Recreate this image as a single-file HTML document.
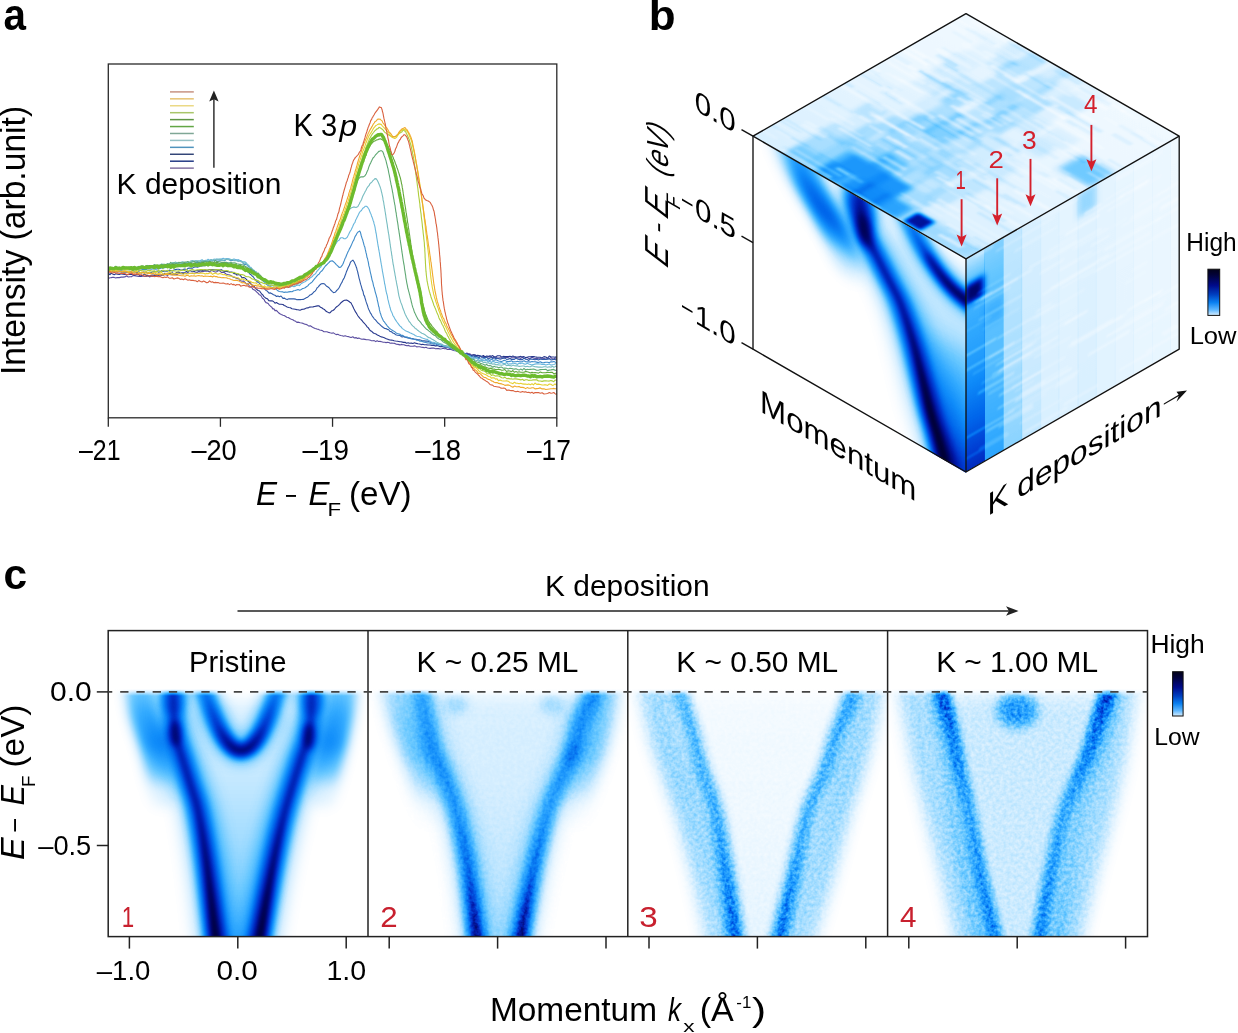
<!DOCTYPE html>
<html><head><meta charset="utf-8"><title>figure</title>
<style>
html,body{margin:0;padding:0;background:#fff;}
body{width:1238px;height:1033px;overflow:hidden;position:relative;}
svg{position:absolute;left:0;top:0;font-family:"Liberation Sans",sans-serif;}
text{opacity:.999}
</style></head><body>
<svg width="1238" height="1033" viewBox="0 0 1238 1033">
<text x="3.59" y="30.3" font-size="43.52" font-weight="bold" font-style="normal" fill="#000" textLength="22.45" lengthAdjust="spacingAndGlyphs" >a</text>
<text x="648.82" y="30" font-size="42.96" font-weight="bold" font-style="normal" fill="#000" textLength="26.87" lengthAdjust="spacingAndGlyphs" >b</text>
<text x="3.4" y="588.7" font-size="42.96" font-weight="bold" font-style="normal" fill="#000" textLength="23.61" lengthAdjust="spacingAndGlyphs" >c</text>
<clipPath id="clipA"><rect x="108.3" y="64" width="448.5" height="353.8"/></clipPath>
<g clip-path="url(#clipA)" fill="none" stroke-linejoin="round" stroke-linecap="round">
<path d="M108.0,277.9 108.9,278.2 110.0,277.8 111.2,277.6 112.7,277.2 114.2,277.4 115.8,277.9 117.6,277.5 119.3,277.6 121.2,277.1 123.0,277.1 124.8,276.9 126.6,275.9 128.3,277.0 130.0,276.7 131.5,276.7 132.9,275.6 134.4,275.6 135.8,275.9 137.3,276.1 138.7,276.5 140.1,276.3 141.6,276.5 143.1,276.0 144.6,276.4 146.2,276.4 147.8,275.9 149.5,276.9 151.2,276.3 153.0,276.5 154.3,275.6 155.7,275.5 157.1,275.6 158.5,275.6 160.0,275.8 161.5,275.5 163.0,275.1 164.5,274.7 166.0,274.8 167.6,275.4 169.2,274.4 170.7,274.7 172.3,274.7 173.9,273.7 175.5,274.2 177.1,274.7 178.7,273.1 180.3,273.7 181.9,273.7 183.4,273.2 185.0,273.7 186.5,273.4 188.0,272.6 189.5,273.5 191.1,273.3 192.6,273.2 194.2,273.3 195.7,272.7 197.3,272.4 198.9,271.6 200.4,272.3 202.0,271.6 203.6,271.5 205.1,271.0 206.6,271.1 208.1,271.2 209.6,272.0 211.1,270.4 212.5,270.7 213.9,271.5 215.3,272.1 216.7,271.8 218.0,270.8 219.7,270.8 221.3,272.4 222.9,272.3 224.4,272.6 226.0,274.0 227.5,274.5 228.9,274.7 230.4,275.3 231.8,276.0 233.1,277.1 234.5,277.3 235.8,278.0 237.1,278.6 238.4,278.3 239.6,280.3 240.8,280.8 242.0,281.2 243.5,281.0 245.0,282.4 246.4,284.0 247.8,283.8 249.1,285.5 250.4,287.0 251.6,286.9 252.8,289.2 253.9,289.7 255.0,290.3 256.1,291.4 257.1,292.5 258.0,293.1 259.4,294.8 260.5,295.2 261.5,296.5 262.4,298.2 263.3,298.8 264.1,299.5 265.0,301.4 266.0,302.7 267.1,302.9 268.2,303.5 269.3,305.1 270.5,306.2 271.7,307.1 272.8,308.9 273.9,308.7 275.0,310.6 276.3,310.4 277.5,311.5 278.6,312.8 279.9,313.8 281.3,314.5 283.0,315.2 284.1,315.6 285.4,316.3 286.8,317.2 288.3,317.5 289.8,318.5 291.3,319.3 292.8,319.7 294.3,320.7 295.7,321.3 296.9,322.4 298.0,322.1 300.2,322.7 301.7,323.0 303.1,323.4 305.0,324.2 306.2,324.4 307.5,325.1 308.9,326.1 310.3,325.7 311.8,326.7 313.5,327.7 315.2,328.5 317.0,329.1 318.3,329.3 319.6,330.0 321.0,330.3 322.4,330.6 323.9,331.7 325.4,331.7 327.0,331.8 328.6,332.4 330.1,332.8 331.8,333.2 333.4,332.9 335.0,333.9 336.4,334.6 337.8,334.3 339.2,334.9 340.7,335.5 342.2,335.7 343.6,336.2 345.1,335.7 346.6,336.3 348.2,336.6 349.7,337.1 351.2,337.5 352.8,336.8 354.4,338.0 356.0,337.6 357.4,338.4 358.9,338.1 360.4,338.7 361.9,339.2 363.4,339.1 365.0,339.4 366.5,339.8 368.1,339.8 369.6,340.0 371.2,340.6 372.7,340.7 374.2,340.6 375.7,341.6 377.2,340.8 378.6,341.5 380.0,341.4 381.6,341.8 383.2,342.2 384.7,342.3 386.1,342.6 387.5,342.3 388.9,342.5 390.3,343.3 391.8,343.1 393.2,343.3 394.8,343.4 396.4,344.3 398.1,344.4 400.0,344.9 401.3,344.4 402.6,344.8 404.1,344.7 405.5,345.4 407.0,345.8 408.6,345.4 410.2,346.2 411.8,346.2 413.4,346.1 415.0,345.9 416.6,346.9 418.2,346.7 419.8,346.8 421.4,347.2 423.0,347.4 424.5,347.8 425.9,347.3 427.4,348.0 428.7,348.2 430.0,348.4 431.9,348.1 433.7,348.1 435.4,348.7 437.1,348.6 438.6,348.6 440.2,349.0 441.7,348.7 443.1,348.3 444.5,348.8 445.9,348.6 447.3,349.4 448.7,349.4 450.0,349.3 451.7,349.8 453.4,350.4 455.0,350.6 456.6,351.3 458.1,351.5 459.6,352.2 461.0,353.0 462.4,353.5 463.7,352.9 465.0,353.9 466.9,353.1 468.5,353.9 470.0,353.8 471.5,355.4 473.1,354.7 475.0,355.5 476.3,355.6 477.6,355.9 479.0,355.8 480.4,356.4 481.9,357.2 483.4,356.6 485.0,357.0 486.6,357.3 488.3,356.9 490.0,356.6 491.4,357.0 492.8,357.8 494.2,356.7 495.6,357.2 497.1,358.0 498.6,358.0 500.1,357.7 501.7,358.1 503.3,357.9 504.9,357.4 506.6,357.2 508.3,357.7 510.0,358.4 511.4,357.8 512.9,357.7 514.4,357.8 516.0,357.5 517.5,358.1 519.1,357.7 520.8,358.4 522.4,357.2 524.0,358.4 525.6,358.0 527.2,357.4 528.8,358.6 530.4,358.2 532.0,357.3 533.5,358.0 535.0,358.5 536.7,358.2 538.5,358.8 540.3,358.7 542.1,358.7 544.0,358.6 545.8,359.0 547.6,358.7 549.3,358.6 550.9,357.5 552.4,358.9 553.8,359.0 555.0,358.3 556.1,358.2 557.0,359.3" stroke="#5b4ea0" stroke-width="1.1"/>
<path d="M108.0,272.7 108.9,273.8 110.0,274.7 111.2,273.2 112.7,274.0 114.2,274.7 115.8,273.8 117.6,274.2 119.3,274.5 121.2,273.7 123.0,274.2 124.8,274.4 126.6,274.7 128.3,274.4 130.0,274.4 131.5,274.1 132.9,274.5 134.4,275.1 135.8,274.8 137.3,274.4 138.7,274.5 140.1,276.2 141.6,275.5 143.1,275.4 144.6,273.9 146.2,275.4 147.8,275.3 149.5,275.9 151.2,275.3 153.0,275.0 154.3,275.2 155.7,274.0 157.1,275.2 158.5,274.8 160.0,274.2 161.5,275.0 163.0,275.0 164.5,273.4 166.0,273.6 167.6,273.9 169.2,273.7 170.7,273.2 172.3,272.8 173.9,274.0 175.5,273.4 177.1,272.2 178.7,272.0 180.3,273.2 181.9,272.7 183.4,272.9 185.0,272.4 186.5,271.5 188.0,271.9 189.5,270.6 191.1,271.1 192.6,271.3 194.2,271.4 195.7,270.7 197.3,270.8 198.9,270.9 200.4,270.7 202.0,270.7 203.6,270.3 205.1,270.0 206.6,270.4 208.1,270.0 209.6,269.5 211.1,269.5 212.5,269.8 213.9,269.8 215.3,269.9 216.7,269.9 218.0,270.1 219.8,270.1 221.5,269.8 223.2,270.9 224.8,271.5 226.4,271.5 228.0,271.6 229.6,272.3 231.1,272.1 232.5,272.2 234.0,273.6 235.4,273.6 236.8,275.0 238.1,274.7 239.4,274.6 240.7,275.9 242.0,277.7 243.5,277.6 245.0,278.1 246.4,279.3 247.8,281.0 249.1,282.0 250.4,283.0 251.6,284.7 252.8,285.4 253.9,286.2 255.0,287.5 256.1,289.0 257.1,289.6 258.0,290.5 259.6,291.0 260.8,292.7 261.9,294.3 262.9,295.0 263.9,296.6 264.9,297.4 266.0,298.4 267.5,298.8 269.0,300.8 270.5,300.9 272.0,300.8 273.5,301.5 275.0,303.2 276.6,302.5 277.9,303.6 279.3,304.2 281.0,304.3 283.0,304.5 284.2,305.5 285.6,306.1 287.1,307.0 288.7,307.5 290.4,307.7 292.0,308.7 293.6,309.0 295.2,309.3 296.7,309.6 298.0,309.7 300.0,310.2 301.7,309.4 303.3,309.2 304.9,308.9 306.4,308.0 308.0,307.9 309.7,307.1 311.4,307.0 313.0,306.9 314.6,306.5 316.2,306.1 317.5,305.9 319.1,305.9 320.5,307.3 321.7,307.8 323.0,308.8 324.4,309.4 325.8,311.1 327.3,311.9 329.0,312.9 330.2,312.6 331.5,311.1 332.9,310.5 334.3,309.5 335.7,307.7 337.0,306.5 338.3,305.6 339.6,304.3 341.0,302.7 342.2,301.8 343.5,300.8 344.6,300.3 346.6,300.1 348.4,301.0 350.0,302.3 350.9,302.7 351.7,304.3 352.5,305.7 353.2,307.2 354.0,309.0 354.8,310.4 355.5,311.9 356.2,312.8 357.0,314.3 358.0,316.0 358.9,317.1 359.9,318.3 361.0,319.5 362.1,320.6 363.2,322.2 364.4,323.4 365.4,324.5 366.3,325.6 367.2,327.0 368.2,327.6 369.3,329.4 370.5,330.8 372.0,331.6 373.1,332.8 374.3,333.5 375.6,333.8 377.0,334.7 378.4,335.4 379.9,336.3 381.4,336.9 382.9,337.3 384.3,337.7 385.7,338.4 387.0,338.9 388.6,339.6 390.0,340.0 391.3,340.1 392.6,340.2 394.0,340.8 395.6,341.0 397.6,341.2 400.0,341.8 401.1,341.8 402.4,342.1 403.7,342.4 405.1,342.3 406.5,343.2 408.1,342.7 409.6,343.2 411.3,343.1 412.9,343.5 414.6,342.8 416.2,343.4 417.9,343.8 419.6,344.0 421.2,344.6 422.8,344.3 424.4,344.7 425.9,344.7 427.3,344.9 428.7,345.0 430.0,345.0 431.9,345.4 433.7,345.2 435.4,345.9 437.1,345.6 438.6,346.1 440.2,346.8 441.7,346.4 443.1,346.7 444.5,347.2 445.9,347.1 447.3,347.2 448.7,347.7 450.0,348.1 451.7,348.7 453.4,348.9 455.0,350.1 456.6,350.7 458.1,351.0 459.6,351.7 461.0,352.1 462.4,353.5 463.7,353.0 465.0,354.1 466.9,354.0 468.5,354.2 470.0,355.0 471.5,355.4 473.1,354.9 475.0,354.8 476.3,355.6 477.6,355.3 479.0,355.6 480.4,356.2 481.9,356.2 483.4,355.5 485.0,356.9 486.6,356.0 488.3,356.4 490.0,355.8 491.4,356.2 492.8,355.5 494.2,357.1 495.6,357.0 497.1,355.9 498.6,355.8 500.1,355.8 501.7,357.1 503.3,356.4 504.9,356.6 506.6,356.5 508.3,356.6 510.0,356.2 511.4,356.7 512.9,356.1 514.4,356.7 516.0,356.9 517.5,357.0 519.1,356.7 520.8,356.4 522.4,356.9 524.0,356.6 525.6,357.6 527.2,357.2 528.8,356.8 530.4,356.7 532.0,356.6 533.5,356.5 535.0,356.8 536.7,357.1 538.5,357.2 540.3,357.2 542.1,357.9 544.0,356.6 545.8,357.0 547.6,358.2 549.3,356.1 550.9,356.7 552.4,357.0 553.8,357.0 555.0,357.2 556.1,356.9 557.0,357.1" stroke="#27378c" stroke-width="1.1"/>
<path d="M108.0,271.5 108.9,271.9 110.0,270.7 111.2,271.2 112.7,271.6 114.2,271.2 115.8,271.2 117.6,272.0 119.3,271.5 121.2,272.1 123.0,272.2 124.8,272.1 126.6,272.2 128.3,271.9 130.0,271.4 131.5,272.0 132.9,272.3 134.4,271.8 135.8,272.1 137.3,272.5 138.7,271.8 140.1,272.5 141.6,273.1 143.1,272.0 144.6,272.3 146.2,272.2 147.8,272.9 149.5,272.3 151.2,272.5 153.0,271.7 154.3,271.9 155.7,271.8 157.1,270.9 158.5,272.3 160.0,271.9 161.5,270.6 163.0,271.6 164.5,271.1 166.0,271.2 167.6,271.1 169.2,270.1 170.7,270.5 172.3,271.1 173.9,270.0 175.5,269.6 177.1,269.3 178.7,269.2 180.3,269.7 181.9,270.1 183.4,269.4 185.0,269.1 186.5,269.8 188.0,268.4 189.5,268.0 191.1,268.3 192.6,268.1 194.2,267.1 195.7,266.7 197.3,267.1 198.9,266.8 200.4,265.8 202.0,266.0 203.6,265.5 205.1,265.7 206.6,265.2 208.1,265.0 209.6,264.6 211.1,265.0 212.5,265.0 213.9,264.1 215.3,264.5 216.7,263.7 218.0,264.0 219.8,264.3 221.5,264.7 223.2,263.9 224.8,264.1 226.4,264.3 228.0,263.7 229.6,264.6 231.1,264.5 232.5,265.2 234.0,264.9 235.4,264.8 236.8,266.1 238.1,266.6 239.4,266.7 240.7,267.9 242.0,267.9 243.4,268.4 244.8,269.7 246.1,269.7 247.4,271.1 248.6,272.5 249.8,274.0 251.0,274.7 252.1,276.0 253.2,276.7 254.2,278.3 255.2,280.0 256.2,279.9 257.1,282.2 258.0,281.7 259.6,283.5 260.8,284.9 261.9,286.5 262.9,286.5 263.9,287.2 264.9,289.3 266.0,290.4 267.5,291.3 269.0,293.1 270.5,292.9 272.0,293.7 273.5,294.7 275.0,295.2 276.6,296.5 277.9,295.9 279.3,296.8 281.0,296.0 283.0,298.4 284.3,298.1 285.7,298.9 287.2,299.6 288.9,298.8 290.6,298.9 292.2,298.9 293.9,298.9 295.4,299.1 296.8,299.7 298.0,299.5 300.3,299.6 301.9,299.5 303.3,299.4 305.0,298.6 306.2,297.8 307.5,297.3 308.8,296.2 310.1,294.9 311.5,294.5 312.8,293.2 314.0,291.8 315.1,291.1 316.3,289.5 317.3,287.6 318.4,286.9 319.4,285.4 320.4,284.5 321.4,283.7 323.1,283.6 324.7,284.1 326.3,286.0 328.0,287.0 329.4,288.2 330.7,290.0 332.1,291.4 333.5,292.6 335.0,292.3 335.8,291.8 336.7,290.4 337.6,289.7 338.5,288.6 339.4,287.3 340.3,285.2 341.2,283.5 342.1,282.1 343.0,279.9 343.6,278.9 344.3,277.7 345.0,275.7 345.6,274.3 346.3,272.1 347.0,270.6 347.7,268.8 348.3,267.2 349.0,265.9 349.6,264.8 350.2,262.8 350.7,261.9 351.2,261.4 352.9,260.1 354.2,262.0 355.5,265.1 355.9,265.9 356.3,267.3 356.7,268.1 357.1,270.1 357.5,271.1 357.9,273.0 358.3,274.6 358.7,276.4 359.1,278.3 359.5,279.7 359.9,281.2 360.3,282.8 360.8,284.7 361.2,285.9 361.7,287.6 362.1,289.3 362.6,290.6 363.1,291.7 363.5,294.1 364.0,295.5 364.5,296.0 365.0,298.0 365.5,299.6 366.0,301.4 366.5,302.9 367.0,304.2 367.5,305.6 368.0,307.4 368.6,309.2 369.2,310.2 369.8,311.6 370.5,313.2 371.3,314.2 372.2,316.0 373.2,317.3 374.2,318.8 375.2,319.7 376.3,320.9 377.3,322.1 378.4,323.3 379.5,324.1 380.7,325.4 382.0,326.5 383.3,327.5 384.7,328.5 386.0,328.6 387.4,329.4 388.7,329.7 390.0,331.5 391.3,331.6 392.3,332.5 393.3,333.3 394.3,333.5 395.7,334.7 397.5,335.2 400.0,335.5 401.1,336.4 402.2,336.9 403.5,336.4 404.9,337.3 406.3,337.5 407.8,337.9 409.4,338.2 411.0,338.7 412.7,338.6 414.4,339.2 416.1,339.2 417.8,339.8 419.4,339.7 421.1,340.2 422.7,340.9 424.3,340.9 425.9,341.1 427.3,341.1 428.7,341.5 430.0,342.0 431.9,342.7 433.7,343.0 435.4,343.4 437.1,343.7 438.6,344.4 440.2,344.4 441.7,344.8 443.1,345.6 444.5,345.8 445.9,346.1 447.3,346.5 448.7,347.0 450.0,347.7 451.7,348.2 453.4,348.5 455.0,349.6 456.6,350.3 458.1,350.7 459.6,351.9 461.0,352.2 462.4,352.8 463.7,353.9 465.0,354.6 466.9,354.3 468.5,355.3 470.0,355.0 471.5,356.7 473.1,355.7 475.0,356.8 476.3,356.2 477.6,357.0 479.0,357.8 480.4,355.9 481.9,357.0 483.4,357.6 485.0,357.5 486.6,357.4 488.3,358.9 490.0,358.1 491.4,357.4 492.8,358.6 494.2,357.5 495.6,358.9 497.1,358.2 498.6,358.6 500.1,359.2 501.7,358.7 503.3,358.1 504.9,358.1 506.6,359.4 508.3,359.3 510.0,358.6 511.4,359.4 512.9,359.3 514.4,359.4 516.0,358.1 517.5,359.0 519.1,359.6 520.8,359.5 522.4,359.6 524.0,358.1 525.6,359.3 527.2,359.5 528.8,360.4 530.4,358.9 532.0,359.2 533.5,359.4 535.0,359.8 536.7,359.2 538.5,359.9 540.3,359.0 542.1,359.5 544.0,359.2 545.8,359.5 547.6,359.1 549.3,358.7 550.9,359.9 552.4,359.6 553.8,359.2 555.0,359.5 556.1,359.9 557.0,359.0" stroke="#2f5aa8" stroke-width="1.1"/>
<path d="M108.0,270.0 108.9,270.2 110.0,270.2 111.2,269.9 112.7,269.1 114.2,270.6 115.8,270.2 117.6,270.1 119.3,269.9 121.2,270.2 123.0,269.9 124.8,269.6 126.6,269.7 128.3,269.8 130.0,269.7 131.5,269.4 132.9,270.2 134.4,269.3 135.8,270.2 137.3,269.4 138.7,270.0 140.1,270.4 141.6,269.8 143.1,269.3 144.6,269.6 146.2,269.6 147.8,268.6 149.5,269.0 151.2,269.2 153.0,268.8 154.3,268.9 155.7,269.1 157.1,268.9 158.5,268.8 160.0,268.5 161.5,268.0 163.0,267.9 164.5,267.6 166.0,267.4 167.6,267.3 169.2,266.4 170.7,266.8 172.3,266.7 173.9,266.1 175.5,266.3 177.1,266.3 178.7,265.8 180.3,266.6 181.9,264.3 183.4,265.1 185.0,264.2 186.5,265.2 188.0,265.8 189.5,263.2 191.1,264.1 192.6,264.0 194.2,263.4 195.7,263.5 197.3,262.0 198.9,263.1 200.4,262.6 202.0,262.1 203.6,261.6 205.1,261.9 206.6,261.1 208.1,261.2 209.6,260.7 211.1,259.7 212.5,260.5 213.9,260.4 215.3,260.5 216.7,259.7 218.0,260.0 219.8,260.2 221.5,259.9 223.2,260.3 224.8,260.6 226.4,259.3 228.0,258.8 229.6,260.1 231.1,260.4 232.5,260.3 234.0,260.4 235.4,259.9 236.8,260.1 238.1,261.1 239.4,260.7 240.7,260.7 242.0,261.6 243.4,263.8 244.8,264.4 246.1,264.2 247.4,265.2 248.6,266.8 249.8,267.6 251.0,269.8 252.1,270.4 253.2,271.2 254.2,273.5 255.2,273.8 256.2,275.3 257.1,276.1 258.0,276.9 259.6,278.6 260.8,279.3 261.9,279.8 262.9,280.6 263.9,281.8 264.9,282.8 266.0,284.0 267.5,285.0 269.0,286.1 270.5,286.8 272.0,287.2 273.5,288.0 275.0,288.0 276.6,289.7 277.9,290.8 279.3,291.5 281.0,291.7 283.0,291.9 284.2,292.4 285.6,292.0 287.1,292.2 288.7,291.9 290.4,291.6 292.0,291.8 293.7,290.7 295.2,290.5 296.7,290.0 298.0,289.6 299.7,290.3 301.2,289.5 302.5,288.6 303.8,288.2 305.1,287.7 306.4,286.8 307.8,285.9 308.9,284.4 310.0,283.6 311.1,282.8 312.2,281.8 313.3,280.3 314.5,278.8 315.6,277.6 316.8,276.2 318.0,274.8 319.0,274.3 320.0,272.6 321.0,271.5 322.1,270.7 323.2,269.1 324.3,267.5 325.4,266.0 326.5,265.0 327.4,264.2 328.4,263.0 329.2,262.3 330.0,261.4 332.2,260.8 333.5,261.7 335.0,263.1 336.3,264.6 337.7,265.8 339.1,267.4 340.7,267.3 341.3,266.4 341.9,265.6 342.5,264.8 343.1,263.8 343.7,262.0 344.4,260.4 345.1,258.3 345.7,257.5 346.5,255.3 347.2,253.6 348.0,251.7 348.6,250.7 349.3,249.1 350.0,247.9 350.7,246.4 351.5,244.7 352.2,243.1 353.0,241.2 353.8,240.1 354.5,238.1 355.2,236.3 355.9,235.4 356.6,234.0 357.2,233.0 357.8,232.3 358.3,231.9 359.7,231.0 360.5,232.6 361.2,235.5 362.0,238.2 362.4,239.0 362.8,240.3 363.1,241.5 363.5,242.9 363.9,244.6 364.3,245.9 364.8,246.9 365.2,249.2 365.6,250.6 366.0,252.7 366.4,254.0 366.7,255.6 367.0,257.5 367.4,258.1 367.7,259.5 368.0,260.9 368.3,262.1 368.6,263.8 368.9,265.9 369.3,267.1 369.6,268.4 369.9,270.0 370.3,272.1 370.6,273.3 371.0,274.9 371.3,276.5 371.7,278.2 372.0,279.8 372.4,281.0 372.8,282.2 373.1,283.7 373.5,285.6 373.9,286.9 374.3,288.0 374.7,289.6 375.0,291.1 375.4,292.5 375.8,293.8 376.2,295.1 376.6,296.8 377.0,298.0 377.3,300.2 377.7,301.6 378.0,302.8 378.4,305.0 378.7,306.5 379.1,307.4 379.4,309.9 379.8,311.2 380.2,313.0 380.6,313.7 381.1,315.6 381.6,316.9 382.1,318.1 382.7,319.3 383.5,321.1 384.4,321.9 385.3,323.3 386.2,324.4 387.2,325.8 388.2,326.9 389.3,328.2 390.6,329.1 391.9,330.1 393.4,330.9 395.0,331.9 396.1,332.9 397.3,333.4 398.6,333.9 399.9,334.3 401.3,335.4 402.7,335.4 404.1,336.3 405.6,336.9 407.2,337.1 408.7,337.9 410.3,337.9 411.9,338.9 413.5,339.2 415.1,339.2 416.8,340.2 418.4,340.3 420.0,341.3 421.4,341.2 422.9,341.7 424.4,342.2 425.9,342.4 427.5,342.9 429.1,343.0 430.7,343.6 432.4,343.8 434.0,344.1 435.6,343.7 437.2,345.0 438.8,345.0 440.4,344.9 441.9,345.6 443.4,346.0 444.9,346.5 446.3,346.3 447.6,347.2 448.8,347.1 450.0,348.1 452.1,348.1 454.0,349.1 455.8,349.5 457.3,350.1 458.8,351.4 460.1,352.2 461.3,353.2 462.6,353.5 463.8,353.5 465.0,353.5 466.9,354.7 468.5,355.3 470.0,355.7 471.5,356.8 473.1,357.1 475.0,357.3 476.3,357.8 477.6,357.9 479.0,358.4 480.4,358.9 481.9,359.2 483.4,358.7 485.0,358.6 486.6,360.1 488.3,359.8 490.0,360.4 491.4,359.3 492.8,360.1 494.2,360.3 495.6,359.8 497.1,360.3 498.6,361.0 500.1,361.3 501.7,361.6 503.3,360.6 504.9,360.4 506.6,361.4 508.3,361.6 510.0,361.4 511.4,360.7 512.9,361.7 514.4,361.8 516.0,361.7 517.5,361.3 519.1,361.7 520.8,361.9 522.4,361.4 524.0,360.8 525.6,361.8 527.2,361.9 528.8,361.7 530.4,362.1 532.0,361.5 533.5,361.7 535.0,361.7 536.7,362.1 538.5,362.6 540.3,361.7 542.1,362.8 544.0,362.6 545.8,362.3 547.6,362.2 549.3,362.7 550.9,361.8 552.4,361.9 553.8,361.4 555.0,362.1 556.1,362.5 557.0,362.2" stroke="#3f8bc9" stroke-width="1.1"/>
<path d="M108.0,269.2 108.9,268.9 110.0,269.0 111.2,268.3 112.7,269.4 114.2,268.7 115.8,268.4 117.6,268.5 119.3,268.4 121.2,269.2 123.0,269.2 124.8,268.1 126.6,269.0 128.3,269.0 130.0,268.2 131.5,267.8 132.9,268.0 134.4,268.0 135.8,268.4 137.3,268.0 138.7,267.2 140.1,268.1 141.6,267.2 143.1,268.2 144.6,267.2 146.2,267.3 147.8,267.1 149.5,267.1 151.2,267.8 153.0,267.4 154.3,267.1 155.7,266.9 157.1,265.9 158.5,266.2 160.0,266.0 161.5,265.6 163.0,266.1 164.5,265.3 166.0,265.1 167.6,264.8 169.2,264.1 170.7,265.1 172.3,265.2 173.9,264.5 175.5,263.8 177.1,262.8 178.7,263.9 180.3,264.1 181.9,263.5 183.4,263.6 185.0,263.7 186.5,263.3 188.0,262.4 189.5,262.9 191.1,262.5 192.6,261.3 194.2,261.6 195.7,260.9 197.3,261.2 198.9,261.3 200.4,260.4 202.0,259.7 203.6,261.0 205.1,260.4 206.6,260.7 208.1,259.2 209.6,260.1 211.1,260.4 212.5,260.3 213.9,259.1 215.3,259.3 216.7,259.0 218.0,259.4 219.8,259.4 221.5,258.9 223.2,258.2 224.8,259.1 226.4,258.6 228.0,259.1 229.6,258.9 231.1,259.6 232.5,259.5 234.0,258.9 235.4,259.4 236.8,260.3 238.1,259.6 239.4,260.3 240.7,261.1 242.0,261.6 243.4,261.9 244.8,261.8 246.1,262.7 247.4,264.4 248.6,265.5 249.8,267.6 251.0,267.2 252.1,269.3 253.2,270.3 254.2,270.3 255.2,271.8 256.2,273.3 257.1,273.9 258.0,274.9 259.6,276.7 260.8,277.5 261.9,279.3 262.9,279.9 263.9,281.0 264.9,282.4 266.0,282.7 267.5,283.9 269.0,285.2 270.5,284.9 272.0,285.3 273.5,286.0 275.0,285.8 276.6,286.9 277.9,286.1 279.3,287.2 281.0,286.8 283.0,286.6 284.2,287.7 285.6,286.5 287.1,287.6 288.6,287.0 290.2,287.2 291.9,285.9 293.5,286.6 295.1,286.4 296.6,285.4 298.0,284.9 299.5,285.6 300.9,283.9 302.3,283.0 303.6,282.2 305.0,281.7 306.3,280.8 307.5,279.9 308.8,279.4 310.0,277.9 311.2,277.2 312.4,276.5 313.5,274.9 314.6,274.4 315.7,273.5 316.7,271.6 317.8,270.4 318.9,269.1 320.0,267.5 320.8,267.0 321.7,265.2 322.5,264.5 323.3,263.4 324.1,261.2 325.0,260.2 325.8,258.3 326.6,257.6 327.5,255.8 328.3,254.5 329.1,253.3 330.0,252.1 331.0,250.5 332.0,249.1 333.0,247.5 334.1,246.2 335.1,244.4 336.2,243.3 337.2,241.5 338.2,240.6 339.1,240.2 339.9,238.8 340.7,237.8 342.7,237.8 344.1,238.8 345.6,238.6 346.3,238.0 347.1,237.4 347.8,236.1 348.6,234.5 349.4,232.8 350.3,231.1 351.1,230.0 352.0,228.1 352.7,226.5 353.4,224.7 354.1,223.4 354.9,222.7 355.6,220.2 356.4,218.8 357.1,217.3 357.9,215.7 358.6,214.3 359.3,212.7 360.0,211.7 361.4,210.5 362.8,208.3 364.1,207.5 365.3,206.2 366.4,206.3 367.5,206.9 368.3,208.3 369.1,209.5 370.0,212.1 370.5,213.2 371.0,214.2 371.5,215.9 372.0,217.0 372.6,218.6 373.1,220.4 373.6,221.4 374.1,223.9 374.6,225.4 374.9,226.6 375.2,228.2 375.4,229.8 375.7,230.9 375.9,232.7 376.2,233.5 376.4,234.9 376.7,237.1 376.9,238.4 377.2,240.1 377.4,241.3 377.7,243.4 378.0,245.1 378.2,246.5 378.5,247.7 378.7,249.5 379.0,250.5 379.2,251.9 379.5,253.4 379.8,255.6 380.0,256.7 380.3,258.3 380.6,259.9 380.8,261.7 381.1,263.1 381.4,264.9 381.7,266.4 381.9,268.0 382.2,269.4 382.4,271.1 382.7,272.4 383.0,274.2 383.3,275.8 383.6,277.4 383.8,278.4 384.1,280.3 384.4,281.8 384.6,283.7 384.9,284.5 385.2,286.2 385.5,287.8 385.7,289.2 386.0,291.0 386.3,292.0 386.7,293.8 387.0,294.6 387.4,296.1 387.7,298.4 388.0,299.7 388.4,301.2 388.7,302.6 389.1,304.2 389.5,305.3 389.9,307.3 390.3,308.3 390.7,310.1 391.2,311.3 391.7,312.1 392.3,313.6 392.9,315.5 393.7,316.6 394.4,317.9 395.2,319.4 396.0,320.6 396.8,321.8 397.8,323.2 398.7,324.4 399.8,325.9 400.9,326.7 402.2,328.3 403.5,329.4 405.0,330.4 406.1,331.0 407.2,331.4 408.5,332.1 409.8,332.8 411.1,333.3 412.6,334.1 414.0,334.6 415.5,335.8 417.0,336.2 418.5,336.5 420.0,336.7 421.6,337.8 423.1,338.3 424.5,338.7 426.0,339.2 427.4,339.4 428.7,340.6 430.0,341.0 431.6,342.2 433.2,342.2 434.7,342.6 436.2,343.5 437.7,343.7 439.2,344.1 440.6,344.4 442.0,344.8 443.4,345.7 444.8,346.0 446.1,346.6 447.4,346.5 448.7,347.0 450.0,347.3 451.6,348.4 453.1,348.4 454.6,349.6 456.0,350.4 457.4,351.2 458.8,351.3 460.1,352.6 461.4,352.5 462.6,353.1 463.8,353.4 465.0,355.0 466.6,356.0 468.1,355.6 469.4,356.2 470.6,356.9 471.9,358.7 473.4,358.5 475.0,358.3 476.3,358.1 477.6,359.0 479.0,360.2 480.4,360.9 481.9,360.2 483.4,360.4 485.0,360.8 486.6,360.4 488.3,362.0 490.0,361.3 491.4,362.5 492.8,361.4 494.2,361.8 495.6,362.6 497.1,362.3 498.6,363.1 500.1,362.9 501.7,362.5 503.3,363.4 504.9,363.6 506.6,362.5 508.3,364.3 510.0,363.8 511.4,364.0 512.9,362.9 514.4,363.4 516.0,363.7 517.5,364.4 519.1,363.3 520.8,363.6 522.4,363.1 524.0,363.9 525.6,364.2 527.2,363.3 528.8,363.9 530.4,364.4 532.0,364.9 533.5,364.5 535.0,364.1 536.7,363.7 538.5,363.9 540.3,364.0 542.1,364.4 544.0,364.3 545.8,365.1 547.6,364.5 549.3,363.9 550.9,365.1 552.4,364.8 553.8,364.5 555.0,364.1 556.1,363.6 557.0,364.0" stroke="#68b6dc" stroke-width="1.1"/>
<path d="M108.0,268.9 108.9,268.1 110.0,267.9 111.2,268.5 112.7,268.5 114.2,268.7 115.8,268.7 117.6,269.0 119.3,268.0 121.2,268.8 123.0,267.8 124.8,268.5 126.6,268.2 128.3,268.2 130.0,268.4 131.5,267.9 132.9,268.3 134.4,268.1 135.8,267.7 137.3,267.3 138.7,267.1 140.1,267.0 141.6,267.1 143.1,267.0 144.6,268.2 146.2,267.0 147.8,266.9 149.5,266.0 151.2,265.9 153.0,265.9 154.3,265.9 155.7,265.2 157.1,266.2 158.5,265.1 160.0,265.6 161.5,263.9 163.0,264.7 164.5,264.7 166.0,264.4 167.6,264.4 169.2,264.0 170.7,263.8 172.3,262.6 173.9,262.9 175.5,262.0 177.1,263.1 178.7,262.8 180.3,262.4 181.9,261.9 183.4,261.9 185.0,262.8 186.5,262.6 188.0,261.7 189.5,262.2 191.1,260.7 192.6,260.5 194.2,261.0 195.7,260.7 197.3,260.7 198.9,260.9 200.4,262.1 202.0,260.3 203.6,260.5 205.1,260.6 206.6,260.3 208.1,260.7 209.6,261.0 211.1,259.6 212.5,260.2 213.9,259.9 215.3,260.2 216.7,259.3 218.0,259.2 219.8,259.0 221.5,260.2 223.2,260.1 224.8,260.0 226.4,258.9 228.0,259.8 229.6,259.7 231.1,259.5 232.5,259.8 234.0,260.7 235.4,260.7 236.8,260.7 238.1,261.2 239.4,261.0 240.7,261.6 242.0,262.0 243.5,262.9 245.0,263.3 246.4,264.1 247.8,265.1 249.1,265.8 250.4,268.2 251.6,268.5 252.8,269.5 253.9,271.4 255.0,272.0 256.1,271.6 257.1,273.5 258.0,274.4 259.6,276.1 260.8,277.1 261.9,277.9 262.9,278.0 263.9,279.0 264.9,280.4 266.0,281.2 267.5,281.3 269.0,282.2 270.5,282.7 272.0,283.3 273.5,283.8 275.0,283.9 276.6,283.9 277.9,285.5 279.3,286.0 281.0,285.4 283.0,286.0 284.2,285.7 285.5,285.8 286.8,285.7 288.3,285.1 289.8,285.6 291.3,285.6 292.9,284.5 294.6,285.3 296.3,284.8 298.0,283.8 299.1,283.3 300.3,281.8 301.5,280.6 302.8,279.6 304.1,278.5 305.4,277.7 306.7,276.5 308.1,275.5 309.4,273.7 310.7,273.6 312.0,272.4 313.2,270.7 314.4,269.9 315.5,268.8 316.5,267.9 317.5,266.9 319.2,265.7 320.6,264.5 321.9,264.0 323.0,263.3 324.0,262.7 325.0,261.5 326.1,260.6 327.2,259.0 327.8,258.1 328.5,256.6 329.2,255.8 329.8,254.6 330.5,253.2 331.2,251.5 331.8,250.1 332.5,248.6 333.1,247.4 333.8,246.0 334.4,244.0 335.1,242.4 335.7,241.1 336.3,239.5 336.9,237.8 337.5,236.4 338.0,235.1 338.5,233.8 339.1,231.7 339.6,230.2 340.1,229.0 340.6,226.9 341.1,225.7 341.6,224.2 342.1,222.6 342.6,220.9 343.1,219.7 343.6,218.3 344.0,217.2 344.5,215.8 345.0,215.3 346.3,212.4 347.5,211.1 348.7,209.9 349.9,209.1 351.1,208.0 352.2,207.5 354.2,206.9 356.0,207.5 358.0,206.4 358.6,205.0 359.3,204.0 360.0,202.3 360.7,201.3 361.5,199.7 362.2,197.8 363.0,195.8 363.7,194.5 364.5,193.1 365.2,191.6 366.0,190.2 367.0,188.0 368.0,186.7 369.0,185.7 370.0,183.6 371.0,182.8 372.0,181.8 373.0,180.5 373.8,179.8 374.6,178.9 376.0,178.6 377.1,180.0 378.0,181.7 379.0,184.0 379.4,185.2 379.8,186.0 380.2,187.1 380.6,188.4 381.0,189.6 381.4,191.6 381.8,193.0 382.2,194.9 382.7,197.2 382.9,198.2 383.1,199.9 383.3,200.8 383.6,201.8 383.8,203.3 384.0,204.8 384.3,206.2 384.5,208.1 384.8,209.0 385.0,211.0 385.3,212.5 385.5,213.8 385.8,215.7 386.0,217.3 386.3,219.1 386.5,220.5 386.8,222.3 387.0,223.4 387.3,225.1 387.5,227.2 387.8,228.8 388.0,230.0 388.2,231.4 388.5,233.4 388.7,234.2 389.0,236.1 389.2,238.1 389.5,239.7 389.7,240.9 389.9,242.3 390.2,244.7 390.4,246.0 390.6,247.3 390.9,249.2 391.1,250.9 391.3,251.6 391.6,254.1 391.8,255.5 392.0,256.2 392.2,258.4 392.5,259.2 392.7,261.3 392.9,262.4 393.2,264.7 393.5,265.7 393.8,267.5 394.1,269.4 394.3,270.6 394.6,272.1 394.9,273.7 395.1,275.3 395.4,276.4 395.7,278.3 395.9,279.7 396.2,280.9 396.5,282.7 396.7,283.6 397.0,285.3 397.3,286.5 397.6,288.4 397.8,289.3 398.1,291.2 398.3,292.6 398.6,293.9 398.8,295.3 399.2,296.8 399.5,298.1 399.9,299.3 400.4,301.2 401.0,302.9 401.5,304.1 402.0,305.3 402.5,306.9 403.0,308.6 403.5,309.7 404.1,311.1 404.7,313.0 405.3,314.4 406.0,315.8 406.7,317.3 407.4,318.4 408.2,319.8 409.1,321.5 410.0,322.4 411.0,323.8 412.0,325.1 413.0,326.1 414.1,327.0 415.2,328.4 416.5,329.1 417.7,330.3 419.1,331.4 420.4,332.3 421.8,333.2 423.2,333.7 424.7,334.5 426.1,335.6 427.5,336.7 428.9,337.8 430.2,337.9 431.5,339.0 432.7,339.5 433.9,340.2 435.0,340.9 436.8,342.2 438.5,342.9 440.1,343.9 441.6,344.0 443.0,345.0 444.4,345.5 445.8,345.8 447.1,346.4 448.5,346.7 450.0,347.2 451.4,348.0 452.8,348.6 454.2,350.2 455.7,350.1 457.1,351.3 458.5,351.6 459.9,352.3 461.3,353.2 462.6,353.2 463.8,354.6 465.0,354.9 466.6,354.9 468.1,356.6 469.4,357.4 470.6,358.0 471.9,359.2 473.4,358.9 475.0,360.0 476.3,360.5 477.6,360.2 479.0,361.6 480.4,360.9 481.9,361.3 483.4,362.5 485.0,362.2 486.6,363.0 488.3,362.7 490.0,363.7 491.4,363.4 492.8,364.3 494.2,363.7 495.6,364.8 497.1,364.6 498.6,364.9 500.1,365.0 501.7,365.3 503.3,364.8 504.9,364.3 506.6,365.6 508.3,365.3 510.0,365.6 511.4,366.1 512.9,365.1 514.4,365.8 516.0,365.9 517.5,365.8 519.1,366.4 520.8,366.3 522.4,366.0 524.0,366.0 525.6,366.8 527.2,366.2 528.8,366.8 530.4,366.8 532.0,365.8 533.5,366.2 535.0,366.7 536.7,366.9 538.5,367.1 540.3,367.1 542.1,367.3 544.0,366.7 545.8,366.7 547.6,367.2 549.3,366.7 550.9,367.3 552.4,366.2 553.8,367.2 555.0,366.8 556.1,366.0 557.0,367.3" stroke="#77bcc0" stroke-width="1.1"/>
<path d="M108.0,268.1 108.9,268.0 110.0,267.5 111.2,267.7 112.7,268.6 114.2,267.5 115.8,266.3 117.6,267.5 119.3,267.3 121.2,267.8 123.0,267.6 124.8,267.3 126.6,267.3 128.3,268.1 130.0,266.9 131.5,268.3 132.9,267.1 134.4,266.7 135.8,267.5 137.3,267.2 138.7,266.4 140.1,267.1 141.6,265.8 143.1,266.0 144.6,266.8 146.2,266.0 147.8,265.4 149.5,266.1 151.2,266.1 153.0,265.5 154.3,264.6 155.7,265.1 157.1,265.3 158.5,265.3 160.0,265.6 161.5,264.5 163.0,264.3 164.5,264.3 166.0,264.7 167.6,263.6 169.2,264.4 170.7,262.4 172.3,263.9 173.9,263.0 175.5,263.4 177.1,263.4 178.7,262.4 180.3,262.8 181.9,262.8 183.4,262.9 185.0,262.1 186.5,262.0 188.0,261.5 189.5,263.4 191.1,262.1 192.6,262.0 194.2,261.4 195.7,262.5 197.3,261.7 198.9,262.6 200.4,262.3 202.0,261.9 203.6,262.2 205.1,261.3 206.6,261.7 208.1,261.6 209.6,261.2 211.1,261.8 212.5,261.8 213.9,262.5 215.3,260.4 216.7,261.6 218.0,261.6 219.8,261.9 221.5,262.4 223.2,262.4 224.8,262.4 226.4,262.3 228.0,262.8 229.6,262.9 231.1,262.1 232.5,263.0 234.0,262.7 235.4,263.0 236.8,263.8 238.1,264.0 239.4,264.4 240.7,264.2 242.0,264.9 243.6,265.1 245.2,266.3 246.8,267.2 248.2,268.4 249.6,269.0 251.0,268.9 252.3,269.9 253.6,270.5 254.8,271.9 255.9,273.4 257.0,273.6 258.0,273.0 259.6,274.6 260.8,275.7 261.9,277.6 262.9,278.4 263.9,279.5 264.9,281.1 266.0,280.6 267.5,281.3 269.0,283.1 270.5,282.7 272.0,282.6 273.5,282.3 275.0,282.8 276.6,282.8 277.9,284.4 279.3,284.8 281.0,285.5 283.0,284.9 284.2,284.6 285.5,284.6 286.8,285.7 288.3,283.9 289.8,284.6 291.3,284.3 292.9,284.2 294.6,283.3 296.3,283.1 298.0,282.4 299.1,281.3 300.3,280.5 301.5,279.7 302.8,278.6 304.1,277.8 305.4,276.7 306.7,275.7 308.1,274.9 309.4,273.8 310.7,272.2 312.0,271.4 313.2,270.2 314.4,269.3 315.5,268.2 316.5,267.4 317.5,266.4 319.2,265.0 320.6,264.5 321.9,263.8 323.0,263.0 324.0,262.2 325.0,261.3 326.1,260.0 327.2,258.1 327.8,257.7 328.5,256.5 329.1,255.1 329.7,253.8 330.4,253.1 331.0,251.0 331.6,250.5 332.2,248.7 332.9,247.7 333.5,245.4 334.2,244.0 334.8,242.3 335.5,240.8 336.2,239.1 336.9,237.3 337.4,236.5 338.0,234.7 338.6,233.5 339.1,232.4 339.7,230.7 340.3,229.3 340.9,228.1 341.5,226.4 342.1,224.7 342.7,223.5 343.3,222.0 343.9,220.9 344.5,218.7 345.1,217.7 345.7,215.8 346.3,214.4 346.8,212.9 347.4,211.5 348.0,210.2 348.5,208.9 349.0,206.8 349.6,205.8 350.1,204.1 350.6,202.4 351.1,200.3 351.7,199.1 352.2,197.1 352.7,195.6 353.2,193.7 353.7,192.3 354.2,190.8 354.7,189.2 355.2,187.3 355.6,186.2 356.1,184.9 356.6,183.0 357.0,182.4 357.5,180.5 357.9,180.0 358.3,179.1 360.2,177.1 361.8,176.7 363.4,176.9 365.0,175.8 365.6,174.7 366.2,174.0 366.8,172.3 367.5,170.7 368.1,169.4 368.7,167.4 369.3,165.8 370.0,164.1 370.6,163.1 371.3,161.6 372.0,160.0 373.0,158.0 374.2,156.8 375.3,155.2 376.5,153.9 377.7,152.7 378.8,151.4 379.8,151.1 380.7,150.7 381.8,150.8 382.8,151.8 383.5,153.5 384.2,155.9 385.0,157.7 385.4,159.1 385.8,160.1 386.1,161.2 386.5,163.0 386.8,164.2 387.2,165.7 387.6,167.5 388.0,168.6 388.4,170.9 388.8,173.0 389.1,174.3 389.3,175.1 389.6,176.8 389.9,178.1 390.1,179.8 390.4,181.1 390.7,182.5 391.0,184.4 391.3,185.4 391.6,186.9 391.9,188.5 392.2,189.9 392.5,191.8 392.8,193.0 393.1,195.0 393.4,196.8 393.7,198.6 394.0,199.9 394.2,201.8 394.5,202.7 394.7,204.3 395.0,205.3 395.2,207.0 395.4,208.5 395.7,210.6 395.9,211.8 396.2,213.0 396.4,214.9 396.6,216.4 396.9,217.8 397.1,219.4 397.3,220.8 397.6,222.3 397.8,223.6 398.1,225.6 398.3,227.5 398.5,229.0 398.8,230.2 399.0,231.6 399.2,233.2 399.5,235.0 399.7,236.4 399.9,237.7 400.1,239.4 400.4,240.8 400.6,242.6 400.8,243.9 401.0,245.2 401.3,247.1 401.5,248.8 401.7,249.9 401.9,251.7 402.2,253.5 402.4,254.7 402.6,256.1 402.9,258.3 403.1,259.5 403.3,261.0 403.5,261.9 403.8,264.0 404.0,264.6 404.3,266.5 404.5,268.5 404.8,270.3 405.0,271.3 405.2,272.9 405.5,274.7 405.7,275.7 405.9,277.8 406.2,279.3 406.4,280.5 406.7,282.3 407.0,283.8 407.3,285.2 407.6,286.8 407.9,288.5 408.3,289.6 408.7,291.3 409.1,292.7 409.5,294.5 409.9,295.6 410.2,297.3 410.6,298.7 411.0,300.1 411.3,302.0 411.7,303.1 412.1,304.9 412.5,306.3 413.0,307.9 413.5,309.1 414.0,310.8 414.5,312.3 415.1,313.4 415.8,315.1 416.5,316.4 417.3,317.9 418.1,319.6 419.0,320.5 420.0,321.6 420.9,322.7 421.8,324.1 422.8,325.1 423.9,326.4 425.0,327.6 426.2,329.0 427.4,329.7 428.7,330.9 430.0,331.7 431.3,333.0 432.7,334.3 434.1,335.3 435.4,335.6 436.8,337.3 438.2,338.5 439.5,339.3 440.8,339.6 442.1,340.9 443.4,342.0 444.7,342.8 445.8,343.3 447.0,344.1 448.1,345.3 449.1,345.5 450.0,346.8 451.9,347.9 453.7,349.1 455.3,349.7 456.8,350.7 458.1,351.7 459.4,351.8 460.5,353.7 461.7,352.7 462.8,353.3 463.9,354.4 465.0,355.2 466.6,356.3 468.1,356.8 469.4,357.8 470.6,358.6 471.9,359.3 473.4,359.2 475.0,361.6 476.3,361.8 477.6,362.3 479.0,362.5 480.4,363.4 481.9,363.8 483.4,364.2 485.0,365.2 486.6,364.4 488.3,365.7 490.0,365.5 491.4,366.1 492.8,367.2 494.2,366.3 495.6,367.0 497.1,367.0 498.6,367.8 500.1,367.2 501.7,367.1 503.3,368.2 504.9,368.0 506.6,368.2 508.3,368.9 510.0,368.2 511.4,368.5 512.9,368.9 514.4,369.1 516.0,368.8 517.5,369.5 519.1,370.1 520.8,369.0 522.4,370.1 524.0,368.4 525.6,370.0 527.2,369.3 528.8,369.5 530.4,369.4 532.0,369.3 533.5,369.0 535.0,369.5 536.7,370.2 538.5,370.2 540.3,369.6 542.1,369.5 544.0,369.5 545.8,369.3 547.6,370.6 549.3,370.1 550.9,369.9 552.4,369.6 553.8,369.4 555.0,370.4 556.1,370.2 557.0,369.5" stroke="#5fa873" stroke-width="1.1"/>
<path d="M108.0,268.4 108.9,267.5 110.0,268.2 111.2,267.5 112.7,267.7 114.2,268.1 115.8,268.1 117.6,268.3 119.3,267.4 121.2,268.5 123.0,268.3 124.8,267.7 126.6,267.8 128.3,267.2 130.0,267.4 131.5,266.9 132.9,267.4 134.4,267.4 135.8,267.8 137.3,267.5 138.7,267.3 140.1,266.7 141.6,266.7 143.1,266.5 144.6,266.7 146.2,265.6 147.8,266.7 149.5,265.6 151.2,265.9 153.0,266.0 154.3,265.7 155.7,266.5 157.1,265.7 158.5,266.3 160.0,266.0 161.5,265.2 163.0,265.5 164.5,265.8 166.0,265.0 167.6,265.1 169.2,264.7 170.7,264.8 172.3,264.6 173.9,264.6 175.5,264.9 177.1,265.0 178.7,264.4 180.3,264.3 181.9,264.5 183.4,263.9 185.0,263.5 186.5,264.4 188.0,263.5 189.5,264.2 191.1,263.3 192.6,264.4 194.2,263.1 195.7,263.8 197.3,264.0 198.9,262.9 200.4,263.9 202.0,262.8 203.6,262.4 205.1,263.4 206.6,263.3 208.1,262.9 209.6,261.9 211.1,262.9 212.5,262.8 213.9,262.8 215.3,262.8 216.7,262.2 218.0,262.8 219.8,263.8 221.5,263.8 223.2,263.1 224.8,263.0 226.4,263.6 228.0,264.0 229.6,264.0 231.1,263.4 232.5,264.1 234.0,264.3 235.4,265.1 236.8,265.3 238.1,265.2 239.4,265.8 240.7,265.5 242.0,266.7 243.6,266.4 245.2,267.4 246.8,268.3 248.2,268.3 249.6,269.2 251.0,269.6 252.3,271.2 253.6,272.0 254.8,272.7 255.9,273.8 257.0,273.4 258.0,275.0 259.8,276.3 261.2,277.2 262.4,278.7 263.6,280.1 264.7,280.0 266.0,280.6 267.5,281.4 269.0,282.2 270.5,282.8 272.0,282.5 273.5,283.6 275.0,283.1 276.6,284.3 277.9,284.6 279.3,285.0 281.0,286.0 283.0,284.9 284.2,284.8 285.5,284.9 286.8,284.9 288.3,283.7 289.8,284.1 291.3,283.3 292.9,283.4 294.6,283.2 296.3,281.9 298.0,281.0 299.1,280.4 300.3,278.9 301.5,279.0 302.8,278.0 304.1,277.0 305.4,275.8 306.7,274.7 308.1,273.8 309.4,273.1 310.7,271.7 312.0,271.0 313.2,269.0 314.4,268.6 315.5,267.8 316.5,266.9 317.5,265.8 319.2,264.8 320.6,264.4 321.9,263.1 323.0,262.5 324.0,261.8 325.0,261.1 326.1,260.2 327.2,258.6 327.8,257.0 328.5,256.8 329.1,255.1 329.7,253.9 330.4,253.1 331.0,251.3 331.6,249.6 332.2,248.3 332.9,246.8 333.5,245.1 334.2,243.7 334.8,242.4 335.5,240.6 336.2,238.5 336.9,237.9 337.4,235.7 338.0,234.7 338.5,233.4 339.1,232.2 339.7,230.6 340.2,229.4 340.8,228.5 341.4,226.6 342.0,224.9 342.6,223.8 343.2,222.0 343.8,220.7 344.4,219.3 345.0,217.8 345.6,216.1 346.2,214.8 346.7,213.0 347.3,211.1 347.9,210.0 348.5,208.0 348.9,207.1 349.4,205.3 349.8,204.2 350.3,202.7 350.7,200.5 351.2,199.3 351.6,197.8 352.1,196.9 352.5,194.6 353.0,193.7 353.4,192.1 353.9,190.4 354.4,188.9 354.8,187.0 355.2,185.6 355.7,184.1 356.1,182.6 356.6,181.1 357.0,179.4 357.5,177.8 357.9,176.4 358.3,175.3 358.7,173.4 359.2,172.2 359.6,171.1 360.0,169.9 360.6,168.1 361.3,165.8 361.9,164.6 362.5,163.0 363.1,161.6 363.7,159.3 364.3,158.2 364.9,156.9 365.4,155.5 366.0,154.3 366.6,152.9 367.2,151.1 367.7,150.3 368.3,149.0 368.9,147.8 369.4,147.3 370.0,145.8 371.4,143.8 372.7,142.4 374.1,141.1 375.4,140.7 376.7,139.9 377.9,139.7 379.0,139.1 380.7,138.7 382.2,139.7 383.6,140.4 385.0,141.9 385.8,143.0 386.7,144.3 387.5,145.9 388.4,147.0 389.2,148.8 390.0,150.3 390.8,151.7 391.4,153.0 392.0,154.6 392.6,156.1 393.2,157.5 393.7,159.0 394.3,160.3 394.9,161.7 395.4,163.5 396.0,164.8 396.5,166.0 396.9,167.5 397.4,168.6 397.9,170.1 398.3,171.4 398.8,172.9 399.3,174.5 399.7,175.8 400.2,177.5 400.6,178.8 401.0,181.0 401.3,182.1 401.5,183.7 401.8,184.3 402.1,186.2 402.3,187.9 402.6,188.7 402.8,190.7 403.1,192.3 403.3,193.9 403.5,195.1 403.8,197.1 404.0,198.7 404.3,200.0 404.5,202.0 404.7,203.4 405.0,205.0 405.2,206.3 405.5,208.0 405.7,209.3 405.9,211.1 406.1,212.4 406.4,213.6 406.6,215.2 406.8,217.0 407.1,218.2 407.3,219.9 407.5,221.4 407.7,222.8 408.0,223.8 408.2,225.9 408.4,227.4 408.7,228.9 408.9,230.1 409.1,232.1 409.3,233.3 409.6,234.8 409.8,236.3 410.0,238.1 410.2,239.3 410.5,240.9 410.7,243.2 410.9,244.6 411.2,246.1 411.4,247.7 411.6,249.0 411.8,250.0 412.1,252.2 412.3,253.8 412.5,255.1 412.8,256.0 413.0,258.3 413.3,259.9 413.5,261.1 413.8,262.8 414.0,264.5 414.3,265.9 414.5,267.7 414.8,269.1 415.0,270.8 415.3,272.2 415.6,273.3 415.8,275.0 416.1,277.5 416.4,278.3 416.7,280.1 417.0,281.5 417.3,283.1 417.6,284.4 418.0,285.7 418.3,287.4 418.7,288.5 419.0,290.4 419.4,292.2 419.8,293.0 420.2,295.1 420.6,296.7 421.0,298.3 421.4,299.2 421.8,300.7 422.2,301.8 422.6,303.4 423.0,305.1 423.5,307.1 423.9,307.9 424.4,310.0 424.8,311.3 425.2,312.5 425.6,314.5 426.1,314.8 426.7,316.8 427.3,318.3 428.1,320.3 429.0,321.8 430.0,323.5 430.7,324.1 431.5,325.4 432.3,326.6 433.2,327.5 434.2,328.7 435.2,329.8 436.2,331.0 437.3,332.0 438.4,334.0 439.5,334.7 440.6,335.5 441.7,337.3 442.9,338.4 444.0,339.6 445.0,341.1 446.1,341.7 447.1,342.7 448.1,343.6 449.1,344.7 450.0,345.4 451.6,346.9 453.1,348.8 454.6,349.2 456.0,349.9 457.4,351.4 458.8,351.9 460.1,352.8 461.4,353.4 462.6,354.2 463.8,354.8 465.0,355.9 466.5,356.7 467.7,357.9 468.9,358.0 470.0,359.1 471.1,359.7 472.3,361.3 473.5,362.1 475.0,362.3 476.3,363.4 477.6,364.9 479.0,365.0 480.4,364.6 481.9,365.6 483.4,366.5 485.0,366.7 486.6,367.5 488.3,368.3 490.0,368.4 491.4,368.1 492.8,369.2 494.2,369.1 495.6,369.5 497.1,369.5 498.6,369.3 500.1,369.6 501.7,370.2 503.3,370.1 504.9,369.6 506.6,371.5 508.3,370.7 510.0,371.0 511.4,371.7 512.9,370.5 514.4,372.3 516.0,371.5 517.5,372.2 519.1,371.8 520.8,372.2 522.4,372.2 524.0,372.2 525.6,371.4 527.2,371.7 528.8,372.3 530.4,373.0 532.0,372.2 533.5,372.7 535.0,372.6 536.7,372.8 538.5,373.1 540.3,372.0 542.1,372.8 544.0,372.7 545.8,372.6 547.6,372.4 549.3,372.5 550.9,372.4 552.4,372.3 553.8,373.9 555.0,373.6 556.1,372.9 557.0,373.2" stroke="#62a83a" stroke-width="1.1"/>
<path d="M108.0,269.1 108.9,268.3 110.0,268.7 111.2,269.6 112.7,270.2 114.2,269.6 115.8,269.2 117.6,269.6 119.3,269.3 121.2,269.2 123.0,269.7 124.8,269.7 126.6,269.5 128.3,269.6 130.0,269.6 131.5,270.2 132.9,270.7 134.4,270.1 135.8,271.3 137.3,269.6 138.7,270.6 140.1,270.0 141.6,270.5 143.1,270.7 144.6,271.0 146.2,271.3 147.8,270.6 149.5,270.4 151.2,270.9 153.0,271.1 154.3,270.7 155.7,271.4 157.1,271.7 158.5,270.4 160.0,271.1 161.5,271.4 163.0,270.1 164.5,271.0 166.0,270.8 167.6,270.2 169.2,271.4 170.7,270.9 172.3,270.5 173.9,270.9 175.5,271.0 177.1,271.0 178.7,270.9 180.3,270.8 181.9,270.0 183.4,270.3 185.0,270.6 186.5,269.3 188.0,271.4 189.5,270.2 191.1,269.9 192.6,269.5 194.2,270.3 195.7,270.2 197.3,269.8 198.9,269.8 200.4,269.6 202.0,269.6 203.6,269.8 205.1,269.5 206.6,270.1 208.1,269.7 209.6,269.8 211.1,269.9 212.5,270.3 213.9,270.1 215.3,269.9 216.7,269.8 218.0,269.6 219.8,270.0 221.5,270.7 223.2,270.7 224.8,270.7 226.4,270.5 228.0,270.8 229.6,271.9 231.1,272.5 232.5,272.6 234.0,272.2 235.4,273.1 236.8,273.6 238.1,273.5 239.4,274.4 240.7,274.6 242.0,274.6 243.8,275.0 245.5,276.4 247.2,276.8 248.7,276.8 250.3,277.4 251.7,278.8 253.1,279.3 254.4,279.4 255.7,280.8 256.9,280.4 258.0,280.5 260.1,282.3 261.7,282.4 263.1,283.2 264.5,283.6 266.0,283.6 267.5,283.8 269.0,284.6 270.5,285.5 272.0,284.7 273.5,285.9 275.0,285.6 276.6,285.3 277.9,286.2 279.3,286.6 281.0,285.9 283.0,285.1 284.3,285.8 285.7,284.7 287.2,284.8 288.9,283.2 290.6,283.3 292.2,282.2 293.9,281.2 295.4,281.1 296.8,280.6 298.0,279.8 299.8,278.6 301.1,278.4 302.2,277.2 303.4,276.8 305.0,275.6 306.0,275.2 307.2,274.1 308.4,273.1 309.7,272.1 311.1,271.0 312.5,269.7 313.8,269.3 315.1,268.1 316.3,266.9 317.5,265.7 318.8,265.3 320.1,264.1 321.3,262.9 322.4,262.4 323.5,261.8 324.7,260.1 325.8,258.8 327.0,256.9 327.6,255.8 328.2,255.2 328.8,254.6 329.4,252.7 330.0,251.4 330.6,250.3 331.2,248.7 331.8,247.6 332.4,246.1 333.0,244.2 333.7,242.7 334.3,241.4 334.9,240.1 335.6,238.3 336.2,236.9 336.9,234.7 337.4,233.9 337.9,232.4 338.4,231.3 338.9,230.1 339.4,228.5 339.9,227.4 340.5,225.8 341.0,224.8 341.5,223.2 342.1,221.8 342.6,220.6 343.1,219.0 343.7,218.0 344.2,216.1 344.8,215.0 345.3,213.3 345.8,211.5 346.4,210.2 346.9,208.5 347.4,207.1 348.0,205.5 348.5,204.4 348.9,202.6 349.4,201.7 349.8,200.1 350.2,198.2 350.7,196.5 351.1,195.8 351.5,193.7 352.0,192.8 352.4,191.4 352.8,189.7 353.3,188.0 353.7,186.5 354.1,185.1 354.6,183.4 355.0,181.8 355.4,180.3 355.9,179.2 356.3,177.3 356.7,176.0 357.1,174.2 357.5,172.8 358.0,171.3 358.4,170.2 358.8,169.0 359.2,167.6 359.6,166.1 360.0,165.1 360.6,163.2 361.1,161.7 361.7,160.0 362.2,158.4 362.8,156.0 363.3,154.7 363.8,153.6 364.4,151.9 364.9,151.0 365.4,148.9 365.9,147.4 366.5,146.5 367.0,145.0 367.5,144.0 368.0,142.5 368.5,141.1 369.0,140.2 369.5,138.8 370.0,137.9 371.2,135.7 372.4,133.9 373.5,132.5 374.7,130.9 375.8,130.0 376.9,128.9 378.0,128.6 379.0,127.3 380.5,128.0 381.9,129.0 383.2,130.1 384.6,132.1 386.0,133.1 387.6,134.3 389.2,135.3 390.9,136.2 392.5,136.7 394.0,136.7 395.7,136.5 397.2,135.3 398.6,134.1 400.0,132.9 401.7,132.1 403.2,129.7 405.0,131.3 405.5,131.6 406.0,132.5 406.5,133.7 407.0,134.6 407.6,135.5 408.2,137.3 408.7,138.6 409.3,139.7 409.9,142.0 410.4,143.5 411.0,145.5 411.5,147.9 412.0,150.1 412.2,151.1 412.5,152.9 412.7,153.7 413.0,154.7 413.2,156.3 413.5,157.6 413.7,158.5 413.9,160.1 414.2,161.6 414.4,163.9 414.6,164.9 414.8,166.4 415.1,167.9 415.3,169.9 415.5,171.3 415.7,173.3 416.0,174.8 416.2,176.7 416.4,177.9 416.6,179.7 416.9,181.3 417.1,183.0 417.3,184.4 417.5,186.4 417.8,188.0 418.0,189.8 418.2,191.7 418.4,192.8 418.5,194.5 418.7,195.8 418.9,197.3 419.1,198.7 419.3,199.8 419.5,201.6 419.7,202.8 419.9,204.3 420.0,206.2 420.2,208.0 420.4,208.7 420.6,210.9 420.8,212.3 421.0,213.4 421.2,215.2 421.3,216.8 421.5,218.4 421.7,219.7 421.9,221.1 422.1,223.0 422.3,224.7 422.4,226.3 422.6,227.8 422.8,229.5 423.0,230.5 423.1,232.3 423.3,234.0 423.5,235.7 423.7,237.0 423.8,238.6 424.0,240.0 424.2,242.0 424.3,242.5 424.4,244.5 424.5,246.7 424.7,247.6 424.8,248.6 424.8,250.6 424.9,251.8 425.0,253.5 425.1,255.2 425.1,257.1 425.2,258.3 425.3,259.9 425.4,261.5 425.4,262.8 425.5,264.0 425.6,265.7 425.7,267.4 425.8,268.7 425.9,270.1 426.0,271.7 426.2,273.0 426.3,274.6 426.5,276.3 426.7,277.8 426.9,279.4 427.1,281.2 427.4,282.5 427.7,283.9 427.9,285.2 428.3,286.7 428.6,288.6 429.0,289.8 429.4,291.5 429.8,292.6 430.2,294.3 430.7,295.7 431.1,297.5 431.6,298.6 432.2,300.2 432.7,301.8 433.3,303.3 433.8,305.2 434.4,306.3 435.0,307.8 435.7,309.4 436.3,311.1 436.9,312.6 437.6,314.3 438.2,315.3 438.9,317.7 439.5,319.1 440.2,320.1 440.9,321.3 441.5,323.1 442.2,324.6 442.9,325.3 443.5,327.2 444.2,328.2 444.8,330.0 445.4,331.5 446.1,332.7 446.7,333.3 447.3,335.2 447.8,336.2 448.4,336.9 449.0,338.2 449.5,339.4 450.0,339.9 451.3,342.2 452.5,344.0 453.7,346.0 454.9,346.6 456.0,348.7 457.1,349.2 458.2,350.6 459.2,350.8 460.3,351.5 461.3,352.4 462.2,353.7 463.2,353.4 464.1,355.1 465.0,355.5 466.3,357.7 467.5,358.3 468.5,359.9 469.5,360.8 470.5,362.7 471.5,362.8 472.5,364.0 473.7,365.9 475.0,366.1 476.2,367.2 477.4,367.4 478.6,368.6 479.9,368.4 481.2,370.2 482.6,370.6 484.0,371.0 485.4,371.7 486.9,373.5 488.4,373.8 490.0,373.6 491.4,375.5 492.8,374.8 494.2,375.4 495.6,376.1 497.1,375.8 498.6,376.0 500.1,376.7 501.7,377.8 503.3,378.0 504.9,377.2 506.6,378.7 508.3,378.4 510.0,378.9 511.4,378.8 512.9,379.2 514.4,378.7 516.0,378.9 517.5,379.1 519.1,379.4 520.8,379.9 522.4,379.2 524.0,380.5 525.6,379.7 527.2,379.8 528.8,380.4 530.4,380.3 532.0,380.1 533.5,379.8 535.0,379.9 536.7,379.7 538.5,381.0 540.3,381.0 542.1,381.4 544.0,380.9 545.8,380.8 547.6,381.0 549.3,381.1 550.9,380.6 552.4,380.9 553.8,381.7 555.0,380.0 556.1,380.2 557.0,380.4" stroke="#aecd3a" stroke-width="1.1"/>
<path d="M108.0,270.8 108.9,271.1 110.0,270.4 111.2,270.9 112.7,270.7 114.2,270.9 115.8,270.6 117.6,270.9 119.3,271.0 121.2,271.6 123.0,272.1 124.8,270.4 126.6,271.6 128.3,271.4 130.0,271.9 131.5,272.0 132.9,272.0 134.4,272.1 135.8,271.5 137.3,271.3 138.7,272.8 140.1,272.7 141.6,271.9 143.1,273.0 144.6,272.8 146.2,271.6 147.8,273.1 149.5,272.4 151.2,273.4 153.0,272.7 154.3,272.7 155.7,272.4 157.1,273.0 158.5,273.6 160.0,272.9 161.5,272.4 163.0,274.2 164.5,274.1 166.0,273.6 167.6,273.1 169.2,272.8 170.7,272.6 172.3,273.6 173.9,273.9 175.5,272.9 177.1,273.4 178.7,273.3 180.3,273.3 181.9,273.7 183.4,274.4 185.0,273.2 186.5,273.9 188.0,274.0 189.5,273.4 191.1,273.5 192.6,272.9 194.2,274.0 195.7,273.3 197.3,273.2 198.9,273.5 200.4,273.1 202.0,273.0 203.6,273.3 205.1,274.1 206.6,273.4 208.1,273.7 209.6,272.9 211.1,272.7 212.5,274.4 213.9,273.5 215.3,273.1 216.7,273.8 218.0,274.3 219.8,273.4 221.5,274.0 223.2,274.8 224.8,274.5 226.4,275.6 228.0,276.0 229.6,276.1 231.1,276.0 232.5,276.6 234.0,276.7 235.4,277.2 236.8,277.8 238.1,277.9 239.4,278.8 240.7,279.8 242.0,278.8 243.8,279.6 245.5,280.3 247.2,280.7 248.7,280.8 250.3,281.2 251.7,282.3 253.1,282.6 254.4,283.0 255.7,282.9 256.9,283.9 258.0,284.3 260.1,284.7 261.7,285.7 263.1,287.0 264.5,285.8 266.0,287.3 267.5,286.7 269.0,286.8 270.5,287.4 272.0,287.7 273.5,287.5 275.0,287.0 276.6,286.9 277.9,287.4 279.3,287.6 281.0,287.1 283.0,286.3 284.3,287.4 285.7,285.8 287.2,285.5 288.9,284.7 290.6,284.0 292.2,283.5 293.9,282.7 295.4,282.4 296.8,281.0 298.0,280.4 299.8,281.0 301.1,279.5 302.2,279.1 303.4,278.4 305.0,277.1 306.0,276.3 307.2,275.0 308.4,274.1 309.7,273.7 311.1,272.6 312.5,271.5 313.8,269.9 315.1,268.6 316.3,267.8 317.5,266.7 318.7,265.9 319.8,264.6 320.9,264.3 321.9,262.7 322.9,261.7 323.9,260.9 324.9,259.4 325.9,257.6 327.0,256.2 327.6,255.4 328.1,253.5 328.7,252.6 329.3,251.2 329.8,249.7 330.4,249.0 331.0,247.6 331.5,246.3 332.1,244.7 332.7,242.6 333.3,241.6 333.9,239.9 334.4,238.2 335.0,236.6 335.7,235.5 336.3,233.6 336.9,232.5 337.4,230.8 337.9,229.0 338.4,228.3 338.9,227.1 339.4,225.4 339.9,223.8 340.5,223.1 341.0,221.0 341.5,219.9 342.1,218.0 342.6,216.7 343.1,215.1 343.7,214.3 344.2,212.8 344.8,211.0 345.3,209.2 345.8,208.0 346.4,206.5 346.9,204.5 347.4,203.0 348.0,201.6 348.5,200.2 348.9,198.7 349.4,197.4 349.8,195.5 350.2,193.8 350.7,193.0 351.1,191.2 351.5,189.8 352.0,188.2 352.4,186.9 352.8,185.0 353.3,183.9 353.7,182.0 354.1,180.5 354.6,179.0 355.0,177.5 355.4,175.8 355.9,173.7 356.3,172.4 356.7,171.5 357.1,169.7 357.5,168.2 358.0,166.8 358.4,165.1 358.8,163.7 359.2,162.4 359.6,161.5 360.0,160.1 360.6,158.6 361.2,156.5 361.8,155.1 362.3,153.1 362.9,151.0 363.5,150.1 364.1,148.2 364.6,146.9 365.2,145.2 365.7,143.6 366.3,142.3 366.8,140.7 367.4,139.4 367.9,138.2 368.4,137.1 369.0,135.8 369.5,135.0 370.0,134.1 371.2,132.4 372.3,130.5 373.4,128.4 374.5,127.2 375.6,125.8 376.7,125.1 377.7,124.4 378.7,123.9 380.0,124.1 381.2,124.4 382.4,126.0 383.5,127.2 384.7,128.4 386.0,129.9 387.2,131.3 388.4,132.5 389.6,134.3 390.9,135.8 392.1,137.4 393.2,137.7 394.3,138.4 395.6,138.1 396.8,137.1 397.9,135.1 398.9,133.5 400.0,131.6 401.7,130.1 403.4,129.4 405.2,129.4 405.8,130.6 406.4,130.5 407.1,131.4 407.7,132.0 408.4,133.6 409.1,134.8 409.8,136.8 410.5,138.3 411.3,140.4 412.0,142.7 412.3,144.0 412.5,145.3 412.8,146.3 413.1,147.6 413.4,148.7 413.6,149.7 413.9,151.1 414.2,152.3 414.5,153.3 414.8,155.4 415.1,156.5 415.3,157.5 415.6,159.4 415.9,160.9 416.2,162.6 416.5,164.3 416.8,164.7 417.1,167.3 417.4,169.2 417.7,170.3 418.0,171.8 418.3,174.0 418.6,175.8 418.8,177.6 419.1,179.1 419.4,181.1 419.7,183.1 420.0,185.2 420.2,186.8 420.4,187.6 420.6,188.7 420.8,189.7 420.9,191.9 421.1,193.0 421.3,194.5 421.5,195.7 421.7,197.6 421.9,198.5 422.1,200.5 422.3,202.1 422.5,203.7 422.7,205.5 422.9,206.7 423.1,208.4 423.3,210.2 423.5,211.2 423.6,213.2 423.8,214.9 424.0,216.7 424.2,217.9 424.4,220.0 424.6,221.5 424.8,222.7 425.0,224.3 425.2,225.9 425.4,227.9 425.5,229.5 425.7,231.3 425.9,232.9 426.1,234.1 426.3,236.0 426.5,237.5 426.6,238.9 426.8,240.4 427.0,241.5 427.2,243.3 427.3,244.4 427.5,245.7 427.7,247.3 427.8,248.7 428.0,250.0 428.2,251.7 428.4,253.3 428.6,255.4 428.8,256.8 429.0,258.4 429.2,260.4 429.3,262.3 429.5,263.4 429.6,264.8 429.8,267.0 429.9,268.6 430.1,269.6 430.2,271.1 430.4,272.6 430.5,274.7 430.7,275.5 430.8,277.1 431.0,278.4 431.1,279.2 431.3,280.8 431.5,282.1 431.7,283.9 432.0,285.2 432.2,287.0 432.4,287.9 432.7,289.4 433.0,290.8 433.3,292.2 433.6,294.1 434.0,295.1 434.4,296.9 434.8,298.3 435.2,299.4 435.7,301.2 436.2,302.5 436.7,304.1 437.2,305.7 437.7,307.2 438.3,308.6 438.8,310.6 439.4,311.7 440.0,313.5 440.5,315.2 441.1,316.5 441.7,318.1 442.3,319.6 442.9,321.0 443.6,322.6 444.2,323.2 444.8,325.4 445.4,326.3 446.0,327.2 446.6,328.8 447.2,329.9 447.8,331.4 448.3,332.3 448.9,333.6 449.5,335.0 450.0,336.0 451.0,337.6 452.0,339.5 452.9,341.1 453.9,342.7 454.9,344.1 455.9,345.3 456.9,346.9 457.9,347.4 458.8,348.8 459.8,350.1 460.7,350.9 461.6,351.8 462.5,352.9 463.4,354.1 464.2,355.6 465.0,355.9 466.2,357.4 467.2,359.1 468.2,360.1 469.1,360.6 470.0,362.7 470.9,363.5 471.8,364.5 472.8,366.1 473.8,366.8 475.0,367.6 476.2,367.8 477.4,369.0 478.6,370.7 479.9,371.6 481.2,372.7 482.6,373.5 484.0,374.0 485.4,374.5 486.9,375.3 488.4,376.5 490.0,376.7 491.4,378.1 492.8,377.7 494.2,377.9 495.6,379.1 497.1,378.8 498.6,380.8 500.1,380.0 501.7,380.7 503.3,381.0 504.9,381.0 506.6,380.9 508.3,381.2 510.0,382.7 511.4,383.0 512.9,383.7 514.4,382.2 516.0,383.3 517.5,383.2 519.1,383.7 520.8,383.2 522.4,383.9 524.0,384.1 525.6,384.0 527.2,384.5 528.8,383.9 530.4,384.7 532.0,383.8 533.5,384.9 535.0,383.0 536.7,384.4 538.5,384.1 540.3,384.5 542.1,385.0 544.0,384.9 545.8,384.7 547.6,385.4 549.3,384.0 550.9,384.3 552.4,385.4 553.8,384.9 555.0,383.8 556.1,384.9 557.0,384.2" stroke="#e6d030" stroke-width="1.1"/>
<path d="M108.0,271.7 108.9,271.6 110.0,270.9 111.2,271.8 112.7,270.9 114.2,271.8 115.8,271.8 117.6,271.6 119.3,271.1 121.2,271.8 123.0,271.0 124.8,271.9 126.6,271.4 128.3,272.9 130.0,272.1 131.5,271.5 132.9,273.0 134.4,273.0 135.8,272.7 137.3,274.0 138.7,273.4 140.1,273.2 141.6,273.0 143.1,272.1 144.6,273.7 146.2,274.0 147.8,273.4 149.5,273.2 151.2,273.9 153.0,273.2 154.3,274.1 155.7,274.5 157.1,274.9 158.5,274.4 160.0,274.4 161.5,274.8 163.0,275.1 164.5,274.4 166.0,274.1 167.6,274.4 169.2,274.2 170.7,274.5 172.3,274.9 173.9,275.2 175.5,275.1 177.1,275.2 178.7,275.1 180.3,275.5 181.9,275.8 183.4,275.8 185.0,276.2 186.5,275.4 188.0,275.5 189.5,276.4 191.1,275.8 192.6,276.0 194.2,275.7 195.7,276.3 197.3,275.7 198.9,275.5 200.4,276.0 202.0,275.8 203.6,276.5 205.1,276.0 206.6,276.3 208.1,276.2 209.6,276.5 211.1,276.1 212.5,277.0 213.9,276.0 215.3,276.6 216.7,276.5 218.0,277.3 219.8,277.2 221.5,277.7 223.2,277.6 224.8,277.7 226.4,277.8 228.0,278.5 229.6,278.8 231.1,279.5 232.5,279.9 234.0,280.5 235.4,280.3 236.8,280.4 238.1,280.6 239.4,281.4 240.7,281.9 242.0,282.9 244.0,282.5 245.8,283.7 247.6,284.2 249.4,283.3 251.0,284.7 252.6,285.1 254.0,285.6 255.4,285.3 256.8,286.1 258.0,285.8 260.1,286.5 261.7,287.0 263.1,288.2 264.5,287.7 266.0,288.4 267.5,288.1 269.0,287.8 270.5,288.2 272.0,288.4 273.5,287.7 275.0,288.3 276.6,287.8 277.9,287.9 279.3,288.5 281.0,288.3 283.0,287.6 284.3,286.9 285.7,287.2 287.2,286.7 288.9,285.7 290.6,285.3 292.2,283.9 293.9,284.0 295.4,283.4 296.8,282.7 298.0,281.7 299.8,281.2 301.1,280.6 302.2,280.2 303.4,279.3 305.0,278.1 306.0,277.0 307.2,276.6 308.4,275.7 309.7,274.2 311.1,273.4 312.5,272.2 313.8,271.0 315.1,269.5 316.3,269.1 317.5,267.0 318.6,266.5 319.6,265.3 320.6,264.6 321.5,263.2 322.4,262.3 323.3,261.3 324.2,260.0 325.1,258.3 326.0,257.0 327.0,255.1 327.5,254.2 328.0,252.7 328.5,251.6 329.0,250.3 329.5,248.9 330.0,247.8 330.5,246.5 331.1,245.3 331.6,243.4 332.1,242.1 332.6,240.8 333.1,239.0 333.6,237.5 334.2,235.9 334.7,234.2 335.2,232.5 335.8,231.4 336.3,229.6 336.9,228.0 337.4,226.4 337.8,225.4 338.3,224.3 338.8,222.4 339.3,221.1 339.8,220.3 340.3,219.0 340.8,217.6 341.3,215.7 341.8,214.6 342.3,212.8 342.9,211.7 343.4,210.1 343.9,208.7 344.4,207.6 344.9,205.8 345.4,204.2 346.0,202.8 346.5,201.3 347.0,199.6 347.5,198.2 348.0,196.7 348.5,195.4 348.9,193.1 349.4,191.9 349.8,190.5 350.2,189.5 350.7,188.4 351.1,186.3 351.5,184.8 352.0,183.5 352.4,181.0 352.8,180.0 353.3,177.7 353.7,176.9 354.1,175.2 354.6,173.6 355.0,172.2 355.4,170.4 355.9,169.3 356.3,167.5 356.7,166.1 357.1,165.1 357.5,162.9 358.0,161.8 358.4,160.0 358.8,159.1 359.2,157.7 359.6,156.3 360.0,155.2 360.6,153.5 361.3,151.6 361.9,149.5 362.5,147.8 363.1,146.4 363.7,144.1 364.3,142.8 364.9,141.5 365.4,140.1 366.0,139.0 366.6,137.6 367.2,135.9 367.7,134.7 368.3,133.1 368.9,132.2 369.4,131.1 370.0,129.9 371.1,128.1 372.1,126.4 373.1,124.4 374.2,123.0 375.2,121.4 376.2,121.0 377.2,119.6 378.1,118.9 379.0,119.2 380.1,119.1 381.1,120.1 382.1,120.9 383.0,123.0 384.0,124.2 385.0,125.6 386.0,127.0 387.0,128.2 388.0,129.9 389.0,131.8 390.1,132.8 391.1,134.1 392.1,135.7 393.1,136.8 394.0,136.6 395.3,136.6 396.6,135.4 397.8,134.1 398.9,132.4 400.0,130.8 401.7,129.1 403.4,128.3 405.0,127.5 406.0,128.8 407.0,129.7 408.1,131.6 409.1,133.2 410.0,134.9 410.4,136.0 410.8,136.9 411.1,137.6 411.5,138.8 411.8,140.1 412.2,140.7 412.5,142.6 413.0,145.0 413.4,147.2 414.0,149.8 414.2,150.8 414.4,151.9 414.6,152.8 414.8,154.7 415.0,155.6 415.2,156.7 415.4,157.9 415.7,159.5 415.9,160.9 416.1,162.8 416.4,163.8 416.6,165.4 416.9,167.2 417.1,168.7 417.4,170.0 417.6,171.2 417.9,173.7 418.1,175.1 418.4,176.5 418.7,178.3 418.9,179.7 419.2,181.4 419.4,183.0 419.7,185.2 420.0,186.9 420.2,188.5 420.5,190.3 420.7,191.9 421.0,193.5 421.3,194.9 421.5,196.9 421.8,198.7 422.0,200.2 422.2,201.7 422.4,202.7 422.7,204.1 422.9,206.1 423.1,207.1 423.3,208.8 423.5,210.2 423.7,211.7 424.0,213.2 424.2,214.6 424.4,215.9 424.6,218.3 424.9,219.4 425.1,220.4 425.3,222.2 425.5,223.7 425.7,225.3 426.0,226.4 426.2,228.7 426.4,230.5 426.6,231.6 426.8,233.4 427.0,234.8 427.3,235.9 427.5,238.0 427.7,238.8 427.9,240.6 428.1,242.1 428.3,244.0 428.5,245.2 428.8,246.6 429.0,247.8 429.2,249.5 429.4,250.9 429.6,252.4 429.8,254.0 430.0,255.2 430.2,256.7 430.5,258.3 430.7,260.4 430.9,261.7 431.2,263.2 431.4,265.3 431.6,266.8 431.8,268.2 432.0,269.6 432.2,271.1 432.4,273.1 432.6,274.2 432.8,276.1 433.0,277.2 433.2,279.0 433.4,280.5 433.6,282.0 433.8,283.5 434.0,285.0 434.3,286.1 434.5,287.5 434.7,289.2 435.0,291.0 435.2,292.0 435.5,293.1 435.8,294.6 436.1,296.1 436.4,297.7 436.7,298.6 437.0,300.1 437.4,301.7 437.9,303.2 438.4,304.6 438.9,306.4 439.4,307.8 439.9,309.6 440.5,310.5 441.0,312.7 441.6,314.0 442.1,315.4 442.7,317.0 443.3,318.1 443.9,318.9 444.5,320.7 445.1,322.1 445.7,323.1 446.3,324.3 446.9,325.9 447.5,327.2 448.2,328.2 448.8,329.5 449.4,330.7 450.0,331.9 450.7,333.5 451.5,335.2 452.3,336.0 453.1,337.7 453.9,339.6 454.8,340.7 455.6,342.0 456.4,343.5 457.3,344.4 458.1,345.6 458.9,346.8 459.8,348.1 460.6,349.8 461.4,351.2 462.1,351.8 462.9,352.8 463.6,354.4 464.3,355.5 465.0,356.4 466.1,357.1 467.1,359.1 468.0,359.7 468.8,362.1 469.6,362.9 470.4,364.1 471.2,366.1 472.0,367.1 472.9,367.7 473.9,368.7 475.0,369.7 476.1,370.4 477.2,371.6 478.3,373.4 479.4,373.2 480.6,374.2 481.9,375.5 483.1,376.7 484.4,377.5 485.8,377.6 487.2,378.7 488.6,379.4 490.0,379.7 491.4,380.9 492.8,381.2 494.2,382.3 495.6,382.6 497.1,382.6 498.6,383.4 500.1,383.6 501.7,383.9 503.3,384.4 504.9,385.4 506.6,385.1 508.3,384.9 510.0,385.6 511.4,386.5 512.9,387.3 514.4,386.1 516.0,386.6 517.5,386.8 519.1,386.5 520.8,387.4 522.4,387.4 524.0,387.6 525.6,388.6 527.2,387.6 528.8,388.2 530.4,388.3 532.0,387.7 533.5,387.8 535.0,388.9 536.7,388.6 538.5,388.4 540.3,387.9 542.1,388.9 544.0,388.8 545.8,389.5 547.6,389.2 549.3,389.0 550.9,388.8 552.4,388.7 553.8,388.4 555.0,388.8 556.1,388.8 557.0,389.0" stroke="#f0a82a" stroke-width="1.1"/>
<path d="M108.0,272.5 108.9,272.2 110.0,271.9 111.2,272.6 112.7,273.1 114.2,272.2 115.8,272.9 117.6,273.1 119.3,273.3 121.2,273.4 123.0,273.3 124.8,273.5 126.6,274.4 128.3,274.6 130.0,273.4 131.5,273.0 132.9,274.4 134.4,274.1 135.8,274.3 137.3,273.9 138.7,274.9 140.1,274.8 141.6,274.7 143.1,275.5 144.6,276.3 146.2,276.0 147.8,276.0 149.5,275.5 151.2,276.1 153.0,276.0 154.3,276.6 155.7,276.5 157.1,276.4 158.5,276.8 160.0,276.4 161.5,277.2 163.0,277.7 164.5,277.1 166.0,277.6 167.6,276.8 169.2,278.2 170.7,278.3 172.3,277.7 173.9,279.0 175.5,278.5 177.1,277.9 178.7,278.2 180.3,279.4 181.9,279.0 183.4,279.8 185.0,278.8 186.5,279.6 188.0,280.2 189.5,279.7 191.1,280.4 192.6,280.2 194.2,280.6 195.7,280.8 197.3,281.8 198.9,280.4 200.4,281.5 202.0,281.9 203.6,281.0 205.1,281.7 206.6,282.8 208.1,282.4 209.6,280.8 211.1,282.2 212.5,281.7 213.9,282.7 215.3,282.4 216.7,282.6 218.0,282.6 219.8,283.3 221.5,283.2 223.2,283.1 224.8,283.6 226.4,284.0 228.0,283.6 229.6,284.6 231.1,283.6 232.5,284.6 234.0,284.4 235.4,285.4 236.8,284.6 238.1,284.8 239.4,284.6 240.7,286.2 242.0,285.8 244.0,285.3 245.8,285.9 247.6,285.9 249.4,287.2 251.0,287.0 252.6,286.2 254.0,287.5 255.4,288.0 256.8,287.8 258.0,288.2 260.1,288.3 261.7,288.6 263.1,288.8 264.5,288.6 266.0,289.2 267.5,289.1 269.0,289.1 270.5,288.8 272.0,288.7 273.5,289.2 275.0,289.4 276.6,287.9 277.9,288.6 279.3,289.3 281.0,288.8 283.0,287.7 284.2,288.3 285.6,287.0 287.0,286.7 288.6,287.5 290.1,286.1 291.8,285.7 293.4,284.6 295.0,284.3 296.5,283.7 298.0,283.4 299.3,282.1 300.6,282.5 301.9,281.5 303.2,280.8 304.4,280.0 305.7,279.6 306.9,278.9 308.2,277.5 309.4,276.9 310.5,275.7 311.7,274.3 312.5,273.1 313.2,271.6 314.0,271.1 314.7,269.7 315.4,268.7 316.1,267.0 316.8,266.2 317.5,265.0 318.2,263.4 318.9,262.3 319.6,261.2 320.3,259.3 321.0,257.5 321.8,256.7 322.5,253.9 323.3,252.5 323.8,251.6 324.4,250.1 324.9,248.4 325.5,247.7 326.1,246.4 326.7,244.6 327.3,243.7 327.9,241.9 328.5,240.6 329.1,238.4 329.8,237.2 330.4,236.0 331.0,234.6 331.6,232.8 332.2,231.0 332.8,229.5 333.3,227.7 333.9,226.6 334.4,224.7 335.0,223.4 335.5,221.4 336.0,220.1 336.5,219.6 336.9,217.8 337.4,216.2 337.9,214.0 338.4,212.9 338.9,211.8 339.3,209.4 339.7,207.6 340.1,206.6 340.5,205.0 340.9,203.5 341.2,201.8 341.6,200.3 341.9,198.9 342.2,198.0 342.5,196.4 342.9,195.3 343.2,193.5 343.5,192.6 343.9,191.1 344.2,190.0 344.7,188.4 345.3,186.4 345.8,184.6 346.3,182.6 346.8,181.5 347.3,180.2 347.8,178.4 348.3,177.2 348.7,175.4 349.2,174.2 349.6,173.4 350.0,172.3 350.5,170.1 351.0,168.1 351.4,166.9 351.8,165.1 352.2,164.0 352.6,163.2 353.1,161.4 353.7,160.0 354.5,158.9 355.4,157.4 356.3,156.6 357.3,155.5 358.4,154.3 359.4,152.3 360.5,150.7 360.9,149.7 361.4,147.7 361.9,146.3 362.4,145.3 362.9,144.4 363.4,142.5 363.9,141.1 364.4,139.4 364.9,137.9 365.4,135.9 365.9,134.3 366.4,132.9 366.9,131.5 367.3,130.0 367.8,128.6 368.2,127.2 368.6,126.5 369.4,124.3 370.1,122.7 370.8,120.3 371.5,119.8 372.1,117.8 372.7,117.3 373.3,116.0 374.0,115.0 374.9,113.3 375.9,111.9 376.9,110.6 377.8,109.4 378.7,108.0 379.4,106.9 381.5,107.8 381.8,109.0 382.1,109.7 382.4,111.3 382.8,112.5 383.1,113.9 383.5,116.1 383.9,118.2 384.3,119.8 384.8,122.0 385.1,123.5 385.3,124.2 385.6,125.8 385.9,127.9 386.2,129.4 386.6,130.8 386.9,132.4 387.2,134.5 387.6,135.8 387.9,137.8 388.3,139.5 388.6,140.7 388.9,143.0 389.2,144.6 389.5,146.0 389.8,146.7 390.1,147.9 390.3,149.0 391.1,152.2 391.7,154.9 392.2,154.8 393.0,154.5 393.5,153.9 394.2,152.8 394.8,151.5 395.5,149.0 396.3,147.6 397.0,145.6 397.7,143.5 398.4,142.4 399.3,140.4 400.2,139.5 401.2,137.5 402.1,136.6 403.0,135.8 403.8,134.8 404.9,134.8 405.9,135.9 406.9,137.2 407.9,139.9 408.3,140.7 408.6,141.6 408.9,142.8 409.3,144.5 409.6,145.4 410.0,147.6 410.3,148.6 410.7,150.4 411.1,152.0 411.5,154.5 412.0,156.2 412.3,157.6 412.6,158.8 413.0,160.0 413.3,161.9 413.7,163.2 414.1,164.8 414.5,166.4 414.9,168.1 415.3,169.7 415.7,171.2 416.1,172.5 416.5,175.0 416.9,175.7 417.3,177.1 417.6,178.9 418.0,180.9 418.4,182.1 418.7,182.9 419.3,185.1 419.8,186.9 420.4,188.2 420.9,190.3 421.4,192.0 421.9,193.7 422.4,194.4 422.9,195.3 423.5,196.6 424.0,198.1 425.4,199.7 426.8,200.5 428.2,201.0 429.5,201.9 430.4,202.7 431.2,204.2 432.0,205.5 432.8,207.4 433.6,210.3 433.9,210.8 434.1,211.7 434.4,213.1 434.7,215.5 434.9,216.2 435.2,218.0 435.5,219.5 435.7,221.3 436.0,223.6 436.3,224.4 436.5,226.2 436.8,227.9 437.0,229.8 437.2,231.6 437.5,233.0 437.7,235.3 437.9,236.7 438.0,237.9 438.2,239.2 438.3,240.5 438.5,241.6 438.6,243.6 438.8,244.7 438.9,246.3 439.1,248.1 439.2,249.1 439.3,250.8 439.5,252.6 439.6,254.4 439.7,255.3 439.9,257.3 440.0,258.4 440.1,260.3 440.2,261.9 440.4,263.1 440.5,265.3 440.6,266.9 440.7,267.9 440.8,269.4 440.9,270.6 441.0,272.8 441.1,273.9 441.1,275.2 441.2,277.2 441.3,278.2 441.4,280.0 441.4,281.2 441.5,283.7 441.6,285.5 441.7,286.3 441.8,287.9 441.9,289.5 442.0,291.0 442.2,292.8 442.3,294.6 442.5,295.4 442.6,297.3 442.8,298.1 443.0,300.4 443.3,301.6 443.5,303.1 443.8,305.3 444.0,306.5 444.3,308.4 444.6,309.9 444.9,311.6 445.2,312.5 445.5,314.2 445.9,315.8 446.3,317.2 446.6,319.1 447.0,320.0 447.5,321.9 447.9,323.4 448.4,324.1 448.9,325.8 449.4,327.3 450.0,328.9 450.6,330.5 451.2,331.8 451.9,333.3 452.6,334.7 453.3,336.2 454.1,337.9 454.9,339.4 455.7,340.5 456.5,342.1 457.3,343.4 458.1,345.0 459.0,346.1 459.8,348.1 460.6,349.5 461.4,350.5 462.2,351.5 462.9,352.8 463.7,354.0 464.4,354.7 465.0,357.2 466.0,359.7 466.9,359.2 467.7,360.7 468.5,362.9 469.3,364.1 470.0,364.4 470.7,365.4 471.5,367.6 472.3,367.5 473.1,370.2 474.0,370.4 475.0,371.8 476.1,372.9 477.2,373.7 478.3,375.0 479.4,376.0 480.6,377.8 481.9,378.2 483.1,379.3 484.4,380.0 485.8,380.9 487.2,381.7 488.6,382.9 490.0,384.5 491.3,384.9 492.6,385.1 493.9,386.3 495.2,386.5 496.6,386.7 498.0,387.0 499.4,387.1 500.8,388.1 502.3,388.3 503.8,388.1 505.3,388.6 506.8,390.4 508.4,390.0 510.0,390.4 511.4,390.6 512.9,390.5 514.4,391.2 516.0,391.7 517.5,391.2 519.1,391.8 520.8,392.2 522.4,391.6 524.0,392.1 525.6,391.8 527.2,392.5 528.8,392.2 530.4,393.0 532.0,392.2 533.5,393.4 535.0,392.6 536.7,392.5 538.5,392.6 540.3,393.3 542.1,392.7 544.0,394.0 545.8,393.8 547.6,393.5 549.3,392.6 550.9,393.3 552.4,393.0 553.8,392.5 555.0,393.6 556.1,394.4 557.0,393.2" stroke="#d9603e" stroke-width="1.1"/>
<path d="M108.0,268.9 108.9,269.1 110.0,268.0 111.2,268.3 112.7,268.5 114.2,268.6 115.8,267.8 117.6,268.4 119.3,268.2 121.2,268.7 123.0,267.5 124.8,267.9 126.6,267.9 128.3,267.9 130.0,268.3 131.5,267.7 132.9,269.1 134.4,267.5 135.8,268.2 137.3,268.2 138.7,268.1 140.1,267.5 141.6,267.2 143.1,267.3 144.6,267.7 146.2,267.4 147.8,267.5 149.5,267.4 151.2,266.7 153.0,266.6 154.3,267.6 155.7,266.7 157.1,266.1 158.5,267.6 160.0,266.3 161.5,266.2 163.0,267.0 164.5,265.9 166.0,266.0 167.6,266.8 169.2,265.8 170.7,267.3 172.3,266.1 173.9,267.2 175.5,266.0 177.1,265.9 178.7,265.5 180.3,265.6 181.9,265.4 183.4,265.6 185.0,265.8 186.5,264.9 188.0,265.0 189.5,264.4 191.1,265.9 192.6,265.1 194.2,265.1 195.7,265.0 197.3,265.4 198.9,265.0 200.4,265.1 202.0,264.6 203.6,264.6 205.1,264.5 206.6,263.7 208.1,265.0 209.6,263.7 211.1,264.0 212.5,264.7 213.9,264.4 215.3,264.8 216.7,265.2 218.0,265.3 219.8,265.2 221.5,264.6 223.2,265.7 224.8,264.6 226.4,265.1 228.0,265.7 229.6,265.4 231.1,265.6 232.5,265.8 234.0,266.8 235.4,265.3 236.8,267.3 238.1,267.5 239.4,267.3 240.7,267.9 242.0,267.6 243.8,269.1 245.5,270.6 247.2,269.5 248.7,271.3 250.3,271.5 251.7,272.2 253.1,272.9 254.4,273.8 255.7,274.1 256.9,274.8 258.0,276.7 259.8,277.0 261.2,278.2 262.4,279.0 263.6,279.9 264.7,279.7 266.0,280.6 267.5,281.8 269.0,282.4 270.5,281.7 272.0,282.3 273.5,282.3 275.0,283.3 276.6,283.5 277.9,283.8 279.3,283.8 281.0,284.4 283.0,284.0 284.3,283.4 285.7,283.5 287.2,282.6 288.9,282.8 290.6,282.1 292.2,280.9 293.9,280.9 295.4,280.1 296.8,279.2 298.0,278.6 299.8,277.5 301.1,277.3 302.2,277.0 303.4,276.4 305.0,274.8 306.0,274.3 307.2,273.6 308.4,272.9 309.7,271.9 311.1,271.1 312.4,270.1 313.8,268.7 315.1,268.1 316.3,266.5 317.5,266.2 318.8,265.3 320.1,264.7 321.3,263.8 322.5,263.3 323.7,262.7 324.8,261.1 326.0,260.0 327.2,258.6 327.8,257.6 328.5,256.4 329.1,255.4 329.7,253.7 330.4,252.9 331.0,251.6 331.6,250.2 332.2,248.6 332.9,246.9 333.5,245.5 334.2,243.8 334.8,241.8 335.5,240.4 336.2,238.9 336.9,237.1 337.4,235.7 338.0,234.6 338.5,233.3 339.1,232.1 339.7,230.7 340.2,229.4 340.8,228.2 341.4,226.6 342.0,225.3 342.6,223.4 343.2,221.5 343.8,220.7 344.4,219.5 345.0,217.7 345.6,216.1 346.2,214.3 346.7,213.3 347.3,211.3 347.9,209.8 348.5,208.4 348.9,206.9 349.4,206.0 349.8,204.0 350.3,202.8 350.7,201.2 351.2,199.4 351.6,198.1 352.1,196.4 352.5,194.7 353.0,193.4 353.4,191.6 353.9,190.6 354.4,188.4 354.8,186.9 355.2,185.4 355.7,183.7 356.1,182.3 356.6,180.6 357.0,178.8 357.5,177.1 357.9,175.9 358.3,175.2 358.7,173.5 359.2,172.0 359.6,170.6 360.0,169.4 360.6,167.7 361.2,165.5 361.8,163.9 362.3,162.1 362.9,161.0 363.4,158.8 364.0,157.7 364.5,155.7 365.1,155.0 365.6,152.8 366.2,151.4 366.7,150.4 367.3,148.9 367.8,147.7 368.4,146.0 368.9,145.4 369.4,144.4 370.0,143.0 371.3,140.8 372.6,139.0 374.0,138.1 375.3,136.7 376.7,135.7 377.9,134.7 379.0,135.0 380.0,134.5 381.5,134.5 382.6,136.2 383.5,137.5 384.5,140.2 385.0,140.9 385.5,142.8 386.0,143.8 386.6,145.6 387.1,146.8 387.6,148.8 388.2,150.8 388.8,152.3 389.2,153.7 389.6,154.7 390.0,156.4 390.4,157.4 390.8,158.8 391.3,160.2 391.7,162.0 392.2,162.9 392.6,164.7 393.1,166.2 393.6,167.7 394.0,169.3 394.5,171.1 394.9,172.9 395.2,173.8 395.5,175.6 395.9,176.6 396.2,178.3 396.5,180.3 396.8,180.9 397.1,182.6 397.5,184.0 397.8,185.8 398.1,187.0 398.4,188.2 398.8,189.8 399.1,191.8 399.4,193.4 399.7,195.2 400.0,196.4 400.4,198.3 400.7,199.4 401.0,201.6 401.3,202.7 401.6,204.0 401.8,205.6 402.1,207.5 402.4,208.3 402.7,209.7 402.9,211.3 403.2,212.7 403.5,214.5 403.8,216.2 404.1,217.6 404.3,219.2 404.6,221.0 404.9,222.1 405.2,223.4 405.4,224.6 405.7,226.8 406.0,228.0 406.3,229.6 406.5,231.2 406.8,232.6 407.1,233.5 407.4,235.3 407.7,237.1 408.1,238.6 408.4,240.5 408.7,241.6 409.0,242.7 409.3,245.0 409.7,245.8 410.0,247.5 410.3,249.3 410.6,250.4 411.0,252.8 411.3,253.7 411.6,255.2 411.9,256.4 412.2,258.5 412.6,259.5 412.9,260.7 413.2,262.6 413.5,263.4 413.9,265.1 414.2,266.8 414.5,268.2 414.8,269.3 415.2,271.4 415.5,272.7 415.8,273.5 416.1,275.3 416.5,276.4 416.8,277.9 417.1,279.7 417.5,280.9 417.8,282.4 418.2,284.0 418.5,285.2 418.9,287.4 419.3,288.6 419.6,290.5 419.9,291.4 420.2,292.9 420.4,294.9 420.7,296.1 420.9,297.4 421.2,299.0 421.4,300.9 421.6,302.8 421.9,304.1 422.2,305.5 422.5,306.9 422.8,308.7 423.1,310.4 423.4,312.1 423.8,313.4 424.2,315.4 424.6,316.3 425.1,317.8 425.6,319.5 426.2,320.9 426.8,322.0 427.4,323.5 428.2,324.3 429.1,326.4 430.1,327.8 431.1,329.0 432.2,329.7 433.4,331.3 434.5,331.9 435.8,333.3 437.0,334.0 438.3,335.1 439.5,336.2 440.8,336.6 442.1,337.9 443.3,339.3 444.5,339.1 445.7,340.8 446.9,341.8 448.0,342.4 449.0,343.2 450.0,344.3 451.5,345.4 453.0,346.0 454.4,347.4 455.7,348.5 457.0,349.6 458.3,350.4 459.5,351.3 460.7,353.0 461.8,351.7 462.9,354.4 463.9,355.1 465.0,355.8 466.5,356.7 467.7,357.9 468.9,359.2 470.0,360.2 471.1,360.9 472.3,362.6 473.5,362.8 475.0,364.2 476.3,364.8 477.6,365.2 479.0,366.7 480.4,367.2 481.9,367.4 483.4,368.6 485.0,368.6 486.6,370.5 488.3,370.7 490.0,371.9 491.4,371.2 492.8,372.1 494.2,371.7 495.6,372.1 497.1,372.7 498.6,373.2 500.1,373.8 501.7,373.5 503.3,374.3 504.9,374.5 506.6,373.9 508.3,374.4 510.0,374.3 511.4,375.6 512.9,374.8 514.4,375.5 516.0,375.7 517.5,375.3 519.1,375.3 520.8,375.7 522.4,375.3 524.0,375.2 525.6,375.4 527.2,376.0 528.8,376.0 530.4,376.8 532.0,375.2 533.5,376.3 535.0,375.7 536.7,376.7 538.5,376.6 540.3,376.4 542.1,377.0 544.0,376.2 545.8,376.2 547.6,376.0 549.3,376.2 550.9,376.5 552.4,376.8 553.8,377.1 555.0,376.4 556.1,376.2 557.0,376.4" stroke="#6cbb2e" stroke-width="3.4"/>
</g>
<rect x="108.3" y="64" width="448.5" height="353.8" fill="none" stroke="#2a2a2a" stroke-width="1.3"/>
<line x1="108.3" y1="417.8" x2="108.3" y2="426.8" stroke="#2a2a2a" stroke-width="1.3"/>
<line x1="220.42" y1="417.8" x2="220.42" y2="426.8" stroke="#2a2a2a" stroke-width="1.3"/>
<line x1="332.55" y1="417.8" x2="332.55" y2="426.8" stroke="#2a2a2a" stroke-width="1.3"/>
<line x1="444.67" y1="417.8" x2="444.67" y2="426.8" stroke="#2a2a2a" stroke-width="1.3"/>
<line x1="556.8" y1="417.8" x2="556.8" y2="426.8" stroke="#2a2a2a" stroke-width="1.3"/>
<text x="79" y="459.8" font-size="29" font-weight="normal" font-style="normal" fill="#000" textLength="41.6" lengthAdjust="spacingAndGlyphs" >–21</text>
<text x="191.4" y="459.8" font-size="29" font-weight="normal" font-style="normal" fill="#000" textLength="45.34" lengthAdjust="spacingAndGlyphs" >–20</text>
<text x="302.6" y="459.8" font-size="29" font-weight="normal" font-style="normal" fill="#000" textLength="46.44" lengthAdjust="spacingAndGlyphs" >–19</text>
<text x="415.2" y="459.8" font-size="29" font-weight="normal" font-style="normal" fill="#000" textLength="45.83" lengthAdjust="spacingAndGlyphs" >–18</text>
<text x="527" y="459.8" font-size="29" font-weight="normal" font-style="normal" fill="#000" textLength="43.87" lengthAdjust="spacingAndGlyphs" >–17</text>
<text x="256.05" y="504.7" font-size="33.77" font-weight="normal" font-style="italic" fill="#000" textLength="21.04" lengthAdjust="spacingAndGlyphs" >E</text>
<rect x="286" y="495" width="10" height="1.9" fill="#000"/>
<text x="308.55" y="504.7" font-size="33.77" font-weight="normal" font-style="italic" fill="#000" textLength="21.04" lengthAdjust="spacingAndGlyphs" >E</text>
<text x="327.52" y="516" font-size="17.97" font-weight="normal" font-style="normal" fill="#000" textLength="13.59" lengthAdjust="spacingAndGlyphs" >F</text>
<text x="349.01" y="504.7" font-size="33.77" font-weight="normal" font-style="normal" fill="#000" textLength="62.65" lengthAdjust="spacingAndGlyphs" >(eV)</text>
<g transform="translate(24.6,372) rotate(-90)">
<text x="-3.03" y="0" font-size="34.78" font-weight="normal" font-style="normal" fill="#000" textLength="269.14" lengthAdjust="spacingAndGlyphs" >Intensity (arb.unit)</text>
</g>
<line x1="170" y1="91.9" x2="193.8" y2="91.9" stroke="#c79382" stroke-width="1.5"/>
<line x1="170" y1="98.83" x2="193.8" y2="98.83" stroke="#e6c272" stroke-width="1.5"/>
<line x1="170" y1="105.76" x2="193.8" y2="105.76" stroke="#ebd986" stroke-width="1.5"/>
<line x1="170" y1="112.69" x2="193.8" y2="112.69" stroke="#a9c66a" stroke-width="1.5"/>
<line x1="170" y1="119.62" x2="193.8" y2="119.62" stroke="#5f9645" stroke-width="1.5"/>
<line x1="170" y1="126.55" x2="193.8" y2="126.55" stroke="#62a645" stroke-width="1.5"/>
<line x1="170" y1="133.48" x2="193.8" y2="133.48" stroke="#7fa796" stroke-width="1.5"/>
<line x1="170" y1="140.41" x2="193.8" y2="140.41" stroke="#94c0c4" stroke-width="1.5"/>
<line x1="170" y1="147.34" x2="193.8" y2="147.34" stroke="#5093bd" stroke-width="1.5"/>
<line x1="170" y1="154.27" x2="193.8" y2="154.27" stroke="#334577" stroke-width="1.5"/>
<line x1="170" y1="161.2" x2="193.8" y2="161.2" stroke="#223a85" stroke-width="1.5"/>
<line x1="170" y1="168.13" x2="193.8" y2="168.13" stroke="#8474a3" stroke-width="1.5"/>
<line x1="213.9" y1="167.7" x2="213.9" y2="99" stroke="#222" stroke-width="1.4"/>
<path d="M213.9,90.6 L209.2,101.5 L213.9,99.3 L218.6,101.5 Z" fill="#222"/>
<text x="116.61" y="194.1" font-size="30" font-weight="normal" font-style="normal" fill="#000" textLength="164.7" lengthAdjust="spacingAndGlyphs" >K deposition</text>
<text x="293.42" y="135.7" font-size="30.43" font-weight="normal" font-style="normal" fill="#000" textLength="43.77" lengthAdjust="spacingAndGlyphs" >K 3</text>
<text x="339.43" y="135.7" font-size="29.3" font-weight="normal" font-style="italic" fill="#000" textLength="17.61" lengthAdjust="spacingAndGlyphs" >p</text>
<defs>
<filter id="bl0_8" filterUnits="userSpaceOnUse" x="-600" y="-600" width="2600" height="2600"><feGaussianBlur stdDeviation="0.8"/></filter>
<filter id="bl1_2" filterUnits="userSpaceOnUse" x="-600" y="-600" width="2600" height="2600"><feGaussianBlur stdDeviation="1.2"/></filter>
<filter id="bl1_6" filterUnits="userSpaceOnUse" x="-600" y="-600" width="2600" height="2600"><feGaussianBlur stdDeviation="1.6"/></filter>
<filter id="bl2" filterUnits="userSpaceOnUse" x="-600" y="-600" width="2600" height="2600"><feGaussianBlur stdDeviation="2"/></filter>
<filter id="bl2_5" filterUnits="userSpaceOnUse" x="-600" y="-600" width="2600" height="2600"><feGaussianBlur stdDeviation="2.5"/></filter>
<filter id="bl3" filterUnits="userSpaceOnUse" x="-600" y="-600" width="2600" height="2600"><feGaussianBlur stdDeviation="3"/></filter>
<filter id="bl4" filterUnits="userSpaceOnUse" x="-600" y="-600" width="2600" height="2600"><feGaussianBlur stdDeviation="4"/></filter>
<filter id="bl5" filterUnits="userSpaceOnUse" x="-600" y="-600" width="2600" height="2600"><feGaussianBlur stdDeviation="5"/></filter>
<filter id="bl6" filterUnits="userSpaceOnUse" x="-600" y="-600" width="2600" height="2600"><feGaussianBlur stdDeviation="6"/></filter>
<filter id="bl7" filterUnits="userSpaceOnUse" x="-600" y="-600" width="2600" height="2600"><feGaussianBlur stdDeviation="7"/></filter>
<filter id="bl8" filterUnits="userSpaceOnUse" x="-600" y="-600" width="2600" height="2600"><feGaussianBlur stdDeviation="8"/></filter>
<filter id="bl10" filterUnits="userSpaceOnUse" x="-600" y="-600" width="2600" height="2600"><feGaussianBlur stdDeviation="10"/></filter>
<filter id="bl12" filterUnits="userSpaceOnUse" x="-600" y="-600" width="2600" height="2600"><feGaussianBlur stdDeviation="12"/></filter>
<filter id="bl14" filterUnits="userSpaceOnUse" x="-600" y="-600" width="2600" height="2600"><feGaussianBlur stdDeviation="14"/></filter>
<filter id="bl16" filterUnits="userSpaceOnUse" x="-600" y="-600" width="2600" height="2600"><feGaussianBlur stdDeviation="16"/></filter>
<filter id="bl20" filterUnits="userSpaceOnUse" x="-600" y="-600" width="2600" height="2600"><feGaussianBlur stdDeviation="20"/></filter>
<filter id="cmap" color-interpolation-filters="sRGB" x="0" y="0" width="1" height="1"><feComponentTransfer><feFuncR type="table" tableValues="0 0 0 0 0 .06 .2 .4 .64 .85 1"/><feFuncG type="table" tableValues="0 .02 .1 .235 .4 .55 .67 .78 .865 .94 1"/><feFuncB type="table" tableValues=".176 .431 .667 .824 .922 .98 1 1 1 1 1"/></feComponentTransfer></filter>
<filter id="cmapn1" color-interpolation-filters="sRGB" x="0" y="0" width="1" height="1"><feTurbulence type="fractalNoise" baseFrequency="0.28" numOctaves="2" seed="3" result="nz"/><feColorMatrix in="nz" type="matrix" values="1 0 0 0 0  1 0 0 0 0  1 0 0 0 0  0 0 0 0 1" result="nzg"/><feComposite in="SourceGraphic" in2="nzg" operator="arithmetic" k1="0.35" k2="0.82" k3="-0.35" k4="0.17" result="mix"/><feComponentTransfer in="mix"><feFuncR type="table" tableValues="0 0 0 0 0 .06 .2 .4 .64 .85 1"/><feFuncG type="table" tableValues="0 .02 .1 .235 .4 .55 .67 .78 .865 .94 1"/><feFuncB type="table" tableValues=".176 .431 .667 .824 .922 .98 1 1 1 1 1"/></feComponentTransfer></filter>
<filter id="cmapn2" color-interpolation-filters="sRGB" x="0" y="0" width="1" height="1"><feTurbulence type="fractalNoise" baseFrequency="0.28" numOctaves="2" seed="5" result="nz"/><feColorMatrix in="nz" type="matrix" values="1 0 0 0 0  1 0 0 0 0  1 0 0 0 0  0 0 0 0 1" result="nzg"/><feComposite in="SourceGraphic" in2="nzg" operator="arithmetic" k1="0.9" k2="0.55" k3="-0.9" k4="0.45" result="mix"/><feComponentTransfer in="mix"><feFuncR type="table" tableValues="0 0 0 0 0 .06 .2 .4 .64 .85 1"/><feFuncG type="table" tableValues="0 .02 .1 .235 .4 .55 .67 .78 .865 .94 1"/><feFuncB type="table" tableValues=".176 .431 .667 .824 .922 .98 1 1 1 1 1"/></feComponentTransfer></filter>
</defs>
<clipPath id="cp0"><rect x="108.2" y="630.6" width="259.8" height="306"/></clipPath>
<g clip-path="url(#cp0)"><g filter="url(#cmap)">
<rect x="106.2" y="628.6" width="263.8" height="310" fill="#fff"/>
<linearGradient id="g1" gradientUnits="userSpaceOnUse" x1="0" y1="691.9" x2="0" y2="999.1"><stop offset="0" stop-color="#000" stop-opacity="0.08"/><stop offset="0.3" stop-color="#000" stop-opacity="0.14"/><stop offset="0.6" stop-color="#000" stop-opacity="0.24"/><stop offset="0.85" stop-color="#000" stop-opacity="0.36"/><stop offset="1" stop-color="#000" stop-opacity="0.5"/></linearGradient>
<path d="M177.1,728.76 L189.02,790.2 L216.12,953.02 L224.79,1029.82 L250.81,1029.82 L259.48,953.02 L286.58,799.42 L305.01,728.76 L270.32,701.12 L205.28,701.12Z" fill="url(#g1)" filter="url(#bl8)"/>
<linearGradient id="g2" gradientUnits="userSpaceOnUse" x1="0" y1="691.9" x2="0" y2="999.1"><stop offset="0" stop-color="#000" stop-opacity="0.3"/><stop offset="0.07" stop-color="#000" stop-opacity="0.4"/><stop offset="0.17" stop-color="#000" stop-opacity="0.48"/><stop offset="0.26" stop-color="#000" stop-opacity="0.3"/><stop offset="0.32" stop-color="#000" stop-opacity="0.08"/></linearGradient>
<path d="M138.07,682.68 C138.98,687.8 140.96,703.32 143.49,713.4 C146.02,723.49 150.54,733.47 153.25,743.2 C155.96,752.93 157.95,763.43 159.75,771.77 C161.56,780.12 163.37,789.69 164.09,793.28" fill="none" stroke="url(#g2)" stroke-width="28" stroke-linecap="round" filter="url(#bl6)"/>
<linearGradient id="g3" gradientUnits="userSpaceOnUse" x1="0" y1="691.9" x2="0" y2="999.1"><stop offset="0" stop-color="#000" stop-opacity="0.3"/><stop offset="0.07" stop-color="#000" stop-opacity="0.4"/><stop offset="0.17" stop-color="#000" stop-opacity="0.48"/><stop offset="0.26" stop-color="#000" stop-opacity="0.3"/><stop offset="0.32" stop-color="#000" stop-opacity="0.08"/></linearGradient>
<path d="M344.03,682.68 C343.31,687.8 341.5,703.32 339.7,713.4 C337.89,723.49 335.36,733.47 333.19,743.2 C331.02,752.93 328.49,763.43 326.69,771.77 C324.88,780.12 323.07,789.69 322.35,793.28" fill="none" stroke="url(#g3)" stroke-width="28" stroke-linecap="round" filter="url(#bl6)"/>
<path d="M172.76,682.68 C172.94,687.8 173.41,704.65 173.84,713.4 C174.28,722.16 173.86,727.38 175.36,735.22 C176.86,743.05 180.31,752.01 182.84,760.41 C185.37,768.8 188.01,777.2 190.54,785.6 C193.07,793.99 195.38,798.24 198.02,810.79 C200.65,823.33 203.35,839.2 206.36,860.86 C209.38,882.52 213.77,922.81 216.12,940.73 C218.47,958.65 219.01,958.65 220.46,968.38 C221.9,978.11 224.07,993.98 224.79,999.1" fill="none" stroke="#000" stroke-opacity="0.26" stroke-width="36" stroke-linecap="round" filter="url(#bl8)"/>
<linearGradient id="g4" gradientUnits="userSpaceOnUse" x1="0" y1="691.9" x2="0" y2="999.1"><stop offset="0" stop-color="#000" stop-opacity="0.42"/><stop offset="0.15" stop-color="#000" stop-opacity="0.5"/><stop offset="0.4" stop-color="#000" stop-opacity="0.5"/><stop offset="0.6" stop-color="#000" stop-opacity="0.6"/><stop offset="0.8" stop-color="#000" stop-opacity="0.75"/><stop offset="1" stop-color="#000" stop-opacity="0.8"/></linearGradient>
<path d="M172.76,682.68 C172.94,687.8 173.41,704.65 173.84,713.4 C174.28,722.16 173.86,727.38 175.36,735.22 C176.86,743.05 180.31,752.01 182.84,760.41 C185.37,768.8 188.01,777.2 190.54,785.6 C193.07,793.99 195.38,798.24 198.02,810.79 C200.65,823.33 203.35,839.2 206.36,860.86 C209.38,882.52 213.77,922.81 216.12,940.73 C218.47,958.65 219.01,958.65 220.46,968.38 C221.9,978.11 224.07,993.98 224.79,999.1" fill="none" stroke="url(#g4)" stroke-width="20" stroke-linecap="round" filter="url(#bl4)"/>
<linearGradient id="g5" gradientUnits="userSpaceOnUse" x1="0" y1="691.9" x2="0" y2="999.1"><stop offset="0" stop-color="#000" stop-opacity="0.2"/><stop offset="0.15" stop-color="#000" stop-opacity="0.35"/><stop offset="0.4" stop-color="#000" stop-opacity="0.4"/><stop offset="0.6" stop-color="#000" stop-opacity="0.6"/><stop offset="0.8" stop-color="#000" stop-opacity="0.85"/><stop offset="1" stop-color="#000" stop-opacity="0.9"/></linearGradient>
<path d="M172.76,682.68 C172.94,687.8 173.41,704.65 173.84,713.4 C174.28,722.16 173.86,727.38 175.36,735.22 C176.86,743.05 180.31,752.01 182.84,760.41 C185.37,768.8 188.01,777.2 190.54,785.6 C193.07,793.99 195.38,798.24 198.02,810.79 C200.65,823.33 203.35,839.2 206.36,860.86 C209.38,882.52 213.77,922.81 216.12,940.73 C218.47,958.65 219.01,958.65 220.46,968.38 C221.9,978.11 224.07,993.98 224.79,999.1" fill="none" stroke="url(#g5)" stroke-width="7" stroke-linecap="round" filter="url(#bl2)"/>
<path d="M311.73,682.68 C311.6,687.8 311.58,704.19 310.97,713.4 C310.36,722.62 309.8,730.1 308.04,737.98 C306.29,745.86 304.45,747.91 300.46,760.71 C296.46,773.51 288.75,797.06 284.09,814.78 C279.43,832.5 276.66,846.01 272.49,867 C268.31,888 262.03,923.84 259.05,940.73 C256.07,957.63 256.07,958.65 254.6,968.38 C253.14,978.11 250.99,993.98 250.27,999.1" fill="none" stroke="#000" stroke-opacity="0.26" stroke-width="36" stroke-linecap="round" filter="url(#bl8)"/>
<linearGradient id="g6" gradientUnits="userSpaceOnUse" x1="0" y1="691.9" x2="0" y2="999.1"><stop offset="0" stop-color="#000" stop-opacity="0.42"/><stop offset="0.15" stop-color="#000" stop-opacity="0.5"/><stop offset="0.4" stop-color="#000" stop-opacity="0.5"/><stop offset="0.6" stop-color="#000" stop-opacity="0.6"/><stop offset="0.8" stop-color="#000" stop-opacity="0.75"/><stop offset="1" stop-color="#000" stop-opacity="0.8"/></linearGradient>
<path d="M311.73,682.68 C311.6,687.8 311.58,704.19 310.97,713.4 C310.36,722.62 309.8,730.1 308.04,737.98 C306.29,745.86 304.45,747.91 300.46,760.71 C296.46,773.51 288.75,797.06 284.09,814.78 C279.43,832.5 276.66,846.01 272.49,867 C268.31,888 262.03,923.84 259.05,940.73 C256.07,957.63 256.07,958.65 254.6,968.38 C253.14,978.11 250.99,993.98 250.27,999.1" fill="none" stroke="url(#g6)" stroke-width="20" stroke-linecap="round" filter="url(#bl4)"/>
<linearGradient id="g7" gradientUnits="userSpaceOnUse" x1="0" y1="691.9" x2="0" y2="999.1"><stop offset="0" stop-color="#000" stop-opacity="0.2"/><stop offset="0.15" stop-color="#000" stop-opacity="0.35"/><stop offset="0.4" stop-color="#000" stop-opacity="0.4"/><stop offset="0.6" stop-color="#000" stop-opacity="0.6"/><stop offset="0.8" stop-color="#000" stop-opacity="0.85"/><stop offset="1" stop-color="#000" stop-opacity="0.9"/></linearGradient>
<path d="M311.73,682.68 C311.6,687.8 311.58,704.19 310.97,713.4 C310.36,722.62 309.8,730.1 308.04,737.98 C306.29,745.86 304.45,747.91 300.46,760.71 C296.46,773.51 288.75,797.06 284.09,814.78 C279.43,832.5 276.66,846.01 272.49,867 C268.31,888 262.03,923.84 259.05,940.73 C256.07,957.63 256.07,958.65 254.6,968.38 C253.14,978.11 250.99,993.98 250.27,999.1" fill="none" stroke="url(#g7)" stroke-width="7" stroke-linecap="round" filter="url(#bl2)"/>
<ellipse cx="172.76" cy="701.12" rx="12" ry="14" fill="#000" fill-opacity="0.25" transform="rotate(0 172.76 701.12)" filter="url(#bl5)"/>
<ellipse cx="312.6" cy="701.12" rx="12" ry="14" fill="#000" fill-opacity="0.25" transform="rotate(0 312.6 701.12)" filter="url(#bl5)"/>
<ellipse cx="175.36" cy="733.37" rx="6" ry="13" fill="#000" fill-opacity="0.55" transform="rotate(0 175.36 733.37)" filter="url(#bl3)"/>
<ellipse cx="308.8" cy="736.44" rx="6" ry="13" fill="#000" fill-opacity="0.55" transform="rotate(0 308.8 736.44)" filter="url(#bl3)"/>
<path d="M202.03,680.6 C202.78,683.13 205.05,691.06 206.56,695.82 C208.06,700.59 209.57,705.04 211.08,709.18 C212.59,713.31 214.1,717.14 215.61,720.65 C217.12,724.17 218.63,727.37 220.14,730.26 C221.65,733.14 223.16,735.72 224.66,737.98 C226.17,740.24 227.68,742.19 229.19,743.83 C230.7,745.47 232.21,746.8 233.72,747.81 C235.23,748.82 236.74,749.52 238.25,749.91 C239.76,750.3 241.26,750.37 242.77,750.13 C244.28,749.89 245.79,749.34 247.3,748.48 C248.81,747.62 250.32,746.44 251.83,744.96 C253.34,743.47 254.85,741.67 256.36,739.55 C257.86,737.44 259.37,735.01 260.88,732.28 C262.39,729.54 263.9,726.49 265.41,723.12 C266.92,719.76 268.43,716.08 269.94,712.09 C271.45,708.11 272.96,703.8 274.46,699.19 C275.97,694.58 278.24,686.88 278.99,684.41" fill="none" stroke="#000" stroke-opacity="0.22" stroke-width="30" stroke-linecap="round" filter="url(#bl6)"/>
<linearGradient id="g8" gradientUnits="userSpaceOnUse" x1="0" y1="691.9" x2="0" y2="999.1"><stop offset="0" stop-color="#000" stop-opacity="0.35"/><stop offset="0.1" stop-color="#000" stop-opacity="0.48"/><stop offset="0.19" stop-color="#000" stop-opacity="0.7"/><stop offset="0.3" stop-color="#000" stop-opacity="0.7"/></linearGradient>
<path d="M202.03,680.6 C202.78,683.13 205.05,691.06 206.56,695.82 C208.06,700.59 209.57,705.04 211.08,709.18 C212.59,713.31 214.1,717.14 215.61,720.65 C217.12,724.17 218.63,727.37 220.14,730.26 C221.65,733.14 223.16,735.72 224.66,737.98 C226.17,740.24 227.68,742.19 229.19,743.83 C230.7,745.47 232.21,746.8 233.72,747.81 C235.23,748.82 236.74,749.52 238.25,749.91 C239.76,750.3 241.26,750.37 242.77,750.13 C244.28,749.89 245.79,749.34 247.3,748.48 C248.81,747.62 250.32,746.44 251.83,744.96 C253.34,743.47 254.85,741.67 256.36,739.55 C257.86,737.44 259.37,735.01 260.88,732.28 C262.39,729.54 263.9,726.49 265.41,723.12 C266.92,719.76 268.43,716.08 269.94,712.09 C271.45,708.11 272.96,703.8 274.46,699.19 C275.97,694.58 278.24,686.88 278.99,684.41" fill="none" stroke="url(#g8)" stroke-width="17" stroke-linecap="round" filter="url(#bl3)"/>
<linearGradient id="g9" gradientUnits="userSpaceOnUse" x1="0" y1="691.9" x2="0" y2="999.1"><stop offset="0" stop-color="#000" stop-opacity="0.1"/><stop offset="0.1" stop-color="#000" stop-opacity="0.22"/><stop offset="0.19" stop-color="#000" stop-opacity="0.5"/><stop offset="0.3" stop-color="#000" stop-opacity="0.5"/></linearGradient>
<path d="M202.03,680.6 C202.78,683.13 205.05,691.06 206.56,695.82 C208.06,700.59 209.57,705.04 211.08,709.18 C212.59,713.31 214.1,717.14 215.61,720.65 C217.12,724.17 218.63,727.37 220.14,730.26 C221.65,733.14 223.16,735.72 224.66,737.98 C226.17,740.24 227.68,742.19 229.19,743.83 C230.7,745.47 232.21,746.8 233.72,747.81 C235.23,748.82 236.74,749.52 238.25,749.91 C239.76,750.3 241.26,750.37 242.77,750.13 C244.28,749.89 245.79,749.34 247.3,748.48 C248.81,747.62 250.32,746.44 251.83,744.96 C253.34,743.47 254.85,741.67 256.36,739.55 C257.86,737.44 259.37,735.01 260.88,732.28 C262.39,729.54 263.9,726.49 265.41,723.12 C266.92,719.76 268.43,716.08 269.94,712.09 C271.45,708.11 272.96,703.8 274.46,699.19 C275.97,694.58 278.24,686.88 278.99,684.41" fill="none" stroke="url(#g9)" stroke-width="5" stroke-linecap="round" filter="url(#bl2)"/>
<linearGradient id="fe_cp0" x1="0" y1="0" x2="0" y2="1"><stop offset="0" stop-color="#fff" stop-opacity="1"/><stop offset="0.9" stop-color="#fff" stop-opacity="1"/><stop offset="1" stop-color="#fff" stop-opacity="0"/></linearGradient>
<rect x="106.2" y="628.6" width="263.8" height="67.3" fill="url(#fe_cp0)"/>
</g></g>
<clipPath id="cp1"><rect x="368" y="630.6" width="259.8" height="306"/></clipPath>
<g clip-path="url(#cp1)"><g filter="url(#cmapn1)">
<rect x="366" y="628.6" width="263.8" height="310" fill="#fff"/>
<linearGradient id="g10" gradientUnits="userSpaceOnUse" x1="0" y1="691.9" x2="0" y2="999.1"><stop offset="0" stop-color="#000" stop-opacity="0.1"/><stop offset="0.3" stop-color="#000" stop-opacity="0.11"/><stop offset="0.6" stop-color="#000" stop-opacity="0.15"/><stop offset="0.85" stop-color="#000" stop-opacity="0.2"/><stop offset="1" stop-color="#000" stop-opacity="0.2"/></linearGradient>
<path d="M423.89,694.97 L448.82,790.2 L475.92,953.02 L519.28,953.02 L546.38,799.42 L589.74,694.97Z" fill="url(#g10)" filter="url(#bl10)"/>
<linearGradient id="g11" gradientUnits="userSpaceOnUse" x1="0" y1="691.9" x2="0" y2="999.1"><stop offset="0" stop-color="#000" stop-opacity="0.2"/><stop offset="0.1" stop-color="#000" stop-opacity="0.26"/><stop offset="0.2" stop-color="#000" stop-opacity="0.28"/><stop offset="0.3" stop-color="#000" stop-opacity="0.18"/><stop offset="0.38" stop-color="#000" stop-opacity="0.03"/></linearGradient>
<path d="M394.62,682.68 C396.43,689.34 401.85,710.84 405.46,722.62 C409.07,734.4 412.87,743.1 416.3,753.34 C419.73,763.58 423.35,774.84 426.06,784.06 C428.77,793.28 431.48,804.54 432.56,808.64" fill="none" stroke="url(#g11)" stroke-width="30" stroke-linecap="round" filter="url(#bl7)"/>
<linearGradient id="g12" gradientUnits="userSpaceOnUse" x1="0" y1="691.9" x2="0" y2="999.1"><stop offset="0" stop-color="#000" stop-opacity="0.2"/><stop offset="0.1" stop-color="#000" stop-opacity="0.26"/><stop offset="0.2" stop-color="#000" stop-opacity="0.28"/><stop offset="0.3" stop-color="#000" stop-opacity="0.18"/><stop offset="0.38" stop-color="#000" stop-opacity="0.03"/></linearGradient>
<path d="M606,682.68 C604.74,689.34 601.12,710.84 598.41,722.62 C595.7,734.4 592.81,743.1 589.74,753.34 C586.67,763.58 582.69,774.84 579.98,784.06 C577.27,793.28 574.56,804.54 573.48,808.64" fill="none" stroke="url(#g12)" stroke-width="30" stroke-linecap="round" filter="url(#bl7)"/>
<path d="M419.55,682.68 C419.99,685.14 419.84,686.58 422.15,697.43 C424.47,708.28 429.89,735.22 433.43,747.81 C436.97,760.41 439.62,762.45 443.4,773 C447.18,783.55 452.11,795.94 456.08,811.09 C460.06,826.25 463.76,842.33 467.25,863.93 C470.73,885.54 475.02,925.37 477,940.73 C478.99,956.09 478.81,953.53 479.17,956.09" fill="none" stroke="#000" stroke-opacity="0.14" stroke-width="32" stroke-linecap="round" filter="url(#bl8)"/>
<linearGradient id="g13" gradientUnits="userSpaceOnUse" x1="0" y1="691.9" x2="0" y2="999.1"><stop offset="0" stop-color="#000" stop-opacity="0.28"/><stop offset="0.2" stop-color="#000" stop-opacity="0.3"/><stop offset="0.4" stop-color="#000" stop-opacity="0.3"/><stop offset="0.6" stop-color="#000" stop-opacity="0.38"/><stop offset="0.8" stop-color="#000" stop-opacity="0.6"/><stop offset="1" stop-color="#000" stop-opacity="0.7"/></linearGradient>
<path d="M419.55,682.68 C419.99,685.14 419.84,686.58 422.15,697.43 C424.47,708.28 429.89,735.22 433.43,747.81 C436.97,760.41 439.62,762.45 443.4,773 C447.18,783.55 452.11,795.94 456.08,811.09 C460.06,826.25 463.76,842.33 467.25,863.93 C470.73,885.54 475.02,925.37 477,940.73 C478.99,956.09 478.81,953.53 479.17,956.09" fill="none" stroke="url(#g13)" stroke-width="18" stroke-linecap="round" filter="url(#bl4)"/>
<linearGradient id="g14" gradientUnits="userSpaceOnUse" x1="0" y1="691.9" x2="0" y2="999.1"><stop offset="0" stop-color="#000" stop-opacity="0.03"/><stop offset="0.4" stop-color="#000" stop-opacity="0.08"/><stop offset="0.6" stop-color="#000" stop-opacity="0.22"/><stop offset="0.8" stop-color="#000" stop-opacity="0.72"/><stop offset="1" stop-color="#000" stop-opacity="0.85"/></linearGradient>
<path d="M419.55,682.68 C419.99,685.14 419.84,686.58 422.15,697.43 C424.47,708.28 429.89,735.22 433.43,747.81 C436.97,760.41 439.62,762.45 443.4,773 C447.18,783.55 452.11,795.94 456.08,811.09 C460.06,826.25 463.76,842.33 467.25,863.93 C470.73,885.54 475.02,925.37 477,940.73 C478.99,956.09 478.81,953.53 479.17,956.09" fill="none" stroke="url(#g14)" stroke-width="6" stroke-linecap="round" filter="url(#bl2)"/>
<path d="M592.99,682.68 C592.87,684.73 594.46,688.32 592.23,694.97 C590.01,701.63 582.8,713.76 579.66,722.62 C576.52,731.48 576.12,739.72 573.37,748.12 C570.63,756.51 567.39,762.5 563.18,773 C558.97,783.5 553.08,794.91 548.11,811.09 C543.15,827.27 538.05,848.47 533.37,870.08 C528.69,891.68 522.57,926.4 520.04,940.73 C517.51,955.07 518.5,953.53 518.2,956.09" fill="none" stroke="#000" stroke-opacity="0.14" stroke-width="32" stroke-linecap="round" filter="url(#bl8)"/>
<linearGradient id="g15" gradientUnits="userSpaceOnUse" x1="0" y1="691.9" x2="0" y2="999.1"><stop offset="0" stop-color="#000" stop-opacity="0.28"/><stop offset="0.2" stop-color="#000" stop-opacity="0.3"/><stop offset="0.4" stop-color="#000" stop-opacity="0.3"/><stop offset="0.6" stop-color="#000" stop-opacity="0.38"/><stop offset="0.8" stop-color="#000" stop-opacity="0.6"/><stop offset="1" stop-color="#000" stop-opacity="0.7"/></linearGradient>
<path d="M592.99,682.68 C592.87,684.73 594.46,688.32 592.23,694.97 C590.01,701.63 582.8,713.76 579.66,722.62 C576.52,731.48 576.12,739.72 573.37,748.12 C570.63,756.51 567.39,762.5 563.18,773 C558.97,783.5 553.08,794.91 548.11,811.09 C543.15,827.27 538.05,848.47 533.37,870.08 C528.69,891.68 522.57,926.4 520.04,940.73 C517.51,955.07 518.5,953.53 518.2,956.09" fill="none" stroke="url(#g15)" stroke-width="18" stroke-linecap="round" filter="url(#bl4)"/>
<linearGradient id="g16" gradientUnits="userSpaceOnUse" x1="0" y1="691.9" x2="0" y2="999.1"><stop offset="0" stop-color="#000" stop-opacity="0.03"/><stop offset="0.4" stop-color="#000" stop-opacity="0.08"/><stop offset="0.6" stop-color="#000" stop-opacity="0.22"/><stop offset="0.8" stop-color="#000" stop-opacity="0.72"/><stop offset="1" stop-color="#000" stop-opacity="0.85"/></linearGradient>
<path d="M592.99,682.68 C592.87,684.73 594.46,688.32 592.23,694.97 C590.01,701.63 582.8,713.76 579.66,722.62 C576.52,731.48 576.12,739.72 573.37,748.12 C570.63,756.51 567.39,762.5 563.18,773 C558.97,783.5 553.08,794.91 548.11,811.09 C543.15,827.27 538.05,848.47 533.37,870.08 C528.69,891.68 522.57,926.4 520.04,940.73 C517.51,955.07 518.5,953.53 518.2,956.09" fill="none" stroke="url(#g16)" stroke-width="6" stroke-linecap="round" filter="url(#bl2)"/>
<ellipse cx="456.41" cy="704.19" rx="12" ry="10" fill="#000" fill-opacity="0.12" transform="rotate(0 456.41 704.19)" filter="url(#bl5)"/>
<ellipse cx="551.8" cy="704.19" rx="12" ry="10" fill="#000" fill-opacity="0.12" transform="rotate(0 551.8 704.19)" filter="url(#bl5)"/>
<ellipse cx="571.31" cy="753.34" rx="7" ry="12" fill="#000" fill-opacity="0.15" transform="rotate(0 571.31 753.34)" filter="url(#bl4)"/>
<linearGradient id="fe_cp1" x1="0" y1="0" x2="0" y2="1"><stop offset="0" stop-color="#fff" stop-opacity="1"/><stop offset="0.9" stop-color="#fff" stop-opacity="1"/><stop offset="1" stop-color="#fff" stop-opacity="0"/></linearGradient>
<rect x="366" y="628.6" width="263.8" height="67.3" fill="url(#fe_cp1)"/>
</g></g>
<clipPath id="cp2"><rect x="627.8" y="630.6" width="259.8" height="306"/></clipPath>
<g clip-path="url(#cp2)"><g filter="url(#cmapn2)">
<rect x="625.8" y="628.6" width="263.8" height="310" fill="#fff"/>
<linearGradient id="g17" gradientUnits="userSpaceOnUse" x1="0" y1="691.9" x2="0" y2="999.1"><stop offset="0" stop-color="#000" stop-opacity="0.03"/><stop offset="0.4" stop-color="#000" stop-opacity="0.04"/><stop offset="0.85" stop-color="#000" stop-opacity="0.07"/><stop offset="1" stop-color="#000" stop-opacity="0.08"/></linearGradient>
<path d="M681.52,694.97 L708.62,799.42 L735.72,953.02 L779.08,953.02 L806.18,799.42 L849.54,694.97Z" fill="url(#g17)" filter="url(#bl10)"/>
<linearGradient id="g18" gradientUnits="userSpaceOnUse" x1="0" y1="691.9" x2="0" y2="999.1"><stop offset="0" stop-color="#000" stop-opacity="0.2"/><stop offset="0.3" stop-color="#000" stop-opacity="0.22"/><stop offset="0.6" stop-color="#000" stop-opacity="0.2"/><stop offset="0.85" stop-color="#000" stop-opacity="0.18"/></linearGradient>
<path d="M654.42,682.68 C656.28,691.39 661.61,719.86 665.59,734.91 C669.56,749.96 673.81,759.69 678.27,773 C682.73,786.31 687.3,797.58 692.36,814.78 C697.42,831.98 703.74,855.74 708.62,876.22 C713.5,896.7 718.92,924.35 721.63,937.66 C724.34,950.97 724.34,953.02 724.88,956.09" fill="none" stroke="url(#g18)" stroke-width="34" stroke-linecap="round" filter="url(#bl7)"/>
<linearGradient id="g19" gradientUnits="userSpaceOnUse" x1="0" y1="691.9" x2="0" y2="999.1"><stop offset="0" stop-color="#000" stop-opacity="0.2"/><stop offset="0.3" stop-color="#000" stop-opacity="0.22"/><stop offset="0.6" stop-color="#000" stop-opacity="0.2"/><stop offset="0.85" stop-color="#000" stop-opacity="0.18"/></linearGradient>
<path d="M867.97,682.68 C866.16,691.39 860.74,719.86 857.13,734.91 C853.51,749.96 850.26,759.69 846.29,773 C842.31,786.31 838.16,797.58 833.28,814.78 C828.4,831.98 822.8,855.74 817.02,876.22 C811.24,896.7 802.21,924.35 798.59,937.66 C794.98,950.97 795.88,953.02 795.34,956.09" fill="none" stroke="url(#g19)" stroke-width="34" stroke-linecap="round" filter="url(#bl7)"/>
<linearGradient id="g20" gradientUnits="userSpaceOnUse" x1="0" y1="691.9" x2="0" y2="999.1"><stop offset="0" stop-color="#000" stop-opacity="0.3"/><stop offset="0.3" stop-color="#000" stop-opacity="0.3"/><stop offset="0.5" stop-color="#000" stop-opacity="0.33"/><stop offset="0.8" stop-color="#000" stop-opacity="0.45"/><stop offset="1" stop-color="#000" stop-opacity="0.5"/></linearGradient>
<path d="M680.44,682.68 C680.67,685.14 679.86,689.24 681.85,697.43 C683.83,705.62 689.16,720.47 692.36,731.84 C695.56,743.2 697.11,752.42 701.03,765.63 C704.95,778.84 711.55,792.66 715.88,811.09 C720.22,829.53 723.74,854.61 727.05,876.22 C730.35,897.83 734.09,927.42 735.72,940.73 C737.35,954.04 736.62,953.53 736.8,956.09" fill="none" stroke="url(#g20)" stroke-width="16" stroke-linecap="round" filter="url(#bl4)"/>
<linearGradient id="g21" gradientUnits="userSpaceOnUse" x1="0" y1="691.9" x2="0" y2="999.1"><stop offset="0" stop-color="#000" stop-opacity="0.06"/><stop offset="0.5" stop-color="#000" stop-opacity="0.1"/><stop offset="0.8" stop-color="#000" stop-opacity="0.22"/><stop offset="1" stop-color="#000" stop-opacity="0.28"/></linearGradient>
<path d="M680.44,682.68 C680.67,685.14 679.86,689.24 681.85,697.43 C683.83,705.62 689.16,720.47 692.36,731.84 C695.56,743.2 697.11,752.42 701.03,765.63 C704.95,778.84 711.55,792.66 715.88,811.09 C720.22,829.53 723.74,854.61 727.05,876.22 C730.35,897.83 734.09,927.42 735.72,940.73 C737.35,954.04 736.62,953.53 736.8,956.09" fill="none" stroke="url(#g21)" stroke-width="5" stroke-linecap="round" filter="url(#bl2)"/>
<linearGradient id="g22" gradientUnits="userSpaceOnUse" x1="0" y1="691.9" x2="0" y2="999.1"><stop offset="0" stop-color="#000" stop-opacity="0.3"/><stop offset="0.3" stop-color="#000" stop-opacity="0.3"/><stop offset="0.5" stop-color="#000" stop-opacity="0.33"/><stop offset="0.8" stop-color="#000" stop-opacity="0.45"/><stop offset="1" stop-color="#000" stop-opacity="0.5"/></linearGradient>
<path d="M851.71,682.68 C851.51,685.14 853.23,688.67 850.52,697.43 C847.81,706.18 839.59,723.59 835.45,735.22 C831.31,746.84 830.24,754.52 825.69,767.16 C821.14,779.81 813.55,792.92 808.13,811.09 C802.71,829.27 798.09,854.61 793.17,876.22 C788.26,897.83 781.36,927.42 778.65,940.73 C775.94,954.04 777.2,953.53 776.91,956.09" fill="none" stroke="url(#g22)" stroke-width="16" stroke-linecap="round" filter="url(#bl4)"/>
<linearGradient id="g23" gradientUnits="userSpaceOnUse" x1="0" y1="691.9" x2="0" y2="999.1"><stop offset="0" stop-color="#000" stop-opacity="0.06"/><stop offset="0.5" stop-color="#000" stop-opacity="0.1"/><stop offset="0.8" stop-color="#000" stop-opacity="0.22"/><stop offset="1" stop-color="#000" stop-opacity="0.28"/></linearGradient>
<path d="M851.71,682.68 C851.51,685.14 853.23,688.67 850.52,697.43 C847.81,706.18 839.59,723.59 835.45,735.22 C831.31,746.84 830.24,754.52 825.69,767.16 C821.14,779.81 813.55,792.92 808.13,811.09 C802.71,829.27 798.09,854.61 793.17,876.22 C788.26,897.83 781.36,927.42 778.65,940.73 C775.94,954.04 777.2,953.53 776.91,956.09" fill="none" stroke="url(#g23)" stroke-width="5" stroke-linecap="round" filter="url(#bl2)"/>
<linearGradient id="fe_cp2" x1="0" y1="0" x2="0" y2="1"><stop offset="0" stop-color="#fff" stop-opacity="1"/><stop offset="0.9" stop-color="#fff" stop-opacity="1"/><stop offset="1" stop-color="#fff" stop-opacity="0"/></linearGradient>
<rect x="625.8" y="628.6" width="263.8" height="67.3" fill="url(#fe_cp2)"/>
</g></g>
<clipPath id="cp3"><rect x="887.6" y="630.6" width="259.8" height="306"/></clipPath>
<g clip-path="url(#cp3)"><g filter="url(#cmapn2)">
<rect x="885.6" y="628.6" width="263.8" height="310" fill="#fff"/>
<path d="M910.97,691.9 L968.42,956.09 L1071.4,956.09 L1125.6,691.9Z" fill="#000" fill-opacity="0.08" filter="url(#bl10)"/>
<path d="M939.15,694.97 L973.84,814.78 L995.52,953.02 L1038.88,953.02 L1060.56,830.14 L1106.09,694.97Z" fill="#000" fill-opacity="0.05" filter="url(#bl10)"/>
<linearGradient id="g24" gradientUnits="userSpaceOnUse" x1="0" y1="691.9" x2="0" y2="999.1"><stop offset="0" stop-color="#000" stop-opacity="0.16"/><stop offset="0.3" stop-color="#000" stop-opacity="0.17"/><stop offset="0.6" stop-color="#000" stop-opacity="0.16"/><stop offset="0.85" stop-color="#000" stop-opacity="0.16"/></linearGradient>
<path d="M908.8,682.68 C910.97,694.46 917.11,731.32 921.81,753.34 C926.51,775.36 931.93,794.3 936.98,814.78 C942.04,835.26 947.28,855.74 952.16,876.22 C957.04,896.7 963.36,924.35 966.25,937.66 C969.14,950.97 968.96,953.02 969.5,956.09" fill="none" stroke="url(#g24)" stroke-width="26" stroke-linecap="round" filter="url(#bl7)"/>
<linearGradient id="g25" gradientUnits="userSpaceOnUse" x1="0" y1="691.9" x2="0" y2="999.1"><stop offset="0" stop-color="#000" stop-opacity="0.16"/><stop offset="0.3" stop-color="#000" stop-opacity="0.17"/><stop offset="0.6" stop-color="#000" stop-opacity="0.16"/><stop offset="0.85" stop-color="#000" stop-opacity="0.16"/></linearGradient>
<path d="M1125.6,682.68 C1123.79,694.46 1118.92,731.32 1114.76,753.34 C1110.6,775.36 1105.73,794.3 1100.67,814.78 C1095.61,835.26 1089.65,855.74 1084.41,876.22 C1079.17,896.7 1072.3,924.35 1069.23,937.66 C1066.16,950.97 1066.52,953.02 1065.98,956.09" fill="none" stroke="url(#g25)" stroke-width="26" stroke-linecap="round" filter="url(#bl7)"/>
<linearGradient id="g26" gradientUnits="userSpaceOnUse" x1="0" y1="691.9" x2="0" y2="999.1"><stop offset="0" stop-color="#000" stop-opacity="0.22"/><stop offset="0.3" stop-color="#000" stop-opacity="0.18"/><stop offset="0.6" stop-color="#000" stop-opacity="0.17"/><stop offset="0.85" stop-color="#000" stop-opacity="0.17"/></linearGradient>
<path d="M934.82,682.68 C935.9,689.34 938.97,709.82 941.32,722.62 C943.67,735.42 946.02,744.12 948.91,759.48 C951.8,774.84 955.05,795.32 958.66,814.78 C962.28,834.24 966.43,855.74 970.59,876.22 C974.74,896.7 981.07,924.35 983.6,937.66 C986.13,950.97 985.4,953.02 985.76,956.09" fill="none" stroke="url(#g26)" stroke-width="20" stroke-linecap="round" filter="url(#bl5)"/>
<linearGradient id="g27" gradientUnits="userSpaceOnUse" x1="0" y1="691.9" x2="0" y2="999.1"><stop offset="0" stop-color="#000" stop-opacity="0.22"/><stop offset="0.3" stop-color="#000" stop-opacity="0.18"/><stop offset="0.6" stop-color="#000" stop-opacity="0.17"/><stop offset="0.85" stop-color="#000" stop-opacity="0.17"/></linearGradient>
<path d="M1110.42,682.68 C1109.16,689.34 1105.73,709.82 1102.84,722.62 C1099.95,735.42 1097.42,744.12 1093.08,759.48 C1088.74,774.84 1081.7,795.32 1076.82,814.78 C1071.94,834.24 1067.79,855.74 1063.81,876.22 C1059.84,896.7 1055.14,924.35 1052.97,937.66 C1050.8,950.97 1051.17,953.02 1050.8,956.09" fill="none" stroke="url(#g27)" stroke-width="20" stroke-linecap="round" filter="url(#bl5)"/>
<linearGradient id="g28" gradientUnits="userSpaceOnUse" x1="0" y1="691.9" x2="0" y2="999.1"><stop offset="0" stop-color="#000" stop-opacity="0.5"/><stop offset="0.15" stop-color="#000" stop-opacity="0.35"/><stop offset="0.4" stop-color="#000" stop-opacity="0.25"/><stop offset="0.7" stop-color="#000" stop-opacity="0.33"/><stop offset="1" stop-color="#000" stop-opacity="0.4"/></linearGradient>
<path d="M941.32,682.68 C941.63,685.14 941.18,688.67 943.16,697.43 C945.15,706.18 950.3,722.62 953.24,735.22 C956.19,747.81 958.07,760.35 960.83,773 C963.6,785.65 966.4,793.89 969.83,811.09 C973.26,828.3 977.15,855.13 981.43,876.22 C985.71,897.31 992.81,924.35 995.52,937.66 C998.23,950.97 997.33,953.02 997.69,956.09" fill="none" stroke="url(#g28)" stroke-width="15" stroke-linecap="round" filter="url(#bl3)"/>
<linearGradient id="g29" gradientUnits="userSpaceOnUse" x1="0" y1="691.9" x2="0" y2="999.1"><stop offset="0" stop-color="#000" stop-opacity="0.12"/><stop offset="0.3" stop-color="#000" stop-opacity="0.05"/><stop offset="0.6" stop-color="#000" stop-opacity="0.1"/><stop offset="0.8" stop-color="#000" stop-opacity="0.15"/><stop offset="1" stop-color="#000" stop-opacity="0.2"/></linearGradient>
<path d="M941.32,682.68 C941.63,685.14 941.18,688.67 943.16,697.43 C945.15,706.18 950.3,722.62 953.24,735.22 C956.19,747.81 958.07,760.35 960.83,773 C963.6,785.65 966.4,793.89 969.83,811.09 C973.26,828.3 977.15,855.13 981.43,876.22 C985.71,897.31 992.81,924.35 995.52,937.66 C998.23,950.97 997.33,953.02 997.69,956.09" fill="none" stroke="url(#g29)" stroke-width="5" stroke-linecap="round" filter="url(#bl1_6)"/>
<linearGradient id="g30" gradientUnits="userSpaceOnUse" x1="0" y1="691.9" x2="0" y2="999.1"><stop offset="0" stop-color="#000" stop-opacity="0.5"/><stop offset="0.15" stop-color="#000" stop-opacity="0.35"/><stop offset="0.4" stop-color="#000" stop-opacity="0.25"/><stop offset="0.7" stop-color="#000" stop-opacity="0.33"/><stop offset="1" stop-color="#000" stop-opacity="0.4"/></linearGradient>
<path d="M1108.26,682.68 C1108.08,684.73 1108.98,688.32 1107.17,694.97 C1105.37,701.63 1100.79,712.53 1097.42,722.62 C1094.04,732.71 1090.88,744.74 1086.9,755.49 C1082.93,766.24 1077.78,776.64 1073.57,787.13 C1069.36,797.63 1065.62,803.62 1061.64,818.47 C1057.67,833.31 1053.51,856.35 1049.72,876.22 C1045.93,896.09 1041.05,924.35 1038.88,937.66 C1036.71,950.97 1037.07,953.02 1036.71,956.09" fill="none" stroke="url(#g30)" stroke-width="15" stroke-linecap="round" filter="url(#bl3)"/>
<linearGradient id="g31" gradientUnits="userSpaceOnUse" x1="0" y1="691.9" x2="0" y2="999.1"><stop offset="0" stop-color="#000" stop-opacity="0.12"/><stop offset="0.3" stop-color="#000" stop-opacity="0.05"/><stop offset="0.6" stop-color="#000" stop-opacity="0.1"/><stop offset="0.8" stop-color="#000" stop-opacity="0.15"/><stop offset="1" stop-color="#000" stop-opacity="0.2"/></linearGradient>
<path d="M1108.26,682.68 C1108.08,684.73 1108.98,688.32 1107.17,694.97 C1105.37,701.63 1100.79,712.53 1097.42,722.62 C1094.04,732.71 1090.88,744.74 1086.9,755.49 C1082.93,766.24 1077.78,776.64 1073.57,787.13 C1069.36,797.63 1065.62,803.62 1061.64,818.47 C1057.67,833.31 1053.51,856.35 1049.72,876.22 C1045.93,896.09 1041.05,924.35 1038.88,937.66 C1036.71,950.97 1037.07,953.02 1036.71,956.09" fill="none" stroke="url(#g31)" stroke-width="5" stroke-linecap="round" filter="url(#bl1_6)"/>
<ellipse cx="1017.2" cy="710.33" rx="20" ry="17" fill="#000" fill-opacity="0.38" transform="rotate(0 1017.2 710.33)" filter="url(#bl6)"/>
<linearGradient id="fe_cp3" x1="0" y1="0" x2="0" y2="1"><stop offset="0" stop-color="#fff" stop-opacity="1"/><stop offset="0.9" stop-color="#fff" stop-opacity="1"/><stop offset="1" stop-color="#fff" stop-opacity="0"/></linearGradient>
<rect x="885.6" y="628.6" width="263.8" height="67.3" fill="url(#fe_cp3)"/>
</g></g>
<g stroke="#222" stroke-width="1.5" fill="none">
<rect x="108.2" y="630.6" width="1039.3" height="306"/>
<line x1="368" y1="630.6" x2="368" y2="936.6"/>
<line x1="627.8" y1="630.6" x2="627.8" y2="936.6"/>
<line x1="887.6" y1="630.6" x2="887.6" y2="936.6"/>
<line x1="129.4" y1="936.6" x2="129.4" y2="948.6"/>
<line x1="237.8" y1="936.6" x2="237.8" y2="948.6"/>
<line x1="346.2" y1="936.6" x2="346.2" y2="948.6"/>
<line x1="389.2" y1="936.6" x2="389.2" y2="948.6"/>
<line x1="497.6" y1="936.6" x2="497.6" y2="948.6"/>
<line x1="606" y1="936.6" x2="606" y2="948.6"/>
<line x1="649" y1="936.6" x2="649" y2="948.6"/>
<line x1="757.4" y1="936.6" x2="757.4" y2="948.6"/>
<line x1="865.8" y1="936.6" x2="865.8" y2="948.6"/>
<line x1="908.8" y1="936.6" x2="908.8" y2="948.6"/>
<line x1="1017.2" y1="936.6" x2="1017.2" y2="948.6"/>
<line x1="1125.6" y1="936.6" x2="1125.6" y2="948.6"/>
<line x1="96.8" y1="691.9" x2="108.2" y2="691.9"/>
<line x1="96.8" y1="845.5" x2="108.2" y2="845.5"/>
</g>
<line x1="108.2" y1="691.9" x2="1147.5" y2="691.9" stroke="#444" stroke-width="1.6" stroke-dasharray="8.3 7.93" stroke-dashoffset="4.24"/>
<text x="189.11" y="671.8" font-size="30.14" font-weight="normal" font-style="normal" fill="#000" textLength="97.33" lengthAdjust="spacingAndGlyphs" >Pristine</text>
<text x="416.56" y="671.8" font-size="30.14" font-weight="normal" font-style="normal" fill="#000" textLength="161.87" lengthAdjust="spacingAndGlyphs" >K ~ 0.25 ML</text>
<text x="676.36" y="671.8" font-size="30.14" font-weight="normal" font-style="normal" fill="#000" textLength="161.87" lengthAdjust="spacingAndGlyphs" >K ~ 0.50 ML</text>
<text x="936.16" y="671.8" font-size="30.14" font-weight="normal" font-style="normal" fill="#000" textLength="161.87" lengthAdjust="spacingAndGlyphs" >K ~ 1.00 ML</text>
<text x="121.81" y="926.7" font-size="29.28" font-weight="normal" font-style="normal" fill="#c8202e" textLength="12.42" lengthAdjust="spacingAndGlyphs" >1</text>
<text x="380.23" y="926.7" font-size="28.86" font-weight="normal" font-style="normal" fill="#c8202e" textLength="17.41" lengthAdjust="spacingAndGlyphs" >2</text>
<text x="639.27" y="926.7" font-size="28.86" font-weight="normal" font-style="normal" fill="#c8202e" textLength="18.46" lengthAdjust="spacingAndGlyphs" >3</text>
<text x="900.01" y="926.7" font-size="29.28" font-weight="normal" font-style="normal" fill="#c8202e" textLength="16.46" lengthAdjust="spacingAndGlyphs" >4</text>
<text x="545.01" y="595.7" font-size="29.28" font-weight="normal" font-style="normal" fill="#000" textLength="164.59" lengthAdjust="spacingAndGlyphs" >K deposition</text>
<line x1="237.5" y1="611" x2="1010" y2="611" stroke="#222" stroke-width="1.4"/>
<path d="M1018.5,611 L1006,606.2 L1009,611 L1006,615.8 Z" fill="#222"/>
<text x="50.1" y="701" font-size="27.71" font-weight="normal" font-style="normal" fill="#000" textLength="41.7" lengthAdjust="spacingAndGlyphs" >0.0</text>
<text x="38.3" y="854.8" font-size="27.71" font-weight="normal" font-style="normal" fill="#000" textLength="52.95" lengthAdjust="spacingAndGlyphs" >–0.5</text>
<text x="96.8" y="979.5" font-size="27.71" font-weight="normal" font-style="normal" fill="#000" textLength="53.59" lengthAdjust="spacingAndGlyphs" >–1.0</text>
<text x="216.51" y="979.5" font-size="27.71" font-weight="normal" font-style="normal" fill="#000" textLength="41.38" lengthAdjust="spacingAndGlyphs" >0.0</text>
<text x="326.41" y="979.5" font-size="27.71" font-weight="normal" font-style="normal" fill="#000" textLength="39.73" lengthAdjust="spacingAndGlyphs" >1.0</text>
<text x="489.93" y="1020.6" font-size="33.77" font-weight="normal" font-style="normal" fill="#000" textLength="167.11" lengthAdjust="spacingAndGlyphs" >Momentum</text>
<text x="667.98" y="1020.6" font-size="32.5" font-weight="normal" font-style="italic" fill="#000" textLength="12.98" lengthAdjust="spacingAndGlyphs" >k</text>
<text x="683.27" y="1032" font-size="17" font-weight="normal" font-style="normal" fill="#000" textLength="11.35" lengthAdjust="spacingAndGlyphs" >x</text>
<text x="699.65" y="1020.6" font-size="32.5" font-weight="normal" font-style="normal" fill="#000" textLength="34.19" lengthAdjust="spacingAndGlyphs" >(Å</text>
<text x="736.33" y="1008" font-size="17" font-weight="normal" font-style="normal" fill="#000" textLength="15" lengthAdjust="spacingAndGlyphs" >-1</text>
<text x="752.08" y="1020.6" font-size="32.5" font-weight="normal" font-style="normal" fill="#000" textLength="14.09" lengthAdjust="spacingAndGlyphs" >)</text>
<g transform="translate(23.9,859) rotate(-90)">
<text x="-1.02" y="0" font-size="33.33" font-weight="normal" font-style="italic" fill="#000" textLength="22.58" lengthAdjust="spacingAndGlyphs" >E</text>
<rect x="27.5" y="-9.8" width="12.5" height="1.9" fill="#000"/>
<text x="53.58" y="0" font-size="33.33" font-weight="normal" font-style="italic" fill="#000" textLength="20.52" lengthAdjust="spacingAndGlyphs" >E</text>
<text x="71.9" y="11.1" font-size="18.84" font-weight="normal" font-style="normal" fill="#000" textLength="11.47" lengthAdjust="spacingAndGlyphs" >F</text>
<text x="91.5" y="0" font-size="33.33" font-weight="normal" font-style="normal" fill="#000" textLength="62.97" lengthAdjust="spacingAndGlyphs" >(eV)</text>
</g>
<linearGradient id="cbar" x1="0" y1="0" x2="0" y2="1"><stop offset="0" stop-color="#02021a"/><stop offset="0.12" stop-color="#020238"/><stop offset="0.35" stop-color="#000a8a"/><stop offset="0.55" stop-color="#0040c0"/><stop offset="0.72" stop-color="#0a80f0"/><stop offset="0.88" stop-color="#60b8ff"/><stop offset="1" stop-color="#d8efff"/></linearGradient>
<rect x="1172.6" y="671.7" width="10.5" height="44.3" fill="url(#cbar)" stroke="#111" stroke-width="1"/>
<text x="1150.38" y="652.5" font-size="26.52" font-weight="normal" font-style="normal" fill="#000" textLength="54.38" lengthAdjust="spacingAndGlyphs" >High</text>
<text x="1154.32" y="745.4" font-size="24.64" font-weight="normal" font-style="normal" fill="#000" textLength="45.39" lengthAdjust="spacingAndGlyphs" >Low</text>
<g transform="matrix(1 0.58 0 1 753 136.2)">
<clipPath id="cl"><rect x="0" y="0" width="213.2" height="213.2"/></clipPath>
<g clip-path="url(#cl)"><g filter="url(#cmap)">
<rect x="-2" y="-2" width="217.2" height="217.2" fill="#fff"/>
<linearGradient id="g32" gradientUnits="userSpaceOnUse" x1="0" y1="0" x2="0" y2="213"><stop offset="0" stop-color="#000" stop-opacity="0"/><stop offset="0.4" stop-color="#000" stop-opacity="0.05"/><stop offset="0.6" stop-color="#000" stop-opacity="0.2"/><stop offset="0.8" stop-color="#000" stop-opacity="0.3"/><stop offset="1" stop-color="#000" stop-opacity="0.35"/></linearGradient>
<path d="M168.62,95.85 L195.25,234.3 L221.88,234.3 L221.88,85.2Z" fill="url(#g32)" filter="url(#bl10)"/>
<linearGradient id="g33" gradientUnits="userSpaceOnUse" x1="0" y1="0" x2="0" y2="213"><stop offset="0" stop-color="#000" stop-opacity="0.25"/><stop offset="0.1" stop-color="#000" stop-opacity="0.3"/><stop offset="0.2" stop-color="#000" stop-opacity="0.3"/><stop offset="0.3" stop-color="#000" stop-opacity="0.1"/></linearGradient>
<path d="M35.5,-6.39 C37.57,-3.19 42.9,6.39 47.92,12.78 C52.95,19.17 60.05,25.56 65.67,31.95 C71.3,38.34 77.21,45.79 81.65,51.12 C86.09,56.45 90.52,61.77 92.3,63.9" fill="none" stroke="url(#g33)" stroke-width="29.9" stroke-linecap="round" filter="url(#bl8)"/>
<path d="M177.5,20.75 C178.56,21.69 181.73,24.68 183.84,26.4 C185.95,28.12 188.07,29.69 190.18,31.1 C192.29,32.5 194.4,33.75 196.52,34.84 C198.63,35.93 200.74,36.87 202.86,37.64 C204.97,38.41 207.08,39.03 209.2,39.48 C211.31,39.94 213.42,40.24 215.54,40.38 C217.65,40.52 220.82,40.33 221.88,40.32" fill="none" stroke="#000" stroke-opacity="0.35" stroke-width="11.5" stroke-linecap="round" filter="url(#bl3)"/>
<ellipse cx="106.5" cy="12.78" rx="13.8" ry="16.1" fill="#000" fill-opacity="0.3" transform="rotate(0 106.5 12.78)" filter="url(#bl6)"/>
<linearGradient id="g34" gradientUnits="userSpaceOnUse" x1="0" y1="0" x2="0" y2="213"><stop offset="0" stop-color="#000" stop-opacity="0.08"/><stop offset="0.3" stop-color="#000" stop-opacity="0.14"/><stop offset="0.6" stop-color="#000" stop-opacity="0.24"/><stop offset="0.85" stop-color="#000" stop-opacity="0.36"/><stop offset="1" stop-color="#000" stop-opacity="0.5"/></linearGradient>
<path d="M113.6,25.56 L133.12,68.16 L177.5,181.05 L191.7,234.3 L234.3,234.3 L248.5,181.05 L292.88,74.55 L323.05,25.56 L266.25,6.39 L159.75,6.39Z" fill="url(#g34)" filter="url(#bl10)"/>
<linearGradient id="g35" gradientUnits="userSpaceOnUse" x1="0" y1="0" x2="0" y2="213"><stop offset="0" stop-color="#000" stop-opacity="0.3"/><stop offset="0.07" stop-color="#000" stop-opacity="0.4"/><stop offset="0.17" stop-color="#000" stop-opacity="0.48"/><stop offset="0.26" stop-color="#000" stop-opacity="0.3"/><stop offset="0.32" stop-color="#000" stop-opacity="0.08"/></linearGradient>
<path d="M49.7,-6.39 C51.18,-2.84 54.43,7.92 58.57,14.91 C62.72,21.9 70.11,28.83 74.55,35.57 C78.99,42.32 82.24,49.59 85.2,55.38 C88.16,61.17 91.12,67.81 92.3,70.29" fill="none" stroke="url(#g35)" stroke-width="32.2" stroke-linecap="round" filter="url(#bl7)"/>
<linearGradient id="g36" gradientUnits="userSpaceOnUse" x1="0" y1="0" x2="0" y2="213"><stop offset="0" stop-color="#000" stop-opacity="0.3"/><stop offset="0.07" stop-color="#000" stop-opacity="0.4"/><stop offset="0.17" stop-color="#000" stop-opacity="0.48"/><stop offset="0.26" stop-color="#000" stop-opacity="0.3"/><stop offset="0.32" stop-color="#000" stop-opacity="0.08"/></linearGradient>
<path d="M386.95,-6.39 C385.77,-2.84 382.81,7.92 379.85,14.91 C376.89,21.9 372.75,28.83 369.2,35.57 C365.65,42.32 361.51,49.59 358.55,55.38 C355.59,61.17 352.63,67.81 351.45,70.29" fill="none" stroke="url(#g36)" stroke-width="32.2" stroke-linecap="round" filter="url(#bl7)"/>
<path d="M106.5,-6.39 C106.8,-2.84 107.56,8.84 108.27,14.91 C108.98,20.98 108.3,24.6 110.76,30.03 C113.22,35.46 118.87,41.68 123.01,47.5 C127.15,53.32 131.47,59.14 135.61,64.97 C139.75,70.79 143.54,73.73 147.86,82.43 C152.18,91.13 156.58,102.13 161.52,117.15 C166.47,132.17 173.65,160.1 177.5,172.53 C181.35,184.96 182.23,184.96 184.6,191.7 C186.97,198.45 190.52,209.45 191.7,213" fill="none" stroke="#000" stroke-opacity="0.26" stroke-width="41.4" stroke-linecap="round" filter="url(#bl10)"/>
<linearGradient id="g37" gradientUnits="userSpaceOnUse" x1="0" y1="0" x2="0" y2="213"><stop offset="0" stop-color="#000" stop-opacity="0.42"/><stop offset="0.15" stop-color="#000" stop-opacity="0.5"/><stop offset="0.4" stop-color="#000" stop-opacity="0.5"/><stop offset="0.6" stop-color="#000" stop-opacity="0.6"/><stop offset="0.8" stop-color="#000" stop-opacity="0.75"/><stop offset="1" stop-color="#000" stop-opacity="0.8"/></linearGradient>
<path d="M106.5,-6.39 C106.8,-2.84 107.56,8.84 108.27,14.91 C108.98,20.98 108.3,24.6 110.76,30.03 C113.22,35.46 118.87,41.68 123.01,47.5 C127.15,53.32 131.47,59.14 135.61,64.97 C139.75,70.79 143.54,73.73 147.86,82.43 C152.18,91.13 156.58,102.13 161.52,117.15 C166.47,132.17 173.65,160.1 177.5,172.53 C181.35,184.96 182.23,184.96 184.6,191.7 C186.97,198.45 190.52,209.45 191.7,213" fill="none" stroke="url(#g37)" stroke-width="23" stroke-linecap="round" filter="url(#bl5)"/>
<linearGradient id="g38" gradientUnits="userSpaceOnUse" x1="0" y1="0" x2="0" y2="213"><stop offset="0" stop-color="#000" stop-opacity="0.2"/><stop offset="0.15" stop-color="#000" stop-opacity="0.35"/><stop offset="0.4" stop-color="#000" stop-opacity="0.4"/><stop offset="0.6" stop-color="#000" stop-opacity="0.6"/><stop offset="0.8" stop-color="#000" stop-opacity="0.85"/><stop offset="1" stop-color="#000" stop-opacity="0.9"/></linearGradient>
<path d="M106.5,-6.39 C106.8,-2.84 107.56,8.84 108.27,14.91 C108.98,20.98 108.3,24.6 110.76,30.03 C113.22,35.46 118.87,41.68 123.01,47.5 C127.15,53.32 131.47,59.14 135.61,64.97 C139.75,70.79 143.54,73.73 147.86,82.43 C152.18,91.13 156.58,102.13 161.52,117.15 C166.47,132.17 173.65,160.1 177.5,172.53 C181.35,184.96 182.23,184.96 184.6,191.7 C186.97,198.45 190.52,209.45 191.7,213" fill="none" stroke="url(#g38)" stroke-width="8.05" stroke-linecap="round" filter="url(#bl2_5)"/>
<path d="M334.06,-6.39 C333.85,-2.84 333.82,8.52 332.81,14.91 C331.81,21.3 330.89,26.48 328.02,31.95 C325.15,37.42 322.13,38.84 315.6,47.71 C309.06,56.59 296.43,72.92 288.79,85.2 C281.16,97.48 276.63,106.85 269.8,121.41 C262.97,135.97 252.67,160.81 247.79,172.53 C242.91,184.25 242.91,184.96 240.51,191.7 C238.12,198.45 234.6,209.45 233.41,213" fill="none" stroke="#000" stroke-opacity="0.26" stroke-width="41.4" stroke-linecap="round" filter="url(#bl10)"/>
<linearGradient id="g39" gradientUnits="userSpaceOnUse" x1="0" y1="0" x2="0" y2="213"><stop offset="0" stop-color="#000" stop-opacity="0.42"/><stop offset="0.15" stop-color="#000" stop-opacity="0.5"/><stop offset="0.4" stop-color="#000" stop-opacity="0.5"/><stop offset="0.6" stop-color="#000" stop-opacity="0.6"/><stop offset="0.8" stop-color="#000" stop-opacity="0.75"/><stop offset="1" stop-color="#000" stop-opacity="0.8"/></linearGradient>
<path d="M334.06,-6.39 C333.85,-2.84 333.82,8.52 332.81,14.91 C331.81,21.3 330.89,26.48 328.02,31.95 C325.15,37.42 322.13,38.84 315.6,47.71 C309.06,56.59 296.43,72.92 288.79,85.2 C281.16,97.48 276.63,106.85 269.8,121.41 C262.97,135.97 252.67,160.81 247.79,172.53 C242.91,184.25 242.91,184.96 240.51,191.7 C238.12,198.45 234.6,209.45 233.41,213" fill="none" stroke="url(#g39)" stroke-width="23" stroke-linecap="round" filter="url(#bl5)"/>
<linearGradient id="g40" gradientUnits="userSpaceOnUse" x1="0" y1="0" x2="0" y2="213"><stop offset="0" stop-color="#000" stop-opacity="0.2"/><stop offset="0.15" stop-color="#000" stop-opacity="0.35"/><stop offset="0.4" stop-color="#000" stop-opacity="0.4"/><stop offset="0.6" stop-color="#000" stop-opacity="0.6"/><stop offset="0.8" stop-color="#000" stop-opacity="0.85"/><stop offset="1" stop-color="#000" stop-opacity="0.9"/></linearGradient>
<path d="M334.06,-6.39 C333.85,-2.84 333.82,8.52 332.81,14.91 C331.81,21.3 330.89,26.48 328.02,31.95 C325.15,37.42 322.13,38.84 315.6,47.71 C309.06,56.59 296.43,72.92 288.79,85.2 C281.16,97.48 276.63,106.85 269.8,121.41 C262.97,135.97 252.67,160.81 247.79,172.53 C242.91,184.25 242.91,184.96 240.51,191.7 C238.12,198.45 234.6,209.45 233.41,213" fill="none" stroke="url(#g40)" stroke-width="8.05" stroke-linecap="round" filter="url(#bl2_5)"/>
<ellipse cx="106.5" cy="6.39" rx="13.8" ry="16.1" fill="#000" fill-opacity="0.25" transform="rotate(0 106.5 6.39)" filter="url(#bl6)"/>
<ellipse cx="335.47" cy="6.39" rx="13.8" ry="16.1" fill="#000" fill-opacity="0.25" transform="rotate(0 335.47 6.39)" filter="url(#bl6)"/>
<ellipse cx="110.76" cy="28.76" rx="6.9" ry="14.95" fill="#000" fill-opacity="0.55" transform="rotate(0 110.76 28.76)" filter="url(#bl4)"/>
<ellipse cx="329.26" cy="30.88" rx="6.9" ry="14.95" fill="#000" fill-opacity="0.55" transform="rotate(0 329.26 30.88)" filter="url(#bl4)"/>
<path d="M154.42,-7.84 C155.66,-6.08 159.37,-0.58 161.84,2.72 C164.31,6.02 166.78,9.11 169.25,11.98 C171.72,14.85 174.19,17.5 176.66,19.94 C179.14,22.37 181.61,24.59 184.08,26.59 C186.55,28.6 189.02,30.38 191.49,31.95 C193.96,33.52 196.43,34.87 198.9,36.01 C201.38,37.14 203.85,38.06 206.32,38.76 C208.79,39.47 211.26,39.95 213.73,40.22 C216.2,40.49 218.67,40.54 221.14,40.38 C223.62,40.21 226.09,39.83 228.56,39.23 C231.03,38.63 233.5,37.82 235.97,36.79 C238.44,35.75 240.91,34.51 243.38,33.04 C245.85,31.58 248.33,29.89 250.8,27.99 C253.27,26.1 255.74,23.98 258.21,21.65 C260.68,19.32 263.15,16.77 265.62,14 C268.09,11.24 270.57,8.25 273.04,5.06 C275.51,1.86 279.21,-3.48 280.45,-5.19" fill="none" stroke="#000" stroke-opacity="0.22" stroke-width="34.5" stroke-linecap="round" filter="url(#bl7)"/>
<linearGradient id="g41" gradientUnits="userSpaceOnUse" x1="0" y1="0" x2="0" y2="213"><stop offset="0" stop-color="#000" stop-opacity="0.35"/><stop offset="0.1" stop-color="#000" stop-opacity="0.48"/><stop offset="0.19" stop-color="#000" stop-opacity="0.7"/><stop offset="0.3" stop-color="#000" stop-opacity="0.7"/></linearGradient>
<path d="M154.42,-7.84 C155.66,-6.08 159.37,-0.58 161.84,2.72 C164.31,6.02 166.78,9.11 169.25,11.98 C171.72,14.85 174.19,17.5 176.66,19.94 C179.14,22.37 181.61,24.59 184.08,26.59 C186.55,28.6 189.02,30.38 191.49,31.95 C193.96,33.52 196.43,34.87 198.9,36.01 C201.38,37.14 203.85,38.06 206.32,38.76 C208.79,39.47 211.26,39.95 213.73,40.22 C216.2,40.49 218.67,40.54 221.14,40.38 C223.62,40.21 226.09,39.83 228.56,39.23 C231.03,38.63 233.5,37.82 235.97,36.79 C238.44,35.75 240.91,34.51 243.38,33.04 C245.85,31.58 248.33,29.89 250.8,27.99 C253.27,26.1 255.74,23.98 258.21,21.65 C260.68,19.32 263.15,16.77 265.62,14 C268.09,11.24 270.57,8.25 273.04,5.06 C275.51,1.86 279.21,-3.48 280.45,-5.19" fill="none" stroke="url(#g41)" stroke-width="19.55" stroke-linecap="round" filter="url(#bl4)"/>
<linearGradient id="g42" gradientUnits="userSpaceOnUse" x1="0" y1="0" x2="0" y2="213"><stop offset="0" stop-color="#000" stop-opacity="0.1"/><stop offset="0.1" stop-color="#000" stop-opacity="0.22"/><stop offset="0.19" stop-color="#000" stop-opacity="0.5"/><stop offset="0.3" stop-color="#000" stop-opacity="0.5"/></linearGradient>
<path d="M154.42,-7.84 C155.66,-6.08 159.37,-0.58 161.84,2.72 C164.31,6.02 166.78,9.11 169.25,11.98 C171.72,14.85 174.19,17.5 176.66,19.94 C179.14,22.37 181.61,24.59 184.08,26.59 C186.55,28.6 189.02,30.38 191.49,31.95 C193.96,33.52 196.43,34.87 198.9,36.01 C201.38,37.14 203.85,38.06 206.32,38.76 C208.79,39.47 211.26,39.95 213.73,40.22 C216.2,40.49 218.67,40.54 221.14,40.38 C223.62,40.21 226.09,39.83 228.56,39.23 C231.03,38.63 233.5,37.82 235.97,36.79 C238.44,35.75 240.91,34.51 243.38,33.04 C245.85,31.58 248.33,29.89 250.8,27.99 C253.27,26.1 255.74,23.98 258.21,21.65 C260.68,19.32 263.15,16.77 265.62,14 C268.09,11.24 270.57,8.25 273.04,5.06 C275.51,1.86 279.21,-3.48 280.45,-5.19" fill="none" stroke="url(#g42)" stroke-width="5.75" stroke-linecap="round" filter="url(#bl2_5)"/>
<ellipse cx="111.83" cy="31.95" rx="6.9" ry="16.1" fill="#000" fill-opacity="0.5" transform="rotate(0 111.83 31.95)" filter="url(#bl5)"/>
</g></g>
</g>
<g transform="matrix(1 -0.58 0 1 966 258.8)">
<clipPath id="cr"><rect x="0" y="0" width="213.2" height="213.2"/></clipPath>
<g clip-path="url(#cr)"><g filter="url(#cmap)">
<rect x="-2" y="-2" width="217.2" height="217.2" fill="#fff"/>
<linearGradient id="g43" gradientUnits="userSpaceOnUse" x1="0" y1="0" x2="0" y2="213"><stop offset="0" stop-color="#000" stop-opacity="0.15"/><stop offset="0.1" stop-color="#000" stop-opacity="0.3"/><stop offset="0.25" stop-color="#000" stop-opacity="0.38"/><stop offset="0.5" stop-color="#000" stop-opacity="0.45"/><stop offset="0.8" stop-color="#000" stop-opacity="0.62"/><stop offset="1" stop-color="#000" stop-opacity="0.75"/></linearGradient>
<rect x="0" y="0" width="18.9" height="213.2" fill="url(#g43)"/>
<linearGradient id="g44" gradientUnits="userSpaceOnUse" x1="0" y1="0" x2="0" y2="213"><stop offset="0" stop-color="#000" stop-opacity="0.25"/><stop offset="0.2" stop-color="#000" stop-opacity="0.32"/><stop offset="0.5" stop-color="#000" stop-opacity="0.33"/><stop offset="1" stop-color="#000" stop-opacity="0.42"/></linearGradient>
<rect x="18.6" y="0" width="18.9" height="213.2" fill="url(#g44)"/>
<linearGradient id="g45" gradientUnits="userSpaceOnUse" x1="0" y1="0" x2="0" y2="213"><stop offset="0" stop-color="#000" stop-opacity="0.14"/><stop offset="0.5" stop-color="#000" stop-opacity="0.18"/><stop offset="1" stop-color="#000" stop-opacity="0.24"/></linearGradient>
<rect x="37.2" y="0" width="18.9" height="213.2" fill="url(#g45)"/>
<linearGradient id="g46" gradientUnits="userSpaceOnUse" x1="0" y1="0" x2="0" y2="213"><stop offset="0" stop-color="#000" stop-opacity="0.1"/><stop offset="1" stop-color="#000" stop-opacity="0.14"/></linearGradient>
<rect x="55.8" y="0" width="18.9" height="213.2" fill="url(#g46)"/>
<linearGradient id="g47" gradientUnits="userSpaceOnUse" x1="0" y1="0" x2="0" y2="213"><stop offset="0" stop-color="#000" stop-opacity="0.08"/><stop offset="1" stop-color="#000" stop-opacity="0.1"/></linearGradient>
<rect x="74.4" y="0" width="18.9" height="213.2" fill="url(#g47)"/>
<linearGradient id="g48" gradientUnits="userSpaceOnUse" x1="0" y1="0" x2="0" y2="213"><stop offset="0" stop-color="#000" stop-opacity="0.07"/><stop offset="1" stop-color="#000" stop-opacity="0.09"/></linearGradient>
<rect x="93" y="0" width="18.9" height="213.2" fill="url(#g48)"/>
<linearGradient id="g49" gradientUnits="userSpaceOnUse" x1="0" y1="0" x2="0" y2="213"><stop offset="0" stop-color="#000" stop-opacity="0.08"/><stop offset="1" stop-color="#000" stop-opacity="0.1"/></linearGradient>
<rect x="111.6" y="0" width="18.9" height="213.2" fill="url(#g49)"/>
<linearGradient id="g50" gradientUnits="userSpaceOnUse" x1="0" y1="0" x2="0" y2="213"><stop offset="0" stop-color="#000" stop-opacity="0.07"/><stop offset="1" stop-color="#000" stop-opacity="0.08"/></linearGradient>
<rect x="130.2" y="0" width="18.9" height="213.2" fill="url(#g50)"/>
<linearGradient id="g51" gradientUnits="userSpaceOnUse" x1="0" y1="0" x2="0" y2="213"><stop offset="0" stop-color="#000" stop-opacity="0.06"/><stop offset="1" stop-color="#000" stop-opacity="0.07"/></linearGradient>
<rect x="148.8" y="0" width="18.9" height="213.2" fill="url(#g51)"/>
<linearGradient id="g52" gradientUnits="userSpaceOnUse" x1="0" y1="0" x2="0" y2="213"><stop offset="0" stop-color="#000" stop-opacity="0.05"/><stop offset="1" stop-color="#000" stop-opacity="0.06"/></linearGradient>
<rect x="167.4" y="0" width="18.9" height="213.2" fill="url(#g52)"/>
<linearGradient id="g53" gradientUnits="userSpaceOnUse" x1="0" y1="0" x2="0" y2="213"><stop offset="0" stop-color="#000" stop-opacity="0.05"/><stop offset="1" stop-color="#000" stop-opacity="0.06"/></linearGradient>
<rect x="186" y="0" width="18.9" height="213.2" fill="url(#g53)"/>
<linearGradient id="g54" gradientUnits="userSpaceOnUse" x1="0" y1="0" x2="0" y2="213"><stop offset="0" stop-color="#000" stop-opacity="0.04"/><stop offset="1" stop-color="#000" stop-opacity="0.05"/></linearGradient>
<rect x="204.6" y="0" width="18.9" height="213.2" fill="url(#g54)"/>
<rect x="-2" y="27" width="19.6" height="20" fill="#000" fill-opacity="0.85" filter="url(#bl3)"/>
<rect x="18.6" y="58" width="18.6" height="22" fill="#000" fill-opacity="0.08" filter="url(#bl3)"/>
<rect x="111.6" y="0" width="18.6" height="24" fill="#000" fill-opacity="0.15" filter="url(#bl3)"/>
<g filter="url(#bl0_8)">
<rect x="26.05" y="130.58" width="37.93" height="1.47" fill="#fff" fill-opacity="0.29"/>
<rect x="91.51" y="28.54" width="42.75" height="1.2" fill="#fff" fill-opacity="0.23"/>
<rect x="104.7" y="144.55" width="42.75" height="2.17" fill="#fff" fill-opacity="0.29"/>
<rect x="82.93" y="47.33" width="52.36" height="1.85" fill="#fff" fill-opacity="0.34"/>
<rect x="84.18" y="77.54" width="58.64" height="2.23" fill="#fff" fill-opacity="0.31"/>
<rect x="118.49" y="22.68" width="16.49" height="2.4" fill="#fff" fill-opacity="0.39"/>
<rect x="46.19" y="155.08" width="53.06" height="1.27" fill="#fff" fill-opacity="0.36"/>
<rect x="-6.69" y="110.91" width="55.06" height="1.66" fill="#fff" fill-opacity="0.36"/>
<rect x="101.87" y="146.65" width="53.81" height="1.3" fill="#fff" fill-opacity="0.37"/>
<rect x="-4.53" y="72.17" width="30.15" height="1.1" fill="#fff" fill-opacity="0.17"/>
<rect x="15.37" y="132.94" width="22.19" height="1.44" fill="#fff" fill-opacity="0.22"/>
<rect x="180.13" y="195.98" width="54.15" height="2.48" fill="#fff" fill-opacity="0.26"/>
<rect x="49" y="169.51" width="56.69" height="2.22" fill="#fff" fill-opacity="0.33"/>
<rect x="9.21" y="48.49" width="56.63" height="1.83" fill="#fff" fill-opacity="0.3"/>
<rect x="20.14" y="183.6" width="46.47" height="1.7" fill="#fff" fill-opacity="0.35"/>
<rect x="31.31" y="97.11" width="58.04" height="1.42" fill="#fff" fill-opacity="0.34"/>
<rect x="42.04" y="177.05" width="46.28" height="1.59" fill="#fff" fill-opacity="0.21"/>
<rect x="190.35" y="46.28" width="31.57" height="1.76" fill="#fff" fill-opacity="0.28"/>
<rect x="148.25" y="5.66" width="48.53" height="2.31" fill="#fff" fill-opacity="0.24"/>
<rect x="62.96" y="44.67" width="47.95" height="1.99" fill="#fff" fill-opacity="0.25"/>
<rect x="22.36" y="111.75" width="56.33" height="1.71" fill="#fff" fill-opacity="0.28"/>
<rect x="31.55" y="167.63" width="47.51" height="1.53" fill="#fff" fill-opacity="0.35"/>
<rect x="47.95" y="20.1" width="43.6" height="1.72" fill="#fff" fill-opacity="0.24"/>
<rect x="35.73" y="123.25" width="34.68" height="1" fill="#fff" fill-opacity="0.35"/>
<rect x="164.45" y="54.09" width="39.85" height="1.9" fill="#fff" fill-opacity="0.31"/>
<rect x="153.22" y="26.72" width="28.14" height="2.29" fill="#fff" fill-opacity="0.35"/>
<rect x="161.19" y="144.45" width="34.65" height="2.01" fill="#fff" fill-opacity="0.39"/>
<rect x="11.15" y="40.28" width="33.54" height="1.76" fill="#fff" fill-opacity="0.19"/>
<rect x="171.98" y="47.11" width="32.46" height="1.22" fill="#fff" fill-opacity="0.2"/>
<rect x="29.89" y="123" width="36.38" height="1.81" fill="#fff" fill-opacity="0.26"/>
<rect x="165.73" y="107.29" width="15.75" height="2.39" fill="#fff" fill-opacity="0.2"/>
<rect x="151.18" y="8.16" width="40.65" height="1.81" fill="#fff" fill-opacity="0.2"/>
<rect x="54.34" y="166.37" width="47.71" height="1.34" fill="#fff" fill-opacity="0.29"/>
<rect x="68.05" y="138.07" width="36.6" height="1.1" fill="#fff" fill-opacity="0.31"/>
<rect x="22.21" y="147.24" width="39.78" height="2.1" fill="#fff" fill-opacity="0.18"/>
<rect x="172.79" y="178.69" width="17.27" height="1.37" fill="#fff" fill-opacity="0.17"/>
<rect x="8.12" y="53.82" width="37.02" height="1.38" fill="#fff" fill-opacity="0.23"/>
<rect x="68.02" y="98.3" width="50.48" height="2.08" fill="#fff" fill-opacity="0.18"/>
<rect x="-8.26" y="47.6" width="29.82" height="1.16" fill="#fff" fill-opacity="0.32"/>
<rect x="199.12" y="166.21" width="24.41" height="1.06" fill="#fff" fill-opacity="0.34"/>
<rect x="185.53" y="87.7" width="32.66" height="1.47" fill="#fff" fill-opacity="0.17"/>
<rect x="97.55" y="201.9" width="34.83" height="1.66" fill="#fff" fill-opacity="0.34"/>
<rect x="89.96" y="176.97" width="23.02" height="1.61" fill="#fff" fill-opacity="0.37"/>
<rect x="128.79" y="86.84" width="40.19" height="1.69" fill="#fff" fill-opacity="0.29"/>
<rect x="107.06" y="52.21" width="53.91" height="1.12" fill="#fff" fill-opacity="0.24"/>
<rect x="195.43" y="187.57" width="15.6" height="1.94" fill="#fff" fill-opacity="0.31"/>
<rect x="88.7" y="179.58" width="20.89" height="1.45" fill="#fff" fill-opacity="0.33"/>
<rect x="32.96" y="155.13" width="43.92" height="1.99" fill="#fff" fill-opacity="0.31"/>
<rect x="82.74" y="4.66" width="29.62" height="1.9" fill="#fff" fill-opacity="0.23"/>
<rect x="130.77" y="27.3" width="27.91" height="2.19" fill="#fff" fill-opacity="0.23"/>
<rect x="159.71" y="116.26" width="20.2" height="2.1" fill="#fff" fill-opacity="0.17"/>
<rect x="-4.72" y="199.43" width="47.58" height="1.55" fill="#fff" fill-opacity="0.19"/>
<rect x="95.28" y="84.13" width="33.67" height="1.18" fill="#fff" fill-opacity="0.28"/>
<rect x="193.12" y="63.92" width="32.24" height="1.65" fill="#fff" fill-opacity="0.21"/>
<rect x="57.57" y="206.35" width="44.08" height="2.25" fill="#fff" fill-opacity="0.25"/>
<rect x="48.54" y="160.88" width="19.93" height="1.06" fill="#fff" fill-opacity="0.26"/>
<rect x="32.64" y="186.15" width="34.82" height="2.14" fill="#fff" fill-opacity="0.22"/>
<rect x="99.04" y="32.51" width="34.14" height="2.41" fill="#fff" fill-opacity="0.37"/>
<rect x="107.78" y="50.71" width="33.73" height="1.05" fill="#fff" fill-opacity="0.26"/>
<rect x="53.58" y="195.03" width="41.38" height="2.07" fill="#fff" fill-opacity="0.17"/>
<rect x="12.93" y="196.84" width="28.57" height="2.07" fill="#fff" fill-opacity="0.15"/>
<rect x="16.6" y="79.97" width="36.3" height="1.02" fill="#fff" fill-opacity="0.19"/>
<rect x="7.11" y="47.38" width="19.07" height="1.29" fill="#fff" fill-opacity="0.28"/>
<rect x="162.44" y="29.17" width="33.76" height="1.38" fill="#fff" fill-opacity="0.21"/>
<rect x="-0.15" y="178.83" width="48.4" height="1.15" fill="#fff" fill-opacity="0.39"/>
<rect x="115.5" y="86.95" width="53.85" height="1.15" fill="#fff" fill-opacity="0.17"/>
<rect x="113.4" y="147.73" width="47.45" height="1.42" fill="#fff" fill-opacity="0.27"/>
<rect x="81.79" y="39.76" width="27.67" height="1.88" fill="#fff" fill-opacity="0.22"/>
<rect x="124.92" y="58.54" width="18.85" height="2.2" fill="#fff" fill-opacity="0.27"/>
<rect x="14.14" y="48.75" width="37.9" height="1.76" fill="#fff" fill-opacity="0.33"/>
<rect x="76.57" y="79.63" width="55.17" height="1.41" fill="#fff" fill-opacity="0.4"/>
<rect x="197.95" y="190.11" width="57.45" height="1.39" fill="#fff" fill-opacity="0.35"/>
<rect x="32.84" y="130.34" width="59.89" height="1.97" fill="#fff" fill-opacity="0.35"/>
<rect x="6.7" y="118.86" width="53.85" height="1.26" fill="#fff" fill-opacity="0.21"/>
<rect x="30.74" y="131.25" width="35.81" height="2.07" fill="#fff" fill-opacity="0.17"/>
<rect x="11.94" y="140.72" width="36.4" height="1.97" fill="#fff" fill-opacity="0.32"/>
<rect x="30.13" y="9.19" width="58.21" height="1.59" fill="#fff" fill-opacity="0.26"/>
<rect x="136.2" y="79.79" width="48.32" height="1.98" fill="#fff" fill-opacity="0.25"/>
<rect x="98.24" y="121.31" width="23.46" height="2.42" fill="#fff" fill-opacity="0.39"/>
<rect x="198.44" y="165.59" width="35.95" height="2.26" fill="#fff" fill-opacity="0.21"/>
<rect x="140.14" y="158.2" width="57.24" height="2.25" fill="#fff" fill-opacity="0.37"/>
<rect x="155.36" y="57.01" width="36.39" height="1.47" fill="#fff" fill-opacity="0.24"/>
<rect x="166.98" y="170.16" width="53.01" height="2" fill="#fff" fill-opacity="0.19"/>
<rect x="109.28" y="33.16" width="24.54" height="1.5" fill="#fff" fill-opacity="0.18"/>
<rect x="140.58" y="32.97" width="25.06" height="2.27" fill="#fff" fill-opacity="0.23"/>
<rect x="53.55" y="180.8" width="27.04" height="1.59" fill="#fff" fill-opacity="0.15"/>
<rect x="69.78" y="92.77" width="15.57" height="2.29" fill="#fff" fill-opacity="0.24"/>
<rect x="191.68" y="0.09" width="25.28" height="1.38" fill="#fff" fill-opacity="0.16"/>
<rect x="139.05" y="21.2" width="41.19" height="1.76" fill="#fff" fill-opacity="0.21"/>
<rect x="193.72" y="61.07" width="31.75" height="2.48" fill="#fff" fill-opacity="0.37"/>
<rect x="168.11" y="26.54" width="15.95" height="2.07" fill="#fff" fill-opacity="0.35"/>
<rect x="105.46" y="148.14" width="51.58" height="1.23" fill="#fff" fill-opacity="0.28"/>
<rect x="73.82" y="56.63" width="23.61" height="2.06" fill="#fff" fill-opacity="0.29"/>
<rect x="121.93" y="165.98" width="41.96" height="2.38" fill="#fff" fill-opacity="0.35"/>
<rect x="58.49" y="120.72" width="56.75" height="1.56" fill="#fff" fill-opacity="0.18"/>
<rect x="138.34" y="70.99" width="56.91" height="1.97" fill="#fff" fill-opacity="0.32"/>
<rect x="153.35" y="199.65" width="35.05" height="1.69" fill="#fff" fill-opacity="0.34"/>
<rect x="13.06" y="67.67" width="42.88" height="2.21" fill="#fff" fill-opacity="0.21"/>
<rect x="177.44" y="145.63" width="20.74" height="1.2" fill="#fff" fill-opacity="0.27"/>
<rect x="189.38" y="71.21" width="59.85" height="1.67" fill="#fff" fill-opacity="0.35"/>
<rect x="26.42" y="134.56" width="58.73" height="1.26" fill="#fff" fill-opacity="0.17"/>
<rect x="-6.26" y="96.39" width="36.63" height="1.62" fill="#fff" fill-opacity="0.39"/>
<rect x="168.45" y="88.11" width="50.09" height="1.88" fill="#fff" fill-opacity="0.21"/>
<rect x="93.21" y="64.93" width="32.78" height="1.97" fill="#fff" fill-opacity="0.28"/>
<rect x="117.43" y="68.8" width="59.84" height="1.3" fill="#fff" fill-opacity="0.23"/>
<rect x="9.69" y="2.56" width="17.5" height="1.63" fill="#fff" fill-opacity="0.36"/>
<rect x="192.88" y="148.61" width="52.66" height="1.88" fill="#fff" fill-opacity="0.3"/>
<rect x="70.54" y="2.67" width="26.77" height="1.93" fill="#fff" fill-opacity="0.17"/>
<rect x="68.87" y="115.51" width="37.14" height="1.61" fill="#fff" fill-opacity="0.18"/>
<rect x="158.07" y="155.81" width="41.92" height="1.17" fill="#fff" fill-opacity="0.3"/>
</g>
</g></g>
</g>
<g transform="matrix(1 0.58 1 -0.58 753 136.2)">
<clipPath id="ct"><rect x="0" y="0" width="213.2" height="213.2"/></clipPath>
<g clip-path="url(#ct)"><g filter="url(#cmap)">
<rect x="-2" y="-2" width="217.2" height="217.2" fill="#fff"/>
<linearGradient id="g55" gradientUnits="userSpaceOnUse" x1="0" y1="0" x2="0" y2="213"><stop offset="0" stop-color="#000" stop-opacity="0.1"/><stop offset="0.3" stop-color="#000" stop-opacity="0.08"/><stop offset="0.7" stop-color="#000" stop-opacity="0.05"/><stop offset="1" stop-color="#000" stop-opacity="0.04"/></linearGradient>
<rect x="0" y="0" width="213.2" height="213.2" fill="url(#g55)"/>
<g filter="url(#bl2_5)">
<rect x="29.62" y="0" width="21.36" height="18.25" fill="#000" fill-opacity="0.1"/>
<rect x="49.73" y="0" width="17.05" height="18.25" fill="#000" fill-opacity="0.11"/>
<rect x="63.48" y="0" width="19.07" height="18.25" fill="#000" fill-opacity="0.16"/>
<rect x="86.34" y="0" width="16.56" height="18.25" fill="#000" fill-opacity="0.18"/>
<rect x="98.73" y="0" width="20.86" height="18.25" fill="#000" fill-opacity="0.18"/>
<rect x="116.34" y="0" width="23.89" height="18.25" fill="#000" fill-opacity="0.14"/>
<rect x="141.23" y="0" width="21.69" height="18.25" fill="#000" fill-opacity="0.01"/>
<rect x="26.12" y="17.75" width="21.17" height="18.25" fill="#000" fill-opacity="0.01"/>
<rect x="47.52" y="17.75" width="15.45" height="18.25" fill="#000" fill-opacity="0.05"/>
<rect x="65.71" y="17.75" width="18.64" height="18.25" fill="#000" fill-opacity="0.18"/>
<rect x="84.15" y="17.75" width="19.84" height="18.25" fill="#000" fill-opacity="0.19"/>
<rect x="103.3" y="17.75" width="18.74" height="18.25" fill="#000" fill-opacity="0.13"/>
<rect x="123.98" y="17.75" width="23.97" height="18.25" fill="#000" fill-opacity="0.12"/>
<rect x="141.66" y="17.75" width="19.89" height="18.25" fill="#000" fill-opacity="0.01"/>
<rect x="28.31" y="35.5" width="18.42" height="18.25" fill="#000" fill-opacity="0.08"/>
<rect x="49.2" y="35.5" width="19.08" height="18.25" fill="#000" fill-opacity="0.08"/>
<rect x="69.66" y="35.5" width="21.08" height="18.25" fill="#000" fill-opacity="0.09"/>
<rect x="81.68" y="35.5" width="21.46" height="18.25" fill="#000" fill-opacity="0.18"/>
<rect x="105.84" y="35.5" width="18.38" height="18.25" fill="#000" fill-opacity="0.1"/>
<rect x="121.04" y="35.5" width="22.67" height="18.25" fill="#000" fill-opacity="0.06"/>
<rect x="136.7" y="35.5" width="20" height="18.25" fill="#000" fill-opacity="0.08"/>
<rect x="32.06" y="53.25" width="18.71" height="18.25" fill="#000" fill-opacity="0.03"/>
<rect x="46.81" y="53.25" width="14.36" height="18.25" fill="#000" fill-opacity="0.12"/>
<rect x="63.42" y="53.25" width="19.36" height="18.25" fill="#000" fill-opacity="0.13"/>
<rect x="81.53" y="53.25" width="20.39" height="18.25" fill="#000" fill-opacity="0.14"/>
<rect x="103.15" y="53.25" width="16.7" height="18.25" fill="#000" fill-opacity="0.13"/>
<rect x="117.7" y="53.25" width="19.62" height="18.25" fill="#000" fill-opacity="0.13"/>
<rect x="142.43" y="53.25" width="19.82" height="18.25" fill="#000" fill-opacity="0.07"/>
<rect x="27.69" y="71" width="20.37" height="18.25" fill="#000" fill-opacity="0.09"/>
<rect x="51.13" y="71" width="14.6" height="18.25" fill="#000" fill-opacity="0.13"/>
<rect x="63.71" y="71" width="17.55" height="18.25" fill="#000" fill-opacity="0.15"/>
<rect x="82.63" y="71" width="17.78" height="18.25" fill="#000" fill-opacity="0.13"/>
<rect x="98.72" y="71" width="19.5" height="18.25" fill="#000" fill-opacity="0.11"/>
<rect x="120.81" y="71" width="20.23" height="18.25" fill="#000" fill-opacity="0.07"/>
<rect x="143.67" y="71" width="20.9" height="18.25" fill="#000" fill-opacity="0.04"/>
<rect x="32.93" y="88.75" width="19.1" height="18.25" fill="#000" fill-opacity="0.01"/>
<rect x="53.27" y="88.75" width="18.91" height="18.25" fill="#000" fill-opacity="0.05"/>
<rect x="63.52" y="88.75" width="20.44" height="18.25" fill="#000" fill-opacity="0.16"/>
<rect x="81.57" y="88.75" width="21.7" height="18.25" fill="#000" fill-opacity="0.2"/>
<rect x="102.83" y="88.75" width="18.53" height="18.25" fill="#000" fill-opacity="0.09"/>
<rect x="116.31" y="88.75" width="23.78" height="18.25" fill="#000" fill-opacity="0.05"/>
<rect x="141.64" y="88.75" width="19.54" height="18.25" fill="#000" fill-opacity="0.06"/>
<rect x="30.77" y="106.5" width="19.76" height="18.25" fill="#000" fill-opacity="0.01"/>
<rect x="51.76" y="106.5" width="14.41" height="18.25" fill="#000" fill-opacity="0.05"/>
<rect x="66.47" y="106.5" width="21.11" height="18.25" fill="#000" fill-opacity="0.13"/>
<rect x="82.24" y="106.5" width="21.5" height="18.25" fill="#000" fill-opacity="0.12"/>
<rect x="98.13" y="106.5" width="17.62" height="18.25" fill="#000" fill-opacity="0.12"/>
<rect x="116.48" y="106.5" width="19.06" height="18.25" fill="#000" fill-opacity="0.06"/>
<rect x="140.58" y="106.5" width="18.79" height="18.25" fill="#000" fill-opacity="0.02"/>
<rect x="33.13" y="124.25" width="23.88" height="18.25" fill="#000" fill-opacity="0.06"/>
<rect x="51.53" y="124.25" width="17.51" height="18.25" fill="#000" fill-opacity="0.04"/>
<rect x="62.28" y="124.25" width="16.11" height="18.25" fill="#000" fill-opacity="0.15"/>
<rect x="85.61" y="124.25" width="21.78" height="18.25" fill="#000" fill-opacity="0.1"/>
<rect x="103.09" y="124.25" width="18.89" height="18.25" fill="#000" fill-opacity="0.14"/>
<rect x="118.55" y="124.25" width="24" height="18.25" fill="#000" fill-opacity="0.02"/>
<rect x="140.37" y="124.25" width="22.42" height="18.25" fill="#000" fill-opacity="0.07"/>
<rect x="31.9" y="142" width="22.22" height="18.25" fill="#000" fill-opacity="0.07"/>
<rect x="53.32" y="142" width="16.11" height="18.25" fill="#000" fill-opacity="0.09"/>
<rect x="69.21" y="142" width="21.23" height="18.25" fill="#000" fill-opacity="0.09"/>
<rect x="86.32" y="142" width="21.18" height="18.25" fill="#000" fill-opacity="0.14"/>
<rect x="103" y="142" width="18.29" height="18.25" fill="#000" fill-opacity="0.12"/>
<rect x="120.87" y="142" width="18.48" height="18.25" fill="#000" fill-opacity="0.08"/>
<rect x="143.95" y="142" width="23.28" height="18.25" fill="#000" fill-opacity="0.05"/>
<rect x="29.11" y="159.75" width="22.41" height="18.25" fill="#000" fill-opacity="0.05"/>
<rect x="49.52" y="159.75" width="19.03" height="18.25" fill="#000" fill-opacity="0.02"/>
<rect x="68" y="159.75" width="16.18" height="18.25" fill="#000" fill-opacity="0.11"/>
<rect x="83.85" y="159.75" width="17.38" height="18.25" fill="#000" fill-opacity="0.15"/>
<rect x="101.98" y="159.75" width="19.69" height="18.25" fill="#000" fill-opacity="0.14"/>
<rect x="118.05" y="159.75" width="18.07" height="18.25" fill="#000" fill-opacity="0.04"/>
<rect x="141.43" y="159.75" width="19.22" height="18.25" fill="#000" fill-opacity="0"/>
<rect x="33.25" y="177.5" width="21.96" height="18.25" fill="#000" fill-opacity="0.03"/>
<rect x="53.13" y="177.5" width="15.96" height="18.25" fill="#000" fill-opacity="0.08"/>
<rect x="63.59" y="177.5" width="18.59" height="18.25" fill="#000" fill-opacity="0.12"/>
<rect x="87.31" y="177.5" width="21.28" height="18.25" fill="#000" fill-opacity="0.11"/>
<rect x="102.66" y="177.5" width="17.9" height="18.25" fill="#000" fill-opacity="0.06"/>
<rect x="119.97" y="177.5" width="23.02" height="18.25" fill="#000" fill-opacity="0.09"/>
<rect x="141.69" y="177.5" width="23.7" height="18.25" fill="#000" fill-opacity="0"/>
<rect x="27.35" y="195.25" width="20.7" height="18.25" fill="#000" fill-opacity="0.01"/>
<rect x="47.71" y="195.25" width="16.48" height="18.25" fill="#000" fill-opacity="0.07"/>
<rect x="65.95" y="195.25" width="17.89" height="18.25" fill="#000" fill-opacity="0.12"/>
<rect x="87.86" y="195.25" width="18.71" height="18.25" fill="#000" fill-opacity="0.07"/>
<rect x="98.25" y="195.25" width="21.24" height="18.25" fill="#000" fill-opacity="0.04"/>
<rect x="121.67" y="195.25" width="21.42" height="18.25" fill="#000" fill-opacity="0.03"/>
<rect x="142.33" y="195.25" width="18.11" height="18.25" fill="#000" fill-opacity="0"/>
<rect x="30" y="0" width="30" height="35.5" fill="#000" fill-opacity="0.1"/>
<rect x="60" y="0" width="35" height="35.5" fill="#000" fill-opacity="0.28"/>
<rect x="95" y="0" width="30" height="35.5" fill="#000" fill-opacity="0.33"/>
<rect x="125" y="0" width="20" height="17.75" fill="#000" fill-opacity="0.26"/>
<rect x="45" y="35.5" width="65" height="17.75" fill="#000" fill-opacity="0.1"/>
</g>
<rect x="148" y="2" width="17" height="15" fill="#000" fill-opacity="0.8" filter="url(#bl2)"/>
<rect x="162" y="0" width="51" height="18" fill="#000" fill-opacity="0.12" filter="url(#bl3)"/>
<rect x="180" y="124" width="33" height="26" fill="#000" fill-opacity="0.24" filter="url(#bl3)"/>
<g filter="url(#bl0_8)">
<rect x="-14.56" y="96.88" width="43.19" height="1.52" fill="#fff" fill-opacity="0.16"/>
<rect x="78.23" y="134.02" width="35.2" height="3.52" fill="#000" fill-opacity="0.07"/>
<rect x="23.86" y="145.8" width="29.01" height="1.22" fill="#fff" fill-opacity="0.29"/>
<rect x="19.4" y="152.12" width="20.89" height="2.8" fill="#fff" fill-opacity="0.31"/>
<rect x="146.37" y="130.88" width="25.74" height="3.77" fill="#000" fill-opacity="0.03"/>
<rect x="138.92" y="198.64" width="15.2" height="2.64" fill="#fff" fill-opacity="0.42"/>
<rect x="105.14" y="80.26" width="45.17" height="3.86" fill="#000" fill-opacity="0.05"/>
<rect x="25.08" y="138.73" width="38.88" height="3.1" fill="#000" fill-opacity="0.06"/>
<rect x="178" y="45.43" width="49.22" height="2.84" fill="#000" fill-opacity="0.06"/>
<rect x="180.2" y="68.24" width="44.23" height="1.39" fill="#fff" fill-opacity="0.28"/>
<rect x="149.01" y="117.21" width="29.5" height="3.06" fill="#fff" fill-opacity="0.17"/>
<rect x="18.04" y="170.37" width="23.4" height="1.85" fill="#000" fill-opacity="0.04"/>
<rect x="139.18" y="110.02" width="43.6" height="3.86" fill="#000" fill-opacity="0.05"/>
<rect x="-1.07" y="202.17" width="18.86" height="1.87" fill="#fff" fill-opacity="0.37"/>
<rect x="95.01" y="136.08" width="43.74" height="1.92" fill="#fff" fill-opacity="0.26"/>
<rect x="178.12" y="180.04" width="18.33" height="3.92" fill="#000" fill-opacity="0.05"/>
<rect x="24.21" y="122.05" width="31.44" height="2.59" fill="#fff" fill-opacity="0.16"/>
<rect x="93.52" y="206.48" width="26.02" height="2.91" fill="#000" fill-opacity="0.05"/>
<rect x="-5.5" y="147.18" width="31.55" height="3.4" fill="#fff" fill-opacity="0.43"/>
<rect x="84.1" y="57.34" width="15.08" height="3.08" fill="#fff" fill-opacity="0.42"/>
<rect x="49.79" y="101.5" width="17.66" height="3.33" fill="#fff" fill-opacity="0.19"/>
<rect x="-14.99" y="165.99" width="17.76" height="2.78" fill="#fff" fill-opacity="0.25"/>
<rect x="116.35" y="75.69" width="14.2" height="1.81" fill="#000" fill-opacity="0.05"/>
<rect x="23.5" y="53.37" width="31.21" height="2.06" fill="#fff" fill-opacity="0.27"/>
<rect x="15.14" y="112.75" width="18.17" height="2.67" fill="#fff" fill-opacity="0.31"/>
<rect x="114.58" y="181.32" width="44.27" height="2.9" fill="#fff" fill-opacity="0.39"/>
<rect x="49.49" y="192.27" width="22.6" height="2.05" fill="#000" fill-opacity="0.07"/>
<rect x="9.47" y="189.05" width="19.57" height="2.15" fill="#000" fill-opacity="0.03"/>
<rect x="72.76" y="177.25" width="41.6" height="2.13" fill="#fff" fill-opacity="0.36"/>
<rect x="24.21" y="3.78" width="37.3" height="3.92" fill="#000" fill-opacity="0.03"/>
<rect x="146.79" y="107.71" width="30.11" height="1.97" fill="#000" fill-opacity="0.03"/>
<rect x="-11.76" y="22.61" width="32.07" height="2.51" fill="#fff" fill-opacity="0.19"/>
<rect x="24.86" y="39.31" width="43.61" height="3.82" fill="#000" fill-opacity="0.03"/>
<rect x="189.33" y="13.19" width="28.48" height="2.32" fill="#000" fill-opacity="0.05"/>
<rect x="74.62" y="109.76" width="34.04" height="2.81" fill="#fff" fill-opacity="0.4"/>
<rect x="79.87" y="38.61" width="39.57" height="1.65" fill="#fff" fill-opacity="0.2"/>
<rect x="-16.61" y="109.18" width="45.73" height="3.26" fill="#000" fill-opacity="0.06"/>
<rect x="68.99" y="134.06" width="33.98" height="3.46" fill="#fff" fill-opacity="0.39"/>
<rect x="180.49" y="55.01" width="39.78" height="3.54" fill="#000" fill-opacity="0.05"/>
<rect x="173.57" y="190.96" width="37.79" height="3.41" fill="#000" fill-opacity="0.05"/>
<rect x="-4.48" y="153.92" width="23.67" height="1.22" fill="#fff" fill-opacity="0.26"/>
<rect x="117.28" y="136.05" width="19.28" height="3.17" fill="#000" fill-opacity="0.04"/>
<rect x="105.31" y="140.53" width="31.32" height="3.5" fill="#fff" fill-opacity="0.34"/>
<rect x="147.58" y="149.37" width="49.2" height="2.62" fill="#fff" fill-opacity="0.37"/>
<rect x="68.34" y="54.66" width="12.02" height="2.06" fill="#fff" fill-opacity="0.18"/>
<rect x="179.24" y="53.44" width="32" height="3.42" fill="#fff" fill-opacity="0.32"/>
<rect x="120.36" y="211.96" width="42.38" height="2.57" fill="#fff" fill-opacity="0.38"/>
<rect x="184.63" y="9.61" width="16.4" height="1.59" fill="#fff" fill-opacity="0.3"/>
<rect x="-7.12" y="130.18" width="47.81" height="2.41" fill="#fff" fill-opacity="0.33"/>
<rect x="42.87" y="77.87" width="36.2" height="1.85" fill="#fff" fill-opacity="0.36"/>
<rect x="-16.92" y="63.06" width="19.8" height="1.56" fill="#fff" fill-opacity="0.38"/>
<rect x="177.46" y="83.06" width="39.93" height="3.47" fill="#fff" fill-opacity="0.43"/>
<rect x="179.22" y="15.66" width="27.18" height="3.44" fill="#fff" fill-opacity="0.22"/>
<rect x="186.2" y="111.48" width="38.91" height="3.45" fill="#fff" fill-opacity="0.4"/>
<rect x="5.32" y="128.57" width="34.97" height="1.67" fill="#fff" fill-opacity="0.17"/>
<rect x="7.35" y="112.49" width="27.71" height="2.64" fill="#000" fill-opacity="0.04"/>
<rect x="72.3" y="124.02" width="41.12" height="3.49" fill="#fff" fill-opacity="0.44"/>
<rect x="32.45" y="156.4" width="14.55" height="3.46" fill="#000" fill-opacity="0.05"/>
<rect x="39.73" y="76.51" width="37.4" height="2.56" fill="#fff" fill-opacity="0.34"/>
<rect x="21.76" y="160.46" width="19.96" height="3.79" fill="#000" fill-opacity="0.07"/>
<rect x="-6.63" y="8.42" width="20.84" height="2.63" fill="#fff" fill-opacity="0.18"/>
<rect x="-4.05" y="115.37" width="13.46" height="2.88" fill="#000" fill-opacity="0.06"/>
<rect x="85.28" y="79.49" width="18.43" height="2.91" fill="#fff" fill-opacity="0.4"/>
<rect x="6.35" y="15.84" width="42.37" height="2.97" fill="#fff" fill-opacity="0.21"/>
<rect x="36.78" y="90.39" width="42.4" height="2.7" fill="#fff" fill-opacity="0.45"/>
<rect x="100.69" y="69.31" width="39.84" height="2.57" fill="#000" fill-opacity="0.04"/>
<rect x="172.54" y="20.66" width="13.14" height="2.5" fill="#fff" fill-opacity="0.3"/>
<rect x="45.75" y="145.97" width="41.02" height="1.69" fill="#fff" fill-opacity="0.35"/>
<rect x="46.84" y="17.4" width="39" height="2.21" fill="#000" fill-opacity="0.04"/>
<rect x="139.71" y="76.21" width="24.66" height="2.83" fill="#fff" fill-opacity="0.32"/>
<rect x="186.79" y="195.65" width="46.54" height="3.05" fill="#fff" fill-opacity="0.24"/>
<rect x="67.91" y="67.65" width="47.39" height="2.12" fill="#000" fill-opacity="0.04"/>
<rect x="59.93" y="77.87" width="25.82" height="1.65" fill="#fff" fill-opacity="0.32"/>
<rect x="98.92" y="169.78" width="43.46" height="1.61" fill="#fff" fill-opacity="0.38"/>
<rect x="41.92" y="187.63" width="10.89" height="2.45" fill="#fff" fill-opacity="0.32"/>
<rect x="123.26" y="205.85" width="42.17" height="2.46" fill="#fff" fill-opacity="0.39"/>
<rect x="-2.03" y="17.9" width="39.48" height="1.71" fill="#000" fill-opacity="0.06"/>
<rect x="144.07" y="30.65" width="35.96" height="1.71" fill="#fff" fill-opacity="0.38"/>
<rect x="148.24" y="111.09" width="25.78" height="3.43" fill="#fff" fill-opacity="0.35"/>
<rect x="98.21" y="105.15" width="38.84" height="3.79" fill="#000" fill-opacity="0.05"/>
<rect x="126.68" y="175.99" width="44.14" height="3.58" fill="#000" fill-opacity="0.07"/>
<rect x="120.86" y="204.01" width="30.95" height="3.51" fill="#000" fill-opacity="0.05"/>
<rect x="12.16" y="89.56" width="39.65" height="2.44" fill="#000" fill-opacity="0.04"/>
<rect x="73.49" y="43.53" width="21.68" height="1.65" fill="#000" fill-opacity="0.04"/>
<rect x="122.56" y="24.46" width="41.04" height="1.34" fill="#fff" fill-opacity="0.29"/>
<rect x="180.04" y="124.41" width="11.45" height="1.62" fill="#fff" fill-opacity="0.22"/>
<rect x="137.79" y="50.14" width="33.79" height="1.63" fill="#fff" fill-opacity="0.23"/>
<rect x="146.65" y="36.75" width="22.47" height="3.08" fill="#fff" fill-opacity="0.29"/>
<rect x="175.23" y="55.48" width="46.57" height="2.46" fill="#fff" fill-opacity="0.44"/>
<rect x="28.62" y="102.8" width="11.99" height="3.5" fill="#000" fill-opacity="0.05"/>
<rect x="93.48" y="112.38" width="20.98" height="3.14" fill="#000" fill-opacity="0.04"/>
<rect x="83.98" y="2.32" width="24.86" height="3.28" fill="#000" fill-opacity="0.05"/>
<rect x="14.52" y="33.5" width="22.87" height="3.2" fill="#fff" fill-opacity="0.3"/>
<rect x="198.49" y="135.67" width="20.66" height="1.55" fill="#fff" fill-opacity="0.38"/>
<rect x="160.71" y="0.29" width="43.85" height="1.71" fill="#000" fill-opacity="0.04"/>
<rect x="1.38" y="152.62" width="29.2" height="3.4" fill="#fff" fill-opacity="0.33"/>
<rect x="46.79" y="182.61" width="41.57" height="3.31" fill="#fff" fill-opacity="0.18"/>
<rect x="25.85" y="176.01" width="31.73" height="1.56" fill="#fff" fill-opacity="0.4"/>
<rect x="48.36" y="66.33" width="13.04" height="2.27" fill="#fff" fill-opacity="0.36"/>
<rect x="131.16" y="76.62" width="14.23" height="2.26" fill="#fff" fill-opacity="0.44"/>
<rect x="123.87" y="176.73" width="10.49" height="2.83" fill="#fff" fill-opacity="0.22"/>
<rect x="80.78" y="120.16" width="10.42" height="3.5" fill="#000" fill-opacity="0.04"/>
<rect x="43.89" y="131.22" width="25.04" height="1.89" fill="#fff" fill-opacity="0.25"/>
<rect x="126.67" y="83.54" width="20.26" height="2.88" fill="#fff" fill-opacity="0.25"/>
<rect x="103.82" y="201.29" width="38.95" height="3.1" fill="#fff" fill-opacity="0.18"/>
<rect x="0.77" y="30" width="37.11" height="1.95" fill="#000" fill-opacity="0.05"/>
<rect x="110.4" y="178.26" width="13.6" height="1.56" fill="#fff" fill-opacity="0.19"/>
<rect x="-4.01" y="86.66" width="46.82" height="2.38" fill="#fff" fill-opacity="0.34"/>
<rect x="160.64" y="163.34" width="25.44" height="2.15" fill="#fff" fill-opacity="0.15"/>
<rect x="133.97" y="85.35" width="49.28" height="3.15" fill="#000" fill-opacity="0.05"/>
<rect x="52.82" y="3.95" width="23.69" height="1.77" fill="#000" fill-opacity="0.05"/>
<rect x="153.48" y="108.49" width="43.01" height="1.56" fill="#fff" fill-opacity="0.38"/>
<rect x="100.62" y="192.34" width="24.1" height="1.53" fill="#fff" fill-opacity="0.36"/>
<rect x="93.53" y="210.18" width="38.62" height="1.99" fill="#000" fill-opacity="0.07"/>
<rect x="23.54" y="133.58" width="13.33" height="2.53" fill="#fff" fill-opacity="0.36"/>
<rect x="184.39" y="70.12" width="24.45" height="1.49" fill="#fff" fill-opacity="0.44"/>
<rect x="178.89" y="28.88" width="31.74" height="2.49" fill="#fff" fill-opacity="0.23"/>
<rect x="198.27" y="193.69" width="42.7" height="1.48" fill="#fff" fill-opacity="0.4"/>
<rect x="177.34" y="61.47" width="19.63" height="3.11" fill="#fff" fill-opacity="0.21"/>
<rect x="-3.22" y="116.69" width="11.28" height="3.47" fill="#fff" fill-opacity="0.43"/>
<rect x="47.68" y="140.23" width="36.85" height="2.45" fill="#000" fill-opacity="0.05"/>
<rect x="-16.4" y="171.21" width="17.98" height="1.53" fill="#fff" fill-opacity="0.27"/>
<rect x="18.21" y="121.31" width="30.79" height="2.51" fill="#fff" fill-opacity="0.25"/>
<rect x="-11.67" y="136.68" width="36.84" height="3.41" fill="#fff" fill-opacity="0.33"/>
<rect x="70.51" y="100.09" width="34.95" height="3.4" fill="#000" fill-opacity="0.06"/>
<rect x="198.82" y="103.47" width="43.53" height="2.52" fill="#000" fill-opacity="0.05"/>
<rect x="179.15" y="120.55" width="31.04" height="2.19" fill="#fff" fill-opacity="0.42"/>
<rect x="-7.97" y="68.31" width="39.02" height="3.33" fill="#000" fill-opacity="0.05"/>
<rect x="47.05" y="160.15" width="33.74" height="1.49" fill="#fff" fill-opacity="0.28"/>
<rect x="67.28" y="107.06" width="12.08" height="2.82" fill="#000" fill-opacity="0.04"/>
<rect x="67.02" y="65.24" width="19.43" height="3.3" fill="#fff" fill-opacity="0.44"/>
<rect x="170.63" y="141.79" width="26.86" height="2.05" fill="#000" fill-opacity="0.06"/>
<rect x="178.75" y="120.73" width="13.94" height="1.81" fill="#000" fill-opacity="0.05"/>
<rect x="-19.87" y="202.56" width="19.76" height="1.95" fill="#fff" fill-opacity="0.17"/>
<rect x="159.4" y="190.66" width="25.89" height="2.55" fill="#fff" fill-opacity="0.16"/>
<rect x="177.67" y="6.63" width="22.31" height="3.35" fill="#fff" fill-opacity="0.44"/>
<rect x="25.43" y="100.67" width="21.81" height="3.74" fill="#000" fill-opacity="0.04"/>
<rect x="57.91" y="178.48" width="28.9" height="3.22" fill="#fff" fill-opacity="0.45"/>
<rect x="119.13" y="43.03" width="17.66" height="1.63" fill="#000" fill-opacity="0.03"/>
<rect x="48.86" y="154.59" width="46.01" height="3.28" fill="#000" fill-opacity="0.04"/>
<rect x="186.32" y="148.24" width="27.81" height="1.71" fill="#fff" fill-opacity="0.24"/>
<rect x="23.22" y="151.34" width="17.24" height="2.73" fill="#fff" fill-opacity="0.39"/>
<rect x="125.64" y="79.35" width="45.38" height="1.73" fill="#fff" fill-opacity="0.24"/>
<rect x="126.75" y="197.4" width="21.07" height="1.41" fill="#fff" fill-opacity="0.44"/>
<rect x="96.23" y="93.79" width="31.23" height="2.58" fill="#fff" fill-opacity="0.24"/>
<rect x="156.71" y="53.44" width="13.49" height="2.94" fill="#fff" fill-opacity="0.22"/>
<rect x="100.58" y="59.45" width="17.45" height="3.97" fill="#000" fill-opacity="0.03"/>
<rect x="145.13" y="98.33" width="25.39" height="2.75" fill="#000" fill-opacity="0.04"/>
<rect x="121.89" y="118.43" width="24.38" height="3.46" fill="#000" fill-opacity="0.05"/>
<rect x="165.99" y="107.7" width="37.37" height="3.39" fill="#fff" fill-opacity="0.2"/>
<rect x="16.34" y="166.07" width="34.32" height="2.21" fill="#fff" fill-opacity="0.38"/>
<rect x="154.05" y="167.54" width="19.44" height="1.71" fill="#fff" fill-opacity="0.32"/>
<rect x="-12.23" y="106.28" width="33.87" height="2.93" fill="#000" fill-opacity="0.06"/>
<rect x="13.4" y="38.35" width="10.71" height="2.2" fill="#fff" fill-opacity="0.28"/>
<rect x="155.67" y="56.01" width="12.9" height="2.92" fill="#000" fill-opacity="0.05"/>
<rect x="32.35" y="168.61" width="15.85" height="1.3" fill="#fff" fill-opacity="0.24"/>
<rect x="95.6" y="132.32" width="20.59" height="1.4" fill="#fff" fill-opacity="0.4"/>
<rect x="36.06" y="36.55" width="16.39" height="3.58" fill="#000" fill-opacity="0.06"/>
<rect x="70.34" y="13.02" width="24.58" height="3.43" fill="#fff" fill-opacity="0.16"/>
<rect x="147.48" y="104.27" width="49.45" height="2.25" fill="#fff" fill-opacity="0.37"/>
<rect x="32.94" y="8.35" width="45.6" height="2.1" fill="#fff" fill-opacity="0.24"/>
<rect x="-3.17" y="90.41" width="11.37" height="3.41" fill="#000" fill-opacity="0.06"/>
<rect x="35.71" y="48.96" width="32.08" height="2.26" fill="#fff" fill-opacity="0.43"/>
<rect x="54.15" y="77.53" width="49.25" height="1.29" fill="#fff" fill-opacity="0.27"/>
<rect x="-7.13" y="138.41" width="23.73" height="3.66" fill="#000" fill-opacity="0.05"/>
<rect x="81.77" y="188.8" width="25.72" height="2.45" fill="#000" fill-opacity="0.06"/>
<rect x="56.43" y="45.88" width="17.34" height="1.58" fill="#fff" fill-opacity="0.21"/>
<rect x="82.9" y="45.68" width="22.34" height="3.48" fill="#fff" fill-opacity="0.35"/>
<rect x="25.01" y="183.76" width="25.32" height="2.79" fill="#fff" fill-opacity="0.26"/>
<rect x="-15.92" y="58.47" width="17.28" height="2.1" fill="#fff" fill-opacity="0.43"/>
<rect x="39.1" y="152.34" width="24.44" height="3.35" fill="#fff" fill-opacity="0.26"/>
<rect x="139.16" y="163.09" width="46.28" height="1.94" fill="#fff" fill-opacity="0.27"/>
<rect x="174.13" y="17.71" width="23.01" height="2.8" fill="#000" fill-opacity="0.03"/>
<rect x="32.43" y="83.92" width="11.63" height="2.57" fill="#fff" fill-opacity="0.16"/>
<rect x="73.29" y="66.52" width="31.76" height="2.83" fill="#fff" fill-opacity="0.23"/>
<rect x="126.56" y="154.53" width="15.89" height="1.84" fill="#fff" fill-opacity="0.36"/>
<rect x="65.03" y="86.33" width="44.64" height="1.87" fill="#fff" fill-opacity="0.25"/>
<rect x="-11.05" y="45.96" width="10.98" height="2.5" fill="#fff" fill-opacity="0.39"/>
<rect x="45.58" y="207.8" width="36.82" height="2.04" fill="#000" fill-opacity="0.06"/>
<rect x="190.13" y="141.98" width="44.73" height="2.65" fill="#fff" fill-opacity="0.18"/>
<rect x="66.34" y="91.1" width="12.4" height="1.95" fill="#fff" fill-opacity="0.3"/>
<rect x="14.89" y="59.6" width="26.1" height="1.58" fill="#fff" fill-opacity="0.35"/>
<rect x="0.47" y="51.08" width="23.67" height="1.55" fill="#fff" fill-opacity="0.32"/>
<rect x="101.7" y="149.39" width="38.01" height="2.1" fill="#fff" fill-opacity="0.26"/>
<rect x="68.96" y="13.41" width="12.18" height="2.55" fill="#fff" fill-opacity="0.29"/>
<rect x="35.74" y="69.34" width="10.94" height="3.25" fill="#fff" fill-opacity="0.32"/>
<rect x="126.97" y="55.78" width="17.44" height="2.62" fill="#fff" fill-opacity="0.44"/>
<rect x="106.76" y="77.24" width="47.7" height="3.07" fill="#000" fill-opacity="0.05"/>
<rect x="71.43" y="87.53" width="21.05" height="3.7" fill="#000" fill-opacity="0.05"/>
<rect x="-11.61" y="193.75" width="15.43" height="1.91" fill="#fff" fill-opacity="0.26"/>
<rect x="12.97" y="208.1" width="17.7" height="2.76" fill="#fff" fill-opacity="0.22"/>
<rect x="99.64" y="0.2" width="25.76" height="2.34" fill="#fff" fill-opacity="0.35"/>
<rect x="117.37" y="116.75" width="32.43" height="3.92" fill="#000" fill-opacity="0.04"/>
<rect x="174.99" y="73.84" width="22.53" height="3.24" fill="#000" fill-opacity="0.06"/>
<rect x="161.37" y="205.31" width="16.38" height="2.33" fill="#fff" fill-opacity="0.32"/>
<rect x="42.86" y="78.71" width="39.96" height="1.75" fill="#fff" fill-opacity="0.22"/>
<rect x="19.11" y="69.22" width="30.55" height="1.35" fill="#fff" fill-opacity="0.17"/>
<rect x="135.05" y="21.77" width="14.51" height="2.98" fill="#fff" fill-opacity="0.29"/>
<rect x="170.58" y="34.63" width="44.79" height="1.78" fill="#fff" fill-opacity="0.3"/>
<rect x="66.3" y="169.64" width="38.64" height="2.85" fill="#fff" fill-opacity="0.25"/>
<rect x="147.04" y="71.11" width="43.71" height="2.92" fill="#000" fill-opacity="0.05"/>
<rect x="117.06" y="150.58" width="43.24" height="1.81" fill="#000" fill-opacity="0.05"/>
<rect x="30.83" y="142.57" width="17.39" height="2.55" fill="#fff" fill-opacity="0.43"/>
<rect x="9.42" y="206.7" width="37.5" height="2.65" fill="#fff" fill-opacity="0.27"/>
<rect x="197.54" y="198.81" width="11.95" height="1.8" fill="#000" fill-opacity="0.03"/>
<rect x="140.87" y="60.93" width="49.75" height="1.96" fill="#fff" fill-opacity="0.16"/>
<rect x="86.27" y="115.57" width="24.94" height="3.04" fill="#fff" fill-opacity="0.4"/>
<rect x="66.17" y="60.44" width="34.71" height="3.95" fill="#000" fill-opacity="0.05"/>
<rect x="100.11" y="147.83" width="42.01" height="1.6" fill="#fff" fill-opacity="0.18"/>
<rect x="35.3" y="198.85" width="29.53" height="1.94" fill="#fff" fill-opacity="0.16"/>
<rect x="11.6" y="120.54" width="35.01" height="1.72" fill="#fff" fill-opacity="0.29"/>
<rect x="37.11" y="77.92" width="12.05" height="3.25" fill="#fff" fill-opacity="0.24"/>
<rect x="20.15" y="16.7" width="29.34" height="2.01" fill="#000" fill-opacity="0.06"/>
<rect x="71.21" y="103.15" width="42.28" height="1.33" fill="#fff" fill-opacity="0.32"/>
<rect x="117.07" y="139.92" width="21.08" height="3.66" fill="#000" fill-opacity="0.07"/>
<rect x="163.42" y="94.4" width="39" height="1.26" fill="#fff" fill-opacity="0.2"/>
<rect x="-3.58" y="25.3" width="24.36" height="2.28" fill="#000" fill-opacity="0.05"/>
<rect x="26.23" y="2.23" width="48.37" height="2.41" fill="#fff" fill-opacity="0.39"/>
<rect x="141.79" y="168.76" width="25.97" height="3.57" fill="#000" fill-opacity="0.06"/>
<rect x="2.18" y="210.01" width="48.02" height="2.82" fill="#fff" fill-opacity="0.23"/>
<rect x="-14.83" y="193.75" width="33.07" height="2.09" fill="#fff" fill-opacity="0.26"/>
<rect x="158.37" y="139.93" width="24.59" height="2.01" fill="#fff" fill-opacity="0.23"/>
<rect x="50.76" y="192.8" width="13.77" height="2.91" fill="#fff" fill-opacity="0.21"/>
<rect x="100.17" y="158.3" width="37.21" height="1.44" fill="#fff" fill-opacity="0.19"/>
<rect x="74.76" y="74.62" width="10.38" height="2.13" fill="#fff" fill-opacity="0.25"/>
<rect x="189.5" y="114.41" width="18.19" height="2.3" fill="#000" fill-opacity="0.06"/>
<rect x="197.25" y="23.08" width="27.2" height="2.05" fill="#000" fill-opacity="0.05"/>
<rect x="19.12" y="150.39" width="20.93" height="3.87" fill="#000" fill-opacity="0.04"/>
<rect x="58.58" y="39.07" width="49.58" height="2.66" fill="#fff" fill-opacity="0.26"/>
<rect x="26.7" y="137.15" width="34.65" height="3.64" fill="#000" fill-opacity="0.06"/>
<rect x="104.9" y="107.53" width="14.57" height="3.22" fill="#000" fill-opacity="0.05"/>
<rect x="72.26" y="141.74" width="25.39" height="2.58" fill="#fff" fill-opacity="0.32"/>
<rect x="-12.91" y="109.74" width="35.09" height="2.56" fill="#fff" fill-opacity="0.33"/>
<rect x="13.42" y="198.43" width="28.75" height="3.34" fill="#000" fill-opacity="0.04"/>
<rect x="197.67" y="156.93" width="26.08" height="1.82" fill="#000" fill-opacity="0.07"/>
<rect x="31.51" y="104.6" width="43.61" height="3.36" fill="#fff" fill-opacity="0.4"/>
<rect x="92.55" y="169.9" width="49.75" height="3.2" fill="#fff" fill-opacity="0.36"/>
<rect x="157.58" y="53.4" width="28.16" height="3.19" fill="#fff" fill-opacity="0.21"/>
<rect x="121.62" y="59.56" width="12.94" height="3.01" fill="#fff" fill-opacity="0.3"/>
<rect x="155.99" y="51.5" width="44.2" height="2.87" fill="#000" fill-opacity="0.07"/>
</g>
</g></g>
</g>
<g fill="none" stroke="#111" stroke-width="1.35" stroke-linejoin="round">
<path d="M753,136.2 L966,13.6 L1179.2,136.2 L966,258.8 Z"/>
<path d="M966,258.8 L966,472 M753,136.2 L753,349.2 L966,472 L1179.2,349.2 L1179.2,136.2"/>
<line x1="753" y1="136.2" x2="741.5" y2="129.58"/>
<line x1="753" y1="242.7" x2="741.5" y2="236.08"/>
<line x1="753" y1="349.2" x2="741.5" y2="342.58"/>
</g>
<g transform="matrix(1 0.58 0 1 753 136.2)">
<text x="-17.32" y="7.5" font-size="29.5" text-anchor="end">0.0</text>
<text x="-17.02" y="114" font-size="29.5" text-anchor="end">0.5</text>
<rect x="-71" y="103.6" width="10.5" height="1.8" fill="#000"/>
<text x="-17.32" y="220.5" font-size="29.5" text-anchor="end">1.0</text>
<rect x="-71" y="210.1" width="10.5" height="1.8" fill="#000"/>
<text x="7.1" y="271" font-size="31.88" font-weight="normal" font-style="normal" fill="#000" textLength="156.31" lengthAdjust="spacingAndGlyphs" >Momentum</text>
<g transform="translate(-85,181) rotate(-90)">
<text x="-0.95" y="0" font-size="33.33" font-weight="normal" font-style="italic" fill="#000" textLength="21.04" lengthAdjust="spacingAndGlyphs" >E</text>
<rect x="31.5" y="-9.8" width="7.5" height="1.9" fill="#000"/>
<text x="47.95" y="0" font-size="33.33" font-weight="normal" font-style="italic" fill="#000" textLength="21.04" lengthAdjust="spacingAndGlyphs" >E</text>
<text x="63.53" y="11.5" font-size="19.57" font-weight="normal" font-style="normal" fill="#000" textLength="11.22" lengthAdjust="spacingAndGlyphs" >F</text>
<text x="89.22" y="0" font-size="30.43" font-weight="normal" font-style="normal" fill="#000" textLength="49.84" lengthAdjust="spacingAndGlyphs" >(eV)</text>
</g>
</g>
<g transform="matrix(1 -0.58 0 1 966 258.8)">
<text x="21.47" y="270" font-size="31.59" font-weight="normal" font-style="normal" fill="#000" textLength="174.04" lengthAdjust="spacingAndGlyphs" >K deposition</text>
<line x1="197.8" y1="260" x2="213" y2="260" stroke="#111" stroke-width="1.4"/>
<path d="M221,260 L210.5,255 L213,260 L210.5,265 Z" fill="#111"/>
</g>
<text x="955.61" y="189.1" font-size="25.8" font-weight="normal" font-style="normal" fill="#d4202c" textLength="10.35" lengthAdjust="spacingAndGlyphs" >1</text>
<line x1="961.6" y1="199.2" x2="961.6" y2="238.5" stroke="#d4202c" stroke-width="1.9"/>
<path d="M961.6,246.5 L956.6,234.5 L961.6,237 L966.6,234.5 Z" fill="#d4202c"/>
<text x="988.52" y="167.5" font-size="23.29" font-weight="normal" font-style="normal" fill="#d4202c" textLength="15.35" lengthAdjust="spacingAndGlyphs" >2</text>
<line x1="997.2" y1="178.3" x2="997.2" y2="217.6" stroke="#d4202c" stroke-width="1.9"/>
<path d="M997.2,225.6 L992.2,213.6 L997.2,216.1 L1002.2,213.6 Z" fill="#d4202c"/>
<text x="1022.14" y="148.6" font-size="25.14" font-weight="normal" font-style="normal" fill="#d4202c" textLength="14.67" lengthAdjust="spacingAndGlyphs" >3</text>
<line x1="1030.5" y1="158.9" x2="1030.5" y2="198.2" stroke="#d4202c" stroke-width="1.9"/>
<path d="M1030.5,206.2 L1025.5,194.2 L1030.5,196.7 L1035.5,194.2 Z" fill="#d4202c"/>
<text x="1083.91" y="112.9" font-size="25.36" font-weight="normal" font-style="normal" fill="#d4202c" textLength="13.52" lengthAdjust="spacingAndGlyphs" >4</text>
<line x1="1091.4" y1="124.9" x2="1091.4" y2="163.3" stroke="#d4202c" stroke-width="1.9"/>
<path d="M1091.4,171.3 L1086.4,159.3 L1091.4,161.8 L1096.4,159.3 Z" fill="#d4202c"/>
<rect x="1207.9" y="269.2" width="11.8" height="46.2" fill="url(#cbar)" stroke="#111" stroke-width="1"/>
<text x="1186.34" y="250.9" font-size="25.22" font-weight="normal" font-style="normal" fill="#000" textLength="50.28" lengthAdjust="spacingAndGlyphs" >High</text>
<text x="1189.66" y="344.4" font-size="24.2" font-weight="normal" font-style="normal" fill="#000" textLength="46.86" lengthAdjust="spacingAndGlyphs" >Low</text>
</svg>
</body></html>
